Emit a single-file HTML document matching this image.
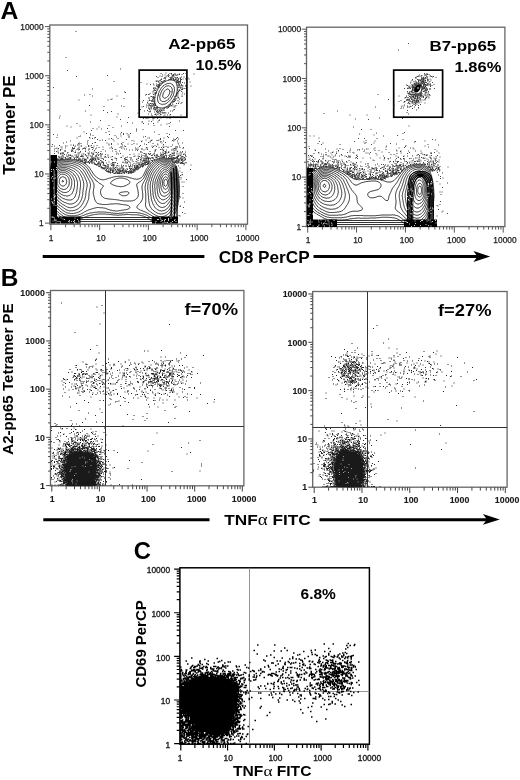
<!DOCTYPE html>
<html><head><meta charset="utf-8"><style>html,body{margin:0;padding:0;background:#fff;width:520px;height:780px;overflow:hidden}svg{display:block;will-change:transform}</style></head>
<body><svg width="520" height="780" viewBox="0 0 520 780">
<rect x="49.8" y="25" width="197.70" height="199.20" fill="none" stroke="#666" stroke-width="1.3"/>
<path d="M50.90 224.2v6M49.8 223.10h-4.8M65.58 224.2v3M49.8 208.31h-2.5M74.16 224.2v3M49.8 199.66h-2.5M80.25 224.2v3M49.8 193.52h-2.5M84.97 224.2v3M49.8 188.76h-2.5M88.83 224.2v3M49.8 184.87h-2.5M92.10 224.2v3M49.8 181.58h-2.5M94.93 224.2v3M49.8 178.74h-2.5M97.42 224.2v3M49.8 176.22h-2.5M99.65 224.2v6M49.8 173.97h-4.8M114.33 224.2v3M49.8 159.19h-2.5M122.91 224.2v3M49.8 150.54h-2.5M129.00 224.2v3M49.8 144.40h-2.5M133.72 224.2v3M49.8 139.64h-2.5M137.58 224.2v3M49.8 135.75h-2.5M140.85 224.2v3M49.8 132.46h-2.5M143.68 224.2v3M49.8 129.61h-2.5M146.17 224.2v3M49.8 127.10h-2.5M148.40 224.2v6M49.8 124.85h-4.8M163.08 224.2v3M49.8 110.06h-2.5M171.66 224.2v3M49.8 101.41h-2.5M177.75 224.2v3M49.8 95.27h-2.5M182.47 224.2v3M49.8 90.51h-2.5M186.33 224.2v3M49.8 86.62h-2.5M189.60 224.2v3M49.8 83.33h-2.5M192.43 224.2v3M49.8 80.49h-2.5M194.92 224.2v3M49.8 77.97h-2.5M197.15 224.2v6M49.8 75.72h-4.8M211.83 224.2v3M49.8 60.94h-2.5M220.41 224.2v3M49.8 52.29h-2.5M226.50 224.2v3M49.8 46.15h-2.5M231.22 224.2v3M49.8 41.39h-2.5M235.08 224.2v3M49.8 37.50h-2.5M238.35 224.2v3M49.8 34.21h-2.5M241.18 224.2v3M49.8 31.36h-2.5M243.67 224.2v3M49.8 28.85h-2.5M245.90 224.2v6M49.8 26.60h-4.8" stroke="#555" stroke-width="1.0" fill="none"/>
<g font-size="8.4" fill="#1a1a1a" stroke="#1a1a1a" stroke-width="0.25" font-family="Liberation Sans, sans-serif"><text x="43.6" y="226.3" text-anchor="end">1</text><text x="51.2" y="241.3" text-anchor="middle">1</text><text x="43.6" y="177.2" text-anchor="end">10</text><text x="100.9" y="241.3" text-anchor="middle">10</text><text x="43.6" y="128.0" text-anchor="end">100</text><text x="149.7" y="241.3" text-anchor="middle">100</text><text x="43.6" y="78.9" text-anchor="end">1000</text><text x="199.2" y="241.3" text-anchor="middle">1000</text><text x="43.6" y="29.8" text-anchor="end">10000</text><text x="247.7" y="241.3" text-anchor="middle">10000</text></g>
<rect x="306.5" y="27.2" width="198.40" height="199.40" fill="none" stroke="#666" stroke-width="1.3"/>
<path d="M307.70 226.6v6M306.5 226.40h-4.8M322.41 226.6v3M306.5 211.56h-2.5M331.02 226.6v3M306.5 202.88h-2.5M337.13 226.6v3M306.5 196.72h-2.5M341.86 226.6v3M306.5 191.94h-2.5M345.73 226.6v3M306.5 188.04h-2.5M349.00 226.6v3M306.5 184.74h-2.5M351.84 226.6v3M306.5 181.88h-2.5M354.34 226.6v3M306.5 179.36h-2.5M356.57 226.6v6M306.5 177.10h-4.8M371.29 226.6v3M306.5 162.26h-2.5M379.89 226.6v3M306.5 153.58h-2.5M386.00 226.6v3M306.5 147.42h-2.5M390.74 226.6v3M306.5 142.64h-2.5M394.61 226.6v3M306.5 138.74h-2.5M397.88 226.6v3M306.5 135.44h-2.5M400.71 226.6v3M306.5 132.58h-2.5M403.21 226.6v3M306.5 130.06h-2.5M405.45 226.6v6M306.5 127.80h-4.8M420.16 226.6v3M306.5 112.96h-2.5M428.77 226.6v3M306.5 104.28h-2.5M434.88 226.6v3M306.5 98.12h-2.5M439.61 226.6v3M306.5 93.34h-2.5M443.48 226.6v3M306.5 89.44h-2.5M446.75 226.6v3M306.5 86.14h-2.5M449.59 226.6v3M306.5 83.28h-2.5M452.09 226.6v3M306.5 80.76h-2.5M454.32 226.6v6M306.5 78.50h-4.8M469.04 226.6v3M306.5 63.66h-2.5M477.64 226.6v3M306.5 54.98h-2.5M483.75 226.6v3M306.5 48.82h-2.5M488.49 226.6v3M306.5 44.04h-2.5M492.36 226.6v3M306.5 40.14h-2.5M495.63 226.6v3M306.5 36.84h-2.5M498.46 226.6v3M306.5 33.98h-2.5M500.96 226.6v3M306.5 31.46h-2.5M503.20 226.6v6M306.5 29.20h-4.8" stroke="#555" stroke-width="1.0" fill="none"/>
<g font-size="8.4" fill="#1a1a1a" stroke="#1a1a1a" stroke-width="0.25" font-family="Liberation Sans, sans-serif"><text x="301.2" y="229.6" text-anchor="end">1</text><text x="308.0" y="243.2" text-anchor="middle">1</text><text x="301.2" y="180.3" text-anchor="end">10</text><text x="357.8" y="243.2" text-anchor="middle">10</text><text x="301.2" y="131.0" text-anchor="end">100</text><text x="406.8" y="243.2" text-anchor="middle">100</text><text x="301.2" y="81.7" text-anchor="end">1000</text><text x="456.3" y="243.2" text-anchor="middle">1000</text><text x="301.2" y="32.4" text-anchor="end">10000</text><text x="505.0" y="243.2" text-anchor="middle">10000</text></g>
<rect x="50.5" y="290.5" width="193.40" height="195.30" fill="none" stroke="#666" stroke-width="1.3"/>
<path d="M51.80 485.8v5.8M50.5 485.60h-4.4M66.14 485.8v3.4M50.5 471.08h-2.4M74.52 485.8v3.4M50.5 462.59h-2.4M80.47 485.8v3.4M50.5 456.57h-2.4M85.09 485.8v3.4M50.5 451.89h-2.4M88.86 485.8v3.4M50.5 448.07h-2.4M92.05 485.8v3.4M50.5 444.85h-2.4M94.81 485.8v3.4M50.5 442.05h-2.4M97.25 485.8v3.4M50.5 439.58h-2.4M99.42 485.8v5.8M50.5 437.38h-4.4M113.76 485.8v3.4M50.5 422.86h-2.4M122.15 485.8v3.4M50.5 414.37h-2.4M128.10 485.8v3.4M50.5 408.34h-2.4M132.71 485.8v3.4M50.5 403.67h-2.4M136.48 485.8v3.4M50.5 399.85h-2.4M139.67 485.8v3.4M50.5 396.62h-2.4M142.43 485.8v3.4M50.5 393.82h-2.4M144.87 485.8v3.4M50.5 391.36h-2.4M147.05 485.8v5.8M50.5 389.15h-4.4M161.39 485.8v3.4M50.5 374.63h-2.4M169.77 485.8v3.4M50.5 366.14h-2.4M175.72 485.8v3.4M50.5 360.12h-2.4M180.34 485.8v3.4M50.5 355.44h-2.4M184.11 485.8v3.4M50.5 351.62h-2.4M187.30 485.8v3.4M50.5 348.40h-2.4M190.06 485.8v3.4M50.5 345.60h-2.4M192.50 485.8v3.4M50.5 343.13h-2.4M194.68 485.8v5.8M50.5 340.93h-4.4M209.01 485.8v3.4M50.5 326.41h-2.4M217.40 485.8v3.4M50.5 317.92h-2.4M223.35 485.8v3.4M50.5 311.89h-2.4M227.96 485.8v3.4M50.5 307.22h-2.4M231.73 485.8v3.4M50.5 303.40h-2.4M234.92 485.8v3.4M50.5 300.17h-2.4M237.68 485.8v3.4M50.5 297.37h-2.4M240.12 485.8v3.4M50.5 294.91h-2.4M242.30 485.8v5.8M50.5 292.70h-4.4" stroke="#444" stroke-width="1.0" fill="none"/>
<g font-size="8.8" font-weight="bold" fill="#1a1a1a" stroke="#1a1a1a" stroke-width="0.1" font-family="Liberation Sans, sans-serif"><text x="44.8" y="488.8" text-anchor="end">1</text><text x="52.1" y="501.8" text-anchor="middle">1</text><text x="44.8" y="440.6" text-anchor="end">10</text><text x="100.6" y="501.8" text-anchor="middle">10</text><text x="44.8" y="392.3" text-anchor="end">100</text><text x="148.4" y="501.8" text-anchor="middle">100</text><text x="44.8" y="344.1" text-anchor="end">1000</text><text x="196.7" y="501.8" text-anchor="middle">1000</text><text x="44.8" y="295.9" text-anchor="end">10000</text><text x="244.1" y="501.8" text-anchor="middle">10000</text></g>
<rect x="312.7" y="291.5" width="194.40" height="195.70" fill="none" stroke="#666" stroke-width="1.3"/>
<path d="M314.20 487.2v5.8M312.7 487.20h-4.4M328.58 487.2v3.4M312.7 472.66h-2.4M336.99 487.2v3.4M312.7 464.16h-2.4M342.96 487.2v3.4M312.7 458.12h-2.4M347.59 487.2v3.4M312.7 453.44h-2.4M351.38 487.2v3.4M312.7 449.62h-2.4M354.57 487.2v3.4M312.7 446.38h-2.4M357.35 487.2v3.4M312.7 443.58h-2.4M359.79 487.2v3.4M312.7 441.11h-2.4M361.98 487.2v5.8M312.7 438.90h-4.4M376.36 487.2v3.4M312.7 424.36h-2.4M384.77 487.2v3.4M312.7 415.86h-2.4M390.74 487.2v3.4M312.7 409.82h-2.4M395.37 487.2v3.4M312.7 405.14h-2.4M399.15 487.2v3.4M312.7 401.32h-2.4M402.35 487.2v3.4M312.7 398.08h-2.4M405.12 487.2v3.4M312.7 395.28h-2.4M407.56 487.2v3.4M312.7 392.81h-2.4M409.75 487.2v5.8M312.7 390.60h-4.4M424.13 487.2v3.4M312.7 376.06h-2.4M432.54 487.2v3.4M312.7 367.56h-2.4M438.51 487.2v3.4M312.7 361.52h-2.4M443.14 487.2v3.4M312.7 356.84h-2.4M446.93 487.2v3.4M312.7 353.02h-2.4M450.12 487.2v3.4M312.7 349.78h-2.4M452.90 487.2v3.4M312.7 346.98h-2.4M455.34 487.2v3.4M312.7 344.51h-2.4M457.52 487.2v5.8M312.7 342.30h-4.4M471.91 487.2v3.4M312.7 327.76h-2.4M480.32 487.2v3.4M312.7 319.26h-2.4M486.29 487.2v3.4M312.7 313.22h-2.4M490.92 487.2v3.4M312.7 308.54h-2.4M494.70 487.2v3.4M312.7 304.72h-2.4M497.90 487.2v3.4M312.7 301.48h-2.4M500.67 487.2v3.4M312.7 298.68h-2.4M503.11 487.2v3.4M312.7 296.21h-2.4M505.30 487.2v5.8M312.7 294.00h-4.4" stroke="#444" stroke-width="1.0" fill="none"/>
<g font-size="8.8" font-weight="bold" fill="#1a1a1a" stroke="#1a1a1a" stroke-width="0.1" font-family="Liberation Sans, sans-serif"><text x="307.1" y="490.4" text-anchor="end">1</text><text x="314.5" y="503.2" text-anchor="middle">1</text><text x="307.1" y="442.1" text-anchor="end">10</text><text x="363.2" y="503.2" text-anchor="middle">10</text><text x="307.1" y="393.8" text-anchor="end">100</text><text x="411.1" y="503.2" text-anchor="middle">100</text><text x="307.1" y="345.5" text-anchor="end">1000</text><text x="459.5" y="503.2" text-anchor="middle">1000</text><text x="307.1" y="297.2" text-anchor="end">10000</text><text x="507.1" y="503.2" text-anchor="middle">10000</text></g>
<rect x="179.9" y="567.8" width="189.50" height="176.40" fill="none" stroke="#000" stroke-width="1.5"/>
<path d="M180.80 744.2v6.4M179.9 743.60h-5.8M194.88 744.2v3.8M179.9 730.47h-3.2M203.12 744.2v3.8M179.9 722.79h-3.2M208.96 744.2v3.8M179.9 717.34h-3.2M213.49 744.2v3.8M179.9 713.11h-3.2M217.20 744.2v3.8M179.9 709.65h-3.2M220.33 744.2v3.8M179.9 706.73h-3.2M223.04 744.2v3.8M179.9 704.20h-3.2M225.43 744.2v3.8M179.9 701.97h-3.2M227.57 744.2v6.4M179.9 699.98h-5.8M241.66 744.2v3.8M179.9 686.84h-3.2M249.89 744.2v3.8M179.9 679.16h-3.2M255.74 744.2v3.8M179.9 673.71h-3.2M260.27 744.2v3.8M179.9 669.48h-3.2M263.97 744.2v3.8M179.9 666.03h-3.2M267.10 744.2v3.8M179.9 663.11h-3.2M269.82 744.2v3.8M179.9 660.58h-3.2M272.21 744.2v3.8M179.9 658.35h-3.2M274.35 744.2v6.4M179.9 656.35h-5.8M288.43 744.2v3.8M179.9 643.22h-3.2M296.67 744.2v3.8M179.9 635.54h-3.2M302.51 744.2v3.8M179.9 630.09h-3.2M307.04 744.2v3.8M179.9 625.86h-3.2M310.75 744.2v3.8M179.9 622.40h-3.2M313.88 744.2v3.8M179.9 619.48h-3.2M316.59 744.2v3.8M179.9 616.95h-3.2M318.98 744.2v3.8M179.9 614.72h-3.2M321.12 744.2v6.4M179.9 612.73h-5.8M335.21 744.2v3.8M179.9 599.59h-3.2M343.44 744.2v3.8M179.9 591.91h-3.2M349.29 744.2v3.8M179.9 586.46h-3.2M353.82 744.2v3.8M179.9 582.23h-3.2M357.52 744.2v3.8M179.9 578.78h-3.2M360.65 744.2v3.8M179.9 575.86h-3.2M363.37 744.2v3.8M179.9 573.33h-3.2M365.76 744.2v3.8M179.9 571.10h-3.2M367.90 744.2v6.4M179.9 569.10h-5.8" stroke="#000" stroke-width="1.2" fill="none"/>
<g font-size="8.4" fill="#1a1a1a" stroke="#1a1a1a" stroke-width="0.35" font-family="Liberation Sans, sans-serif"><text x="170.1" y="747.7" text-anchor="end">1</text><text x="180.0" y="760.6" text-anchor="middle">1</text><text x="170.1" y="704.1" text-anchor="end">10</text><text x="228.2" y="760.6" text-anchor="middle">10</text><text x="170.1" y="660.5" text-anchor="end">100</text><text x="275.4" y="760.6" text-anchor="middle">100</text><text x="170.1" y="616.8" text-anchor="end">1000</text><text x="322.5" y="760.6" text-anchor="middle">1000</text><text x="170.1" y="573.2" text-anchor="end">10000</text><text x="369.4" y="760.6" text-anchor="middle">10000</text></g>
<text x="0.6" y="18.8" font-size="24.5" font-weight="bold" text-anchor="start" textLength="17.9" lengthAdjust="spacingAndGlyphs" font-family="Liberation Sans, sans-serif">A</text>
<text x="0.8" y="285.9" font-size="24.5" font-weight="bold" text-anchor="start" font-family="Liberation Sans, sans-serif">B</text>
<text x="133.7" y="559.0" font-size="24.5" font-weight="bold" text-anchor="start" textLength="17.2" lengthAdjust="spacingAndGlyphs" font-family="Liberation Sans, sans-serif">C</text>
<text x="168.3" y="49.0" font-size="15.5" font-weight="bold" text-anchor="start" textLength="67.3" lengthAdjust="spacingAndGlyphs" font-family="Liberation Sans, sans-serif">A2-pp65</text>
<text x="195.5" y="70.2" font-size="15.5" font-weight="bold" text-anchor="start" textLength="45.8" lengthAdjust="spacingAndGlyphs" font-family="Liberation Sans, sans-serif">10.5%</text>
<text x="429.5" y="51.3" font-size="15.5" font-weight="bold" text-anchor="start" textLength="66.7" lengthAdjust="spacingAndGlyphs" font-family="Liberation Sans, sans-serif">B7-pp65</text>
<text x="454.6" y="72.4" font-size="15.5" font-weight="bold" text-anchor="start" textLength="46.7" lengthAdjust="spacingAndGlyphs" font-family="Liberation Sans, sans-serif">1.86%</text>
<text x="184.4" y="315.1" font-size="16" font-weight="bold" text-anchor="start" textLength="53.6" lengthAdjust="spacingAndGlyphs" font-family="Liberation Sans, sans-serif">f=70%</text>
<text x="438" y="316.4" font-size="16" font-weight="bold" text-anchor="start" textLength="53.5" lengthAdjust="spacingAndGlyphs" font-family="Liberation Sans, sans-serif">f=27%</text>
<text x="300.6" y="599" font-size="14" font-weight="bold" text-anchor="start" textLength="35.3" lengthAdjust="spacingAndGlyphs" font-family="Liberation Sans, sans-serif">6.8%</text>
<text x="15.2" y="174.8" font-size="17" font-weight="bold" text-anchor="start" textLength="99.6" lengthAdjust="spacingAndGlyphs" transform="rotate(-90 15.2 174.8)" font-family="Liberation Sans, sans-serif">Tetramer PE</text>
<text x="218.8" y="262.5" font-size="16.5" font-weight="bold" text-anchor="start" textLength="90.9" lengthAdjust="spacingAndGlyphs" font-family="Liberation Sans, sans-serif">CD8 PerCP</text>
<text x="13.1" y="454.7" font-size="14.6" font-weight="bold" text-anchor="start" textLength="151.3" lengthAdjust="spacingAndGlyphs" transform="rotate(-90 13.1 454.7)" font-family="Liberation Sans, sans-serif">A2-pp65 Tetramer PE</text>
<text x="224.25" y="525" font-size="15.5" font-weight="bold" textLength="86.5" lengthAdjust="spacingAndGlyphs" font-family="Liberation Sans, sans-serif">TNF<tspan font-family="Liberation Serif, serif" font-weight="normal" font-size="17">&#945;</tspan> FITC</text>
<text x="145.8" y="687.5" font-size="14.5" font-weight="bold" text-anchor="start" textLength="87.2" lengthAdjust="spacingAndGlyphs" transform="rotate(-90 145.8 687.5)" font-family="Liberation Sans, sans-serif">CD69 PerCP</text>
<text x="233.1" y="776.3" font-size="14" font-weight="bold" textLength="78.3" lengthAdjust="spacingAndGlyphs" font-family="Liberation Sans, sans-serif">TNF<tspan font-family="Liberation Serif, serif" font-weight="normal" font-size="15.5">&#945;</tspan> FITC</text>
<path d="M42.7 256.4H204.4M313.5 256.4H478" stroke="#000" stroke-width="3" fill="none"/>
<path d="M490.2 256.5L473.4 251.1L477.5 256.5L473.4 261.9Z" fill="#000"/>
<path d="M43.3 519.7H209.5M319.5 519.7H488" stroke="#000" stroke-width="3" fill="none"/>
<path d="M499.8 519.6L482.9 514.1L487 519.6L482.9 524.8Z" fill="#000"/>
<rect x="139.2" y="70.1" width="47.7" height="47.1" fill="none" stroke="#000" stroke-width="1.7"/>
<rect x="393.7" y="70.1" width="48.9" height="47.1" fill="none" stroke="#000" stroke-width="1.7"/>
<path d="M105.5 290.5V485.8M50.5 426.5H243.9" stroke="#333" stroke-width="1" fill="none"/>
<path d="M367.5 291.5V487.2M312.7 427.5H507.1" stroke="#333" stroke-width="1" fill="none"/>
<path d="M249.5 567.8V744.2M179.9 691.5H369.4" stroke="#888" stroke-width="0.9" fill="none"/>
<path transform="scale(0.25)" d="M665 892l-2 0-2 0-2 0-2 0-2 0-2 0-2 0-2 0-2 0-2 0-2 0-2 0-2 0-2 0-2 0-2 0-2 0-2 0-2 0-2 0-2 0-2 0-2 0-1 0-1-1-2-1-2-2-2-1-1-1-1-1-2-1-2-2-2-1-1-1-1-1-2-1-2-2-2-1-2-1-2-1-1-1-1 0-2-2-1 0-1-1-2-1-1 0-1 0-2-1-1-1-1 0-2-1-2-1-1 0-1 0-2-1-2 0-2-1-2 0-2-1-2 0-2-1-2 0-2 0-2 0-2-1-2 0-2 0-2 0-2 0-2 0-2 0-2 0-2 0-2 0-2 0-2 0-2 0-2 0-2-1-2 0-2 0-2 0-2 0-2 0-2 0-2 0-2 0-2 0-2 1-2 0-2 0-2 0-2 0-2 0-2 0-2 1-2 0-2 0-2 0-2 0-2 0-2 1-2 0-2 0-2 0-2 0-2-1-2 0-2 0-2 0-2 0-2 0-2-1-2 0-2 0-2 0-2-1-2 0-2 0-2 0-2 0-2-1-2 0-2 0-2 0-2 0-2 0-2-1-2 0-2 0-2 0-2 0-2 0-1 0-1 0-2 0-2 0-2 0-2 0-2 0-2 0-2 0-2 0-2 0-2 1-2 0-2 0-2 0-2 0-2 1-2 0-1 0-1 0-2 1-2 0-2 0-2 1-1 0-1 0-2 1-2 0-2 1-2 0-2 1-2 0-2 1-2 0-2 1-2 1-1 0-1 0-2 1-2 1-2 1-2 0-1 1-1 0-2 1-2 1-2 1-2 0-2 1-2 1-2 0-2 1-2 1-2 0-2 1-2 1-2 0-2 1-2 0-2 0-2 1-2 0-2 0-2 0-2 0-2 0-2 0-2 0-2 0-2 0-2-1-2 0-2 0-2 0-2 0-2-1-2 0-2 0-2 0-2-1-2 0-2-1-2 0-1-1-1 0-2-1-2-1-2-1-1-1-1-1-2-1-2-2-2-1 0-1-2-1-1-1-1-1-1-1-1-1-1-1-1-1-1-1-1-1-1-1-1-1-1-1-1-1-1-1-1-1-1-1-1-1-1-1-1-1-1-1-1-1 0-1-2-2-2-2-1-2-1-1-1-1-1-2-1-2-1-1 0-1-2-2 0-1-1-1-1-2-1-2-1-2 0-2 0-2 0-2 0-2 0-2 0-2 0-2 0-2 0-2-1-2 0-2 0-2 0-2 0-2 0-2 0-2 0-2 0-2 0-2 0-2 0-2 0-2 0-2 0-2 0-2 0-2 0-2 0-2 0-2 0-2 0-2 0-2 0-2 0-2 0-2 0-2 0-2 0-2 0-2 0-2 0-2 0-2 0-2 0-2 0-2 0-2 0-2 0-2 0-2 0-2 0-2 0-2 0-2 0-2 0-2 0-2 0-2 0-2 0-2 0-2 0-2 0-2 0-2 0-2 0-2 0-2 0-2 0-2 0-2 0-2 0-2 1-2 0-2 0-2 0-2 0-2 0-2 0-1 1-1 1-2 2-2 2-2 2-2 2-2 2-1 1-1 1-1 2-1 2-1 1-1 1 0 2-1 1-1 1 0 2-1 2-1 2-1 2-1 1 0 1 0 2-1 2 0 2-1 2 0 2-1 2 0 2-1 2 0 1 0 1 0 2 0 2-1 2 0 2 0 2 0 2 0 2 0 2 0 2 0 2 0 2 0 2 0 2 0 2 0 2 0 2 0 2 0 2 1 2 0 1 0 1 0 2 1 2 0 2 0 2 1 1 0 1 0 2 1 2 0 2 1 1 0 1 0 2 1 2 1 1 0 1 0 2 1 2 1 1 0 1 0 2 1 2 1 2 1 2 1 2 1 2 1 2 2 1 0 1 1 2 1 2 2 2 2 2 2 2 2 2 2 2 2 2 2 0 1 1 1 1 1 1 1 1 2 1 2 1 1 1 1 1 2 1 2 1 1 1 1 1 2 1 2 1 2 1 0 1 2 1 2 1 1 1 1 1 1 1 1 1 2 2 2 2 2 2 2 1 0 1 1 1 1 1 1 2 1 2 1 1 1 1 1 2 1 1 0 1 0 2 1 2 1 1 0 1 0 2 1 2 0 2 0 2 0 2 0 2 0 2-1 1 0 1 0 2-1 2 0 2-1 1 0 1-1 2 0 2-1 1 0 1-1 2 0 2-1 1 0 1 0 2-1 2-1 1 0 1 0 2-1 2 0 2-1 2 0 2-1 2 0 2 0 2-1 2 0 1 0 1 0 2 0 2-1 2 0 2 0 2 0 2 0 2 0 2 0 2 0 2 0 2 0 2 0 2 0 2 1 2 0 1 0 1 0 2 0 2 1 2 0 2 1 2 0 2 0 2 1 2 0 2 1 2 1 2 0 2 1 1 0 1 0 2 1 2 1 1 0 1 0 2 1 2 0 2 1 2 0 2 0 2 0 2 1 2 0 2 0 2-1 2 0 2 0 2-1 2-1 2-1 2-1 2-1 1-1 1-1 1-1 1-1 1-1 1-2 2-2 0-1 1-1 1-2 1-2 1-2 1-2 1-2 1-2 1-2 0-1 1-1 1-2 0-1 1-1 1-2 0-1 1-1 1-2 1-2 1-1 1-1 1-2 1-2 1-1 1-1 1-2 2-2 2-2 2-2 0-1 1-1 1-1 1-1 1-1 1-1 1-1 2-1 0-1 2-1 2-2 1 0 1-1 2-1 2-1 2-1 2-1 2-1 2-1 2-1 1 0 1 0 2-1 2 0 2-1 1 0 1 0 2-1 2 0 2 0 2 0 2-1 2 0 2 0 2 0 2 0 2 1 2 0 2 0 2 1 2 0 2 1 2 0 2 1 2 1 2 1 1 0 1 1 2 1 1 0 1 1 2 1 2 1 1 1 1 1 1 1 1 1 2 1 0 1 2 1 0 1 1 1 1 1 1 1 1 2 2 2 0 1 1 1 1 2 1 2 1 2 1 2 1 2 0 1 1 1 0 2 1 2 0 1 1 1 0 2 1 2 0 2 1 2 0 2 0 2 1 2 0 2 0 2 1 2 0 2 0 2 0 2 1 2 0 2 0 2 0 2 0 1 0 1 0 2 1 2 0 2 0 2 0 2 0 2 0 2 1 2 0 2 0 2 0 2 0 2 0 2 0 1 0 1 0 2 0 2 1 2 0 2 0 2 0 2 0 2 0 2 0 2 0 2 0 2 0 2 0 2-1 2 0 2 0 2 0 2 0 2 0 2 0 2-1 2 0 2 0 2 0 2 0 2-1 2 0 1 0 1 0 2 0 2-1 2 0 2 0 2-1 2 0 1 0 1 0 2-1 2 0 2 0 2-1 2 0 2-1 2 0 2-1 2 0 1 0 1-1 2 0 2-1 2 0 2-1 2-1 2-1 2 0 2-1 1 0 1-1 2-1 2-1 2-1 2-1 2-1 2-1 2-1 2-1 2-1 2-1 2-1 1-1 1-1 2-1 2-1 0-1 2-1 1-1 1-1 1-1 1-1 1-1 1-1 1-2 1-2 2-1 0-1 1-2 1-2 1-2 1-2 0M505 782l2-1 2-1 2-1 1-1 1-1 1-1 1-2 0-2 0-2-2-2-2-1-2 0-2 0-2 0-2 0-2 0-2 0-2 0-2 1-2 0-2 0-2 1-2 0-2 0-2 1-1 0-1 0-2 1-1 1-1 2 1 2 1 1 2 1 2 2 1 0 1 1 2 0 2 1 2 1 2 0 2 0 2 0 2 0 2 0 2-1 2 0M653 886l-2 0-2 1-2 0-2 0-2 0-2 0-2 0-2 0-2 0-2 0-2-1-1 0-1 0-2-1-2-1-2-1-2-1-2-1-2-1-2-1-1-1-1-1-1-1-1 0-2-2-2-1-1-1-1 0-2-2-2-1-1-1-1 0-2-1-1-1-1-1-2-1-2-1-2-1-2-1-2-1-1 0-1-1-2 0-2-1-2-1-2-1-1 0-1 0-2-1-2 0-2-1-2 0-2-1-2 0-2-1-2 0-2 0-2-1-2 0-2 0-2-1-2 0-2 0-1 0-1 0-2 0-2 0-2 0-2 0-2 0-2 0-2 0-2 0-1 0-1 0-2 0-2 0-2 0-2 0-2 0-2 1-2 0-2 0-2 0-2 0-2 0-2 0-2 0-2 0-2 1-2 0-1 0-1 0-2 0-2 1-2 0-2 0-2 0-2 0-2 1-2 0-2 0-2 0-2 0-2 0-2 0-2-1-2 0-2 0-2 0-2 0-2-1-2 0-2 0-2 0-2-1-2 0-2 0-2-1-2 0-1 0-1 0-2 0-2-1-2 0-2 0-2 0-2-1-2 0-2 0-2 0-1 0-1 0-2 0-2 0-2 0-2 0-2 0-2 0-2 0-2 0-2 0-2 0-2 0-2 0-2 1-2 0-2 0-2 0-2 0-2 1-2 0-1 0-1 0-2 1-2 0-2 0-2 1-2 0-2 0-2 1-2 0-2 1-2 0-2 1-2 1-1 0-1 0-2 1-2 1-1 0-1 0-2 1-2 1-2 1-2 1-1 0-1 1-2 0-1 1-1 0-2 1-2 1-1 0-1 0-2 1-2 1-2 0-2 1-2 1-1 0-1 0-2 1-2 0-2 0-2 1-2 0-2 0-2 0-2 0-2 0-2 0-2 0-2 0-1 0-1 0-2 0-2 0-2-1-2 0-2 0-2 0-2-1-1 0-1 0-2-1-2 0-2-1-2-1-2 0-1-1-1 0-2-1-1-1-1-1-2-1-2-1-1-1-1-1-1-1-1-1-1-1-1 0-2-2-2-2-2-2-2-1 0-1-2-1-1-1-1-1-1-1-1-1-1-1-1-1 0-1-2-2-2-2-2-2-1-2-1-1 0-1-2-2-1-2-1-1 0-1-2-2-1-2-1-2-1-2-1-2-1-2-1-2-1-2-1-1 0-1 0-2 0-2 0-2 0-2 0-2 0-2 0-2 0-2 0-2-1-2 0-2 0-2 0-2 0-2 0-2 0-2 0-2 0-2 0-2 0-2 0-2 0-2 0-2 0-2 0-2 0-2 0-2 0-2 0-2 0-2 0-2 0-2 0-2 0-2 0-2 0-2 0-2 0-2 0-2 0-2 0-2 0-2 0-2 0-2 0-2 0-2 0-2 0-2 0-2 0-2 0-2 0-2 0-2 0-2 0-2 0-2 0-2 0-2 0-2 0-2 1-2 0-2 0-2 0-2 0-2 0-2 0-1 1-1 1-2 2-2 0-1 1-1 1-1 1-1 1-1 1-1 1-1 1-1 1-1 1-1 1-1 2-1 2-2 2-1 2-1 2-1 2-1 2-1 2-1 2-1 2-1 1 0 1 0 2-1 2-1 2 0 2-1 2 0 2 0 2-1 2 0 1 0 1 0 2 0 2-1 2 0 2 0 2 0 2 0 2 0 2 0 2 0 2 0 2 0 2 0 2 0 2 1 2 0 1 0 1 0 2 0 2 1 2 0 2 1 2 0 2 1 2 0 2 1 1 0 1 0 2 1 2 0 2 1 2 1 2 1 1 0 1 0 2 1 2 1 2 1 2 1 2 1 1 1 1 0 2 2 1 0 1 1 1 1 1 1 2 1 2 2 2 2 2 2 2 2 0 1 1 1 1 1 1 1 1 2 2 2 1 2 1 2 2 2 0 1 1 1 1 2 1 2 1 2 1 2 1 1 1 1 1 2 0 1 1 1 1 2 2 2 1 2 1 1 1 1 1 2 2 2 2 2 2 2 0 1 2 1 0 1 2 1 0 1 2 1 0 1 2 1 2 2 2 2 2 1 1 1 1 1 2 1 2 2 1 0 1 1 2 1 2 1 1 1 1 1 2 1 1 0 1 1 1 1 1 2 0 2-1 2-1 1-1 1-1 1 0 1-2 2-1 2-1 1-1 1 0 2-1 1 0 1-1 2 0 2 0 2 0 2 0 2 1 2 0 2 1 2 1 2 0 1 1 1 1 2 2 2 2 2 2 2 1 0 1 1 2 1 1 0 1 1 2 0 2 1 1 0 1 0 2 1 2 0 2 0 2 1 2 0 2 0 2 0 2 0 2 1 2 0 2 0 2 0 2 0 2 1 2 0 2 0 1 0 1 0 2 0 2 1 2 0 2 0 2 0 2 1 2 0 2 0 2 1 2 0 2 1 2 0 2 0 2 1 2 0 2 0 2 0 2 1 2 0 2 0 2 0 2 0 2 0 2 0 2 0 2 0 2 0 2 0 2 0 2 0 2 0 2 0 2 0 2-1 2 0 2 0 2-1 1 0 1-1 2 0 2-1 2-1 1-1 1-1 2-1 2-2 2-2 0-1 1-1 1-2 1-2 1-2 0-2 0-2 1-2 0-2-1-2 0-2 0-2 0-2-1-2 0-2 0-2-1-2 0-2-1-2 0-2-1-2 0-2-1-2 0-2-1-2 0-1 0-1 0-2 0-2 1-2 1-2 1 0 1-1 1-1 1-1 2-1 2-2 1 0 1-1 2-1 2-2 1 0 1-1 1-1 1-1 1-1 1-1 1-1 1-1 1-1 1-1 1-1 1-2 1-2 1-2 1-2 1-1 0-1 1-2 1-2 1-2 1-2 1-2 1-2 0-1 1-1 0-2 1-2 1-2 1-2 1-2 1-1 1-1 1-2 0-1 1-1 1-2 2-2 1-2 1-1 1-1 1-2 1 0 1-2 2-2 2-2 0-1 1-1 1-1 1-1 1-1 1-1 1-1 2-1 2-2 2-1 1-1 1-1 2-1 2-1 2-1 2-1 2-1 1 0 1 0 2-1 2-1 2 0 2-1 2 0 2 0 2-1 2 0 2 0 2 0 2 0 2 0 2 0 2 1 2 0 2 0 2 1 2 1 2 0 2 1 2 1 2 1 2 1 2 1 2 2 1 0 1 1 1 1 1 1 2 1 0 1 2 1 0 1 1 1 1 1 1 1 1 2 2 2 0 1 1 1 1 2 1 2 1 2 1 2 1 2 1 2 1 2 0 1 1 1 0 2 1 2 0 1 0 1 1 2 1 2 0 2 0 1 0 1 1 2 0 2 1 2 0 2 0 2 0 1 0 1 1 2 0 2 0 2 0 2 0 2 1 2 0 2 0 2 0 2 0 2 1 2 0 2 0 2 0 2 0 2 0 2 1 2 0 2 0 2 0 2 0 2 0 2 0 2 0 2 0 2 0 2 0 2 0 2 0 2 0 2 0 2 0 2 0 2 0 2 0 2 0 2-1 2 0 2 0 2 0 2-1 2 0 2 0 2 0 2-1 2 0 2 0 2-1 2 0 2-1 2 0 2 0 2-1 2 0 2-1 2 0 2-1 2 0 2-1 2 0 2-1 1 0 1-1 2 0 2-1 1 0 1-1 2-1 2 0 1 0 1-1 2-1 2-1 2-1 2-1 2-1 2-1 2-1 2-1 2-1 1 0 1-1 2-1 1-1 1-1 2-1 2-1 1-1 1-1 1-1 1-1 1 0 1-2 1 0 1-2 1-1 1-1 1-1 1-1 0-2 2-1 0-1 1-2 1-1 0-1 1-2 0-2 1-2 1-2 0-2 1-1 0-1 0M489 746l-2 0-2 1-2 0-2 0-2-1-2 0-2 0-1 0-1 0-2-1-2 0-2 0-2-1-2-1-2 0-2-1-2-1-2 0-2-1-2-1-2-1-2-1-2-1-2-2 0-2 0-1 0-1 2-2 2-2 0-1 2-1 2-2 2-1 2-1 2-1 1-1 1-1 2 0 1-1 1 0 2-1 2-1 1 0 1 0 2-1 2 0 2 0 2-1 2 0 2 0 2 0 2 0 2 0 2 0 2 1 2 0 2 0 2 1 1 0 1 0 2 1 2 1 1 0 1 0 2 1 2 1 2 1 1 1 1 1 2 1 2 2 2 2 0 2 0 2 0 1 0 1-2 2-2 2-2 1-1 1-1 0-2 1-1 1-1 1-2 0-1 1-1 0-2 1-2 1-2 0-2 1-2 1-2 0-1 0-1 0M653 876l-2 1-2 0-2 0-2 0-2 0-2 0-2 0-2 0-2-1-2 0-2-1-2 0-2-1-2-1-2-1-2-1-2-1-2-1-1-1-1-1-2-1-2-1-1-1-1 0-2-2-1 0-1-1-2-1-2-1-1-1-1 0-2-2-2-1-2-1-2-1-2-1-2-1-2-1-2-1-2-1-2-1-2-1-2-1-2 0-1-1-1 0-2-1-2-1-2-1-2 0-1-1-1 0-2-1-2-1-2-1-1-1-1 0-2-2-2-2-1-2 0-2 0-2 1-1 1-1 1-2 2-2 0-1 1-1 1-1 1-1 1-1 1-1 1-1 1-1 1-1 1-1 1-2 1 0 1-2 1-2 1-2 1-2 1-2 0-1 0-1 1-2 0-2 1-2 0-2 0-2 0-2 0-2 0-2 0-2 0-2 0-2 0-2-1-2 0-2 0-2 0-2-1-2 0-2 0-2 0-2-1-2 0-2 0-2 0-2 0-2 0-2 1-2 0-2 1-2 1-2 0-1 1-1 1-2 0-1 1-1 1-2 1-2 1-2 1-2 1-1 1-1 1-2 0-1 1-1 1-2 0-1 1-1 0-2 1-2 1-2 1-2 0-1 1-1 0-2 1-2 1-2 1-2 0-1 1-1 0-2 1-2 1-2 1-1 0-1 2-2 0-1 1-1 1-2 1-2 1-1 1-1 1-2 2-2 1-2 1-1 1-1 1-1 1-1 1-2 2-2 2-2 2-2 2-2 2-2 1 0 1-1 1-1 1-1 2-1 2-1 2-1 2-1 2-1 2-1 2 0 2-1 2 0 2-1 2 0 2 0 2-1 2 0 2 0 2 0 2 1 2 0 2 0 2 1 1 0 1 0 2 1 2 1 1 0 1 1 2 1 1 0 1 1 2 1 2 1 1 1 1 1 1 1 1 1 1 1 1 1 1 1 1 1 1 1 1 2 1 0 1 2 1 2 1 2 2 2 0 1 1 1 1 2 0 1 1 1 0 2 1 2 1 2 1 2 0 2 1 2 1 2 0 2 1 2 0 2 0 2 1 2 0 2 1 2 0 2 0 2 0 2 1 2 0 2 0 2 0 2 1 2 0 2 0 2 0 2 0 2 1 2 0 2 0 2 0 2 0 2 1 2 0 2 0 2 0 2 0 2 0 2 0 2 0 2 0 2 0 2 0 2 0 2 0 2 0 2 0 2 0 2 0 2 0 2 0 2-1 2 0 2 0 2 0 2-1 2 0 2 0 2-1 2 0 1 0 1 0 2-1 2 0 2-1 2 0 2-1 2 0 2-1 2-1 2 0 2-1 2 0 2-1 2-1 2 0 2-1 2-1 2-1 2 0 2-1 1 0 1-1 2-1 2-1 2-1 2-1 2-1 2-1 2-1 1 0 1-2 2-1 2-1 2-1 2-1 0-1 2-1 1-1 1-1 1 0 1-2 2-2 2-2 1-1 1-1 1-2 1-2 1-1 1-1 0-2 1-2 1-2 1-2 0-2 1-1 0-1 0M303 862l-2 1-2 0-2 0-2 0-2 0-2 0-2 0-2 0-2 0-2 0-2 0-2 0-2-1-2 0-1 0-1 0-2-1-2 0-2-1-1 0-1 0-2-1-2-1-2-1-2-1-2-1-2-1-2-2-2-1-1-1-1-1-2-1-2-2-2-1-1-1-1-1-1-1-1-1-1-1-1-1-1-1-1 0-2-2-2-2-2-2-1-2-1-1-1-1-1-1-1-1-1-1 0-1-2-2-1-2-1-1 0-1-2-2-1-2-1-2-1-2-1-1 0-1-1-2-1-1-1-1-1-2-1-2-1-2-1-2-1-2 0-2 0-2 0-2 0-2 0-2 0-2 0-2 0-2 0-2 0-2 0-2 0-2-1-2 0-2 0-2 0-2 0-2 0-2 0-2 0-2 0-2 0-2 0-2 0-2 0-2 0-2 0-2 0-2 0-2 0-2 0-2 0-2 0-2 0-2 0-2 0-2 0-2 0-2 0-2 0-2 0-2 0-2 0-2 0-2 0-2 0-2 0-2 0-2 1-2 0-2 0-2 0-2 0-2 0-2 0-2 0-2 1-2 1-2 2-2 0-1 1-1 1-2 2-2 2-2 0-1 1-1 1-1 1-1 1-1 2-1 2-2 2-1 1-1 1-1 2-1 2-1 2-1 2-1 2-1 1 0 1-1 2 0 2-1 2-1 2 0 2-1 2 0 2-1 2 0 2 0 2 0 2-1 2 0 2 0 2 0 1 0 1 0 2 0 2 0 1 0 1 0 2 0 2 0 2 0 2 1 2 0 2 0 2 0 2 1 2 0 2 1 2 0 2 1 2 0 2 1 2 0 2 1 2 1 2 0 2 1 2 1 2 1 2 1 2 1 2 1 2 1 2 1 1 1 1 1 2 1 2 2 2 2 1 0 1 1 1 1 1 2 1 0 1 2 2 2 2 2 0 1 1 1 1 2 2 2 0 1 1 1 1 2 1 2 1 2 1 2 1 1 1 1 1 2 0 1 1 1 1 2 0 1 1 1 1 2 1 2 1 2 2 2 0 1 1 1 1 2 2 2 0 1 1 1 1 2 1 2 1 2 1 2 1 2 1 2 1 2 0 2 1 2 0 2 0 2 0 2 0 2 0 2 0 2 0 2-1 2 0 2-1 2 0 2 0 2 0 2-1 2 0 2 0 2 0 2 0 2 1 2 0 2 0 2 1 2 0 2 1 2 0 2 1 2 0 1 0 1 1 2 1 2 0 2 1 2 1 2 0 1 1 1 1 2 1 2 1 1 1 1 1 1 1 1 1 1 2 1 1 0 1 0 2 1 2 1 2 0 1 0 1 0 2 1 2 0 2 0 2 1 2 0 1 0 1 0 2 0 2 0 2 0 2 0 2 0 2 0 2 0 2 0 2 0 2-1 2 0 2 0 2 0 2-1 2 0 2 0 2 0 2 0 2 0 2 0 2-1 2 0 2 0 2 0 2 0 2 0 2 0 2 0 2 0 2 1 2 0 2 0 2 0 2 1 2 0 2 0 2 1 2 0 1 0 1 0 2 0 2 1 2 0 2 0 2 0 2 1 2 0 2 0 2 1 2 1 1 0 1 0 2 2 1 0 1 1 1 1 1 2 1 2-1 1 0 1-2 2-2 1-2 1-2 1-2 0-2 1-2 0-2 1-2 0-2 0-2 0-2 1-1 0-1 0-2 0-2 1-2 0-2 0-2 1-1 0-1 0-2 0-2 1-2 0-2 0-2 1-2 0-2 0-2 0-2 0-2 0-2-1-2 0-2 0-2 0-2-1-2 0-2-1-2 0-2 0-2-1-2-1-2 0-2-1-2 0-2-1-2-1-2-1-2 0-2-1-2-1-2 0-2-1-1 0-1 0-2 0-2-1-2 0-2 0-2 0-2 0-2 0-2 0-2-1-2 0-2 0-2 0-2 0-2 0-2 1-2 0-2 1-1 0-1 0-2 1-2 0-2 1-2 0-2 1-2 1-2 0-2 1-2 1-1 0-1 0-2 1-2 1-1 0-1 0-2 1-1 1-1 0-2 1-2 1-2 1-1 1-1 0-2 1-1 1-1 0-2 1-1 1-1 1-2 1-2 1-2 1-2 1-2 1-1 0-1 1-2 0-1 1-1 0-2 1-2 1-1 0-1 0-2 1-2 0-2 1-1 0-1 0M651 866l-2 1-2 0-2 0-2 0-2 0-2-1-2 0-2 0-2-1-2-1-1 0-1 0-2-1-2-1-2-1-2-1-2-1-1-1-1 0-2-2-2-1-2-1-2-1-1-1-1-1-2-1-2-2-2-1-1-1-1-1-2-1-2-2-2-2-2-1 0-1-2-1 0-1-2-2-1-2-1-1 0-1-1-2-1-2 0-2-1-2 0-2 0-2 0-2 0-2 0-2 1-2 0-2 0-2 0-2 0-2 0-2 0-2 0-2 0-2 0-2 0-2 0-2 0-2 0-2 0-2 0-2 0-2 0-2 0-2-1-2 0-2 0-2 0-2 0-2-1-2 0-2 0-1 0-1 0-2 0-2 0-2-1-2 0-2 1-2 0-2 0-2 0-2 1-2 0-2 1-2 0-1 1-1 0-2 1-2 1-2 1-2 0-1 1-1 0-2 1-2 1-2 1-2 0-1 0-1 1-2 1-2 0-1 1-1 0-2 1-2 0-1 1-1 0-2 1-2 1-2 1-2 1-2 1-2 1-2 1-2 2-2 0-1 1-1 1-2 2-2 0-1 1-1 1-1 1-1 1-2 2-2 2-2 0-1 1-1 1-1 1-1 1-1 1-1 1-1 1-1 1-1 2-1 2-2 2-1 1-1 1-1 2-1 1 0 1-1 2-1 1 0 1 0 2-1 2-1 2 0 2 0 2-1 2 0 2 0 2 0 2 0 2 1 2 0 2 1 2 0 2 1 2 1 2 1 2 1 2 1 2 2 1 0 1 1 1 1 1 1 1 1 1 1 1 1 1 2 2 2 1 2 1 2 2 2 0 1 1 1 1 2 0 1 1 1 1 2 0 2 1 2 1 2 0 1 1 1 0 2 1 2 0 1 0 1 1 2 0 2 1 2 0 2 1 2 0 2 0 2 1 2 0 2 0 2 1 2 0 2 0 2 0 2 1 2 0 2 0 2 0 2 0 2 1 2 0 2 0 2 0 2 0 2 1 2 0 2 0 2 0 2 0 2 0 2 0 2 0 2 0 2 0 2 0 2 0 2 0 2 0 2 0 2-1 2 0 2 0 2 0 2-1 2 0 2 0 2-1 2 0 2-1 2 0 2-1 2 0 2-1 1 0 1-1 2 0 2-1 2-1 2 0 2-1 1 0 1-1 2-1 2 0 1 0 1-1 2-1 2-1 2-1 2 0 2-1 2-1 1 0 1-1 2-1 1 0 1-1 2-1 1 0 1-2 2-1 2-1 1 0 1-2 2-1 2-1 1-1 1-1 1 0 1-2 2-2 2-2 1-1 1-1 1-1 1-1 0-2 1-1 1-1 1-2 0-1 1-1 0-2 1-2 0-2 1-2 0M301 852l-2 1-2 0-2 0-2 1-2 0-2 0-2 0-2 0-2 0-2 0-2-1-2 0-2 0-2-1-1 0-1 0-2-1-2 0-1-1-1 0-2-1-1-1-1 0-2-1-1-1-1-1-2-1-2-1-1-1-1-1-1-1-1 0-2-2-2-2-2-1-1-1-1-1-1-1-1 0-2-2-2-2-2-1 0-1-2-1 0-1-2-1 0-1-2-2-2-2-1-2-1-1-1-1-1-1 0-1-2-2-1-2-1-1 0-1-1-2-1-1-1-1-1-2-1-2-1-2-1-2-1-1 0-1-1-2-1-2-1-2-1-2 0-2-1-2-1-2 0-1 0-1 0-2 0-2 0-2 0-2 0-2 0-2 0-2 0-2 0-2 0-2 0-2 0-2 0-2 0-2 0-2-1-2 0-2 0-2 0-2 0-2 0-2 0-2 0-2 0-2 0-2 0-2 0-2 0-2 0-2 0-2 0-2 0-2 1-2 0-2 0-2 0-2 0-2 0-2 0-2 0-2 0-2 0-2 1-2 1-2 1-2 1-2 1-2 1-2 2-2 0-1 1-1 1-2 1 0 1-2 2-2 2-2 2-2 2-1 1-1 1-1 2-1 2-1 1-1 1-1 2-1 1 0 1 0 2-1 2-1 2-1 2 0 2-1 2 0 2-1 2 0 2-1 2 0 1 0 1 0 2 0 2 0 2 0 2 0 2 0 2 0 2 0 2 0 1 0 1 0 2 0 2 1 2 0 2 0 2 1 2 0 2 0 2 1 2 1 2 0 2 1 2 0 2 1 2 1 2 1 1 0 1 1 2 0 1 1 1 0 2 1 1 1 1 1 2 1 2 1 1 1 1 1 2 1 2 2 2 2 2 2 2 2 2 2 1 2 1 1 1 1 1 2 2 2 0 1 1 1 1 2 1 2 1 2 1 2 1 2 1 2 1 2 1 2 1 1 1 1 1 2 0 1 1 1 1 2 0 1 1 1 1 2 0 1 1 1 1 2 0 1 1 1 1 2 0 2 1 2 0 2 1 2 0 2 1 2 0 2 0 2-1 2 0 2 0 1 0 1 0 2-1 2 0 2-1 2 0 2-1 2 0 2-1 2 0 1 0 1 0 2 0 2-1 2 0 2 0 2 0 2 0 2 0 2 0 2-1 2 0 2 0 1 0 1 0 2 0 2-1 2 0 2-1 2-1 2 0 2-1 1 0 1-1 2-1 2-1 2-1 2-1 2-1 2-1 2-1 2-1 2-1 1-1 1-1 2-2 2-1 2-1 1-1 1-1 1-1 1-1 1-1 1-1 1-2 1-2 2-2 1-1 1-1 0-2 2-2 1-2 1-2 1-2 0-1 1-1 0-2 1-2 0-2 1-2 0M655 854l-2 1-2 0-2 1-2 0-2 0-2 0-2 0-2-1-2 0-2-1-1 0-1 0-2-1-2-1-2-1-2-1-2-1-1-1-1 0-2-2-2-1-1-1-1-1-2-1-2-2-2-2-2-2-1-2-1-1-1-1-1-2-1-2-1-1 0-1-1-2-1-2 0-2-1-2 0-2-1-2 0-2-1-2 0-2 0-2-1-2 0-2 0-2 0-2 0-2-1-2 0-2 0-2 0-2 0-2 0-2-1-2 0-2 0-1 0-1 0-2 0-2 0-2-1-2 0-2 0-2 0-2 0-2 0-2-1-2 0-2 0-2 0-2 0-2 0-2 0-2 0-2 0-2 0-1 0-1 1-2 0-2 0-2 1-2 0-1 0-1 1-2 1-2 0-2 1-2 1-2 0-2 1-2 1-2 0-2 1-2 1-2 0-2 1-2 1-2 0-1 1-1 0-2 1-2 1-2 1-2 1-2 1-2 2-2 0-1 1-1 1-2 2-2 0-1 1-1 1-1 1-1 1-2 2-2 2-2 0-1 1-1 1-1 1-1 1-1 1-1 1-1 1-1 1-1 2-1 0-1 2-1 2-1 1-1 1-1 2-1 1 0 1-1 2 0 2-1 2-1 2 0 2 0 2 0 2 0 2 0 2 0 2 0 2 1 2 1 2 0 1 1 1 0 2 2 1 0 1 1 2 1 2 2 2 2 2 2 2 2 0 1 1 1 1 2 2 2 0 1 1 1 1 2 0 1 1 1 1 2 0 1 1 1 0 2 1 2 1 2 1 2 0 2 1 2 0 2 1 2 0 2 1 2 0 2 0 2 1 2 0 2 0 1 0 1 1 2 0 2 0 2 1 2 0 2 0 2 0 1 0 1 1 2 0 2 0 2 0 2 0 2 1 2 0 2 0 2 0 2 0 2 0 2 0 2 0 2 0 2 0 2 0 2 0 2 0 2 0 2 0 2 0 2 0 2-1 2 0 2 0 2-1 2 0 1 0 1 0 2-1 2 0 2-1 1 0 1-1 2 0 2-1 2-1 2 0 2-1 1 0 1-1 2-1 2-1 2 0 2-1 1 0 1-1 2-1 1 0 1-1 2-1 1 0 1-1 2-1 2-1 2-1 2-1 2-1 1 0 1-1 2-1 1-1 1-1 2-1 2-1 0-1 2-1 1-1 1-1 1-1 1-1 1-1 1-1 1-1 1-1 1-2 1-2 1-2 1-2 1-2 1-2 0M295 842l-2 0-2 1-2 0-2 0-2 0-2 0-2 0-2 0-2 0-2-1-1 0-1 0-2-1-2-1-1 0-1 0-2-1-1-1-1-1-2-1-2-1-1-1-1 0-2-2-2-1-1-1-1-1-2-1-2-2-2-1-1-1-1 0-2-2-2-1 0-1-2-1-1-1-1-1-1-1-1-1-1-1-1-1-1-1-1-1-1-1-1-1 0-1-2-2-1-2-1-1-1-1-1-1 0-1-1-2-1-1-1-1-1-2-1-2-1-1 0-1-1-2-1-1 0-1-1-2-1-1 0-1-1-2-1-2 0-2-1-2-1-2 0-1 0-1-1-2 0-2-1-2 0-1 0-1 0-2-1-2 0-2-1-2 0-2 0-2 0-2 0-2 0-2 0-2 0-2 0-2 0-2 0-2 0-2 0-2 0-2 0-2 0-2 0-2 0-2 0-2 0-2 0-2 0-2 0-2 0-2 0-2 0-2 1-2 1-2 0-2 1-2 1-2 0-1 1-1 1-2 0-1 1-1 1-2 0-1 1-1 1-2 2-2 0-1 1-1 1-1 1-1 1-2 1 0 1-2 1 0 1-1 1-1 1-1 2-1 2-2 1 0 1-1 2-1 2-1 2-1 1 0 1-1 2 0 2-1 2 0 2-1 2 0 2-1 2 0 2 0 2 0 2 0 2 0 2 0 2 0 2 0 1 0 1 0 2 0 2 1 2 0 2 0 2 1 1 0 1 0 2 1 2 0 2 1 1 0 1 0 2 1 2 1 1 0 1 0 2 1 2 1 2 1 2 1 2 1 2 1 2 1 1 1 1 1 2 1 2 2 1 0 1 1 1 1 1 1 1 1 1 1 1 1 1 1 1 1 1 2 2 2 1 2 1 1 1 1 1 2 1 2 1 2 2 2 0 1 1 1 1 2 0 1 1 1 1 2 0 1 1 1 0 2 1 2 1 2 1 2 1 2 1 2 0 1 1 1 0 2 1 2 0 1 1 1 0 2 0 2 1 2 0 2 0 2 0 2-1 2 0 2 0 2-1 2 0 1 0 1 0 2-1 2 0 2-1 2 0 2 0 2-1 2 0 2 0 2 0 2-1 2 0 2 0 2 0 2 0 2-1 2 0 2 0 2-1 2 0 2-1 2-1 2 0 2-1 2-1 1 0 1-1 2-1 2-1 2-1 2-1 2-1 1 0 1-1 2-1 1 0 1-2 2-1 2-1 1 0 1-2 2-2 2-2 2-2 2-2 1-1 1-1 1-2 1-2 1-2 1-2 1-2 1-1 0-1 0-2 1-2 1-1 0-1 0M655 842l-2 1-2 0-2 0-2 1-2 0-2-1-2 0-2 0-2-1-2-1-2-1-1 0-1-1-2-1-2-1-1-1-1-1-1-1-1-1-1-1-1-1-1-1-1-2-1-2-1-1-1-1-1-2-1-2-1-2-1-2-1-2 0-2-1-2-1-2-1-2 0-2-1-2 0-2-1-2 0-2-1-2 0-1 0-1 0-2-1-2 0-2 0-2-1-2 0-2 0-2 0-2 0-2-1-2 0-2 0-2 0-2 0-2 0-2-1-2 0-2 0-1 0-1 0-2 0-2 0-2 0-2 0-2 0-2 0-2 0-2 0-2 0-2 1-2 0-2 0-2 1-2 0-1 0-1 1-2 1-2 0-2 1-2 0-2 1-2 0-1 1-1 0-2 1-2 0-1 1-1 0-2 1-2 1-2 1-2 1-2 1-2 1-2 1-2 2-2 0-1 1-1 1-2 1 0 1-2 2-2 0-1 1-1 1-1 1-1 1-2 2-2 2-2 2-2 0-1 2-1 2-2 2-2 1 0 1-1 2-1 2-1 2-1 1 0 1 0 2-1 2 0 2 0 2 0 2 0 2 0 2 1 1 0 1 1 2 0 1 1 1 0 2 2 1 0 1 1 1 1 1 1 1 1 1 1 1 1 1 1 1 1 1 2 2 2 0 1 1 1 1 2 0 1 1 1 1 2 0 1 1 1 1 2 0 2 1 2 1 2 0 1 0 1 1 2 1 2 0 2 1 2 0 2 0 2 1 2 0 2 1 2 0 2 0 2 1 2 0 2 0 2 0 1 0 1 1 2 0 2 0 2 0 2 0 2 1 2 0 2 0 2 0 2 0 2 0 2 0 2 0 2 0 2 0 2 0 2 0 2 0 2 0 1 0 1 0 2 0 2 0 2-1 2 0 2 0 2-1 2 0 2-1 2 0 2-1 1 0 1-1 2 0 2-1 1 0 1-1 2-1 2-1 2-1 2 0 1-1 1-1 2 0 1-1 1-1 2-1 2-1 2-1 2-1 2-1 2-1 1 0 1-1 2-1 1-1 1-1 2-1 2-1 1-1 1-1 1 0 1-2 2-2 2-2 2-2 1-1 1-1 1-2 1-2 1-2 1-1 0-1 0M289 830l-2 0-2 1-2 0-2 0-2 0-2-1-1 0-1 0-2-1-2 0-1-1-1 0-2-1-1-1-1 0-2-1-1-1-1-1-2-1-2-1-2-1-2-1-1-1-1 0-2-2-2-1-1-1-1 0-2-2-2-1-1-1-1-1-1-1-1 0-1-2-1 0-1-2-1 0-1-2-1 0-1-2-1-1-1-1-1-1 0-1-2-2-1-2-1-1-1-1-1-2-1-2-1-1 0-1-1-2-1-1 0-1-1-2-1-2-1-2-1-2 0-1 0-1-1-2-1-2 0-1 0-1-1-2 0-2-1-2 0-2-1-2 0-2-1-2 0-2-1-2 0-2-1-2 0-1 0-1 0-2-1-2 0-2 0-2 0-2 0-2 0-2 0-2 0-2 0-2 1-2 0-2 0-2 1-2 0-2 0-2 1-2 0-1 1-1 0-2 1-2 0-1 1-1 1-2 0-1 0-1 1-2 1-1 0-1 2-2 0-1 1-1 1-2 2-2 0-1 1-1 1-1 1-1 1-1 1-1 1-1 2-1 0-1 2-1 2-1 2-1 2-1 2-1 2-1 2-1 1 0 1 0 2-1 2 0 2-1 2 0 1 0 1 0 2 0 2 0 2 0 2 0 2 0 2 0 2 1 2 0 2 0 2 1 1 0 1 0 2 1 2 1 1 0 1 0 2 1 2 1 1 0 1 0 2 1 2 1 2 1 2 1 2 1 2 1 2 1 1 1 1 1 2 1 2 2 1 0 1 1 1 1 1 1 1 1 1 1 1 1 1 1 1 1 1 2 2 2 1 2 1 1 1 1 1 2 0 1 1 1 1 2 1 2 1 2 1 2 1 2 0 1 1 1 0 2 1 2 1 2 0 2 1 2 0 1 1 1 0 2 0 2 1 2 0 2 0 2 0 2 0 2 0 1 0 1 0 2 0 2-1 2 0 2 0 2-1 2 0 2 0 2 0 2-1 2 0 2 0 2 0 2-1 2 0 2 0 1 0 1 0 2 0 2-1 2 0 2 0 2-1 2 0 1 0 1-1 2 0 2-1 2-1 2 0 2-1 1 0 1-1 2-1 1 0 1-1 2-1 1 0 1-2 2-1 2-1 1-1 1-1 2-2 2-2 2-2 1-1 1-1 1-2 1-2 1-2 1-2 1-2 1-2 1-2 0-2 1-1 0-1 0M655 829l-2 0-2 1-2 0-2 0-2-1-2 0-2-1-2-1-2-1-2-1 0-1-2-1-1-1-1-1 0-1-2-2-1-2-1 0-1-2-1-2-1-2-1-1 0-1-2-2 0-1-1-1-1-2 0-1 0-1-1-2-1-1 0-1-1-2 0-2-1-1 0-1-1-2 0-2 0-2-1-2 0-2-1-2 0-2 0-2 0-2 0-2-1-2 0-2 0-1 0-1 0-2 0-2 0-2 0-2 0-2-1-2 0-2 0-2 0-2 0-2 0-2 0-2 1-2 0-2 0-2 0-2 1-2 0-2 0-2 1-2 0-2 1-2 0-2 1-2 1-2 0-2 1-2 1-2 1-2 0-1 1-1 0-2 1-2 1-2 1-1 1-1 1-2 0-1 1-1 1-2 2-2 0-1 1-1 1-1 1-1 1-2 2-2 0-1 1-1 1-1 1-1 1-2 2-2 2-2 2-1 1-1 1-1 2-1 2-1 2-1 1 0 1 0 2-1 2 0 2 0 2 1 1 0 1 0 2 1 2 1 2 1 1 1 1 1 2 1 2 2 2 2 0 1 1 1 1 1 1 1 1 2 0 1 1 1 1 2 1 2 1 2 0 1 1 1 0 2 1 2 1 2 0 2 1 2 0 1 1 1 0 2 1 2 0 2 0 1 0 1 1 2 0 2 0 2 1 2 0 2 0 1 0 1 1 2 0 2 0 2 0 2 0 2 1 2 0 2 0 2 0 2 0 2 0 2 0 2 0 2 0 2 0 2 0 2 0 1 0 1 0 2 0 2 0 2-1 2 0 2 0 2-1 2 0 1 0 1 0 2-1 2-1 2 0 1 0 1-1 2-1 2-1 2 0 2-1 1 0 1-1 2-1 1-1 1-1 2-1 2-1 1 0 1-1 2-1 1-1 1-1 2-1 2-1 0-1 2-1 1 0 1-2 2-1 2-1 1-1 1-1 1-1 1-1 1-1 1-1 1-1 1-1 1-2 1-2 1-2 1-2 1M283 816l-2 0-2 0-2 0-2-1-2 0-2-1-1 0-1 0-2-1-2-1-2-1-2-1-1 0-1 0-2-1-1-1-1 0-2-1-1-1-1 0-2-2-2-1-2-1-2-1 0-1-2-1-1-1-1-1-1-1-1 0-1-2-1 0-1-2-1-1-1-1-1-1-1-1-1-1 0-1-2-2-1-2-1-1-1-1-1-2-1-2-1-2-1-2-1-2-1-2-1-2-1-2 0-2-1-1 0-1-1-2 0-2-1-1 0-1-1-2 0-2-1-2 0-2-1-2 0-2-1-2 0-2 0-2 0-2-1-2 0-2 0-2 0-2 0-2 0-2 1-2 0-2 0-2 1-2 0-2 0-2 1-2 0-1 0-1 1-2 1-2 0-1 1-1 0-2 1-2 1-2 1-2 2-2 0-1 1-1 1-2 2-2 2-2 2-2 2-2 2-1 1-1 1-1 2-1 1 0 1-1 2 0 2-1 2-1 2 0 2-1 2 0 1 0 1 0 2 0 2 0 2 0 2 0 2 0 2 1 2 0 2 0 2 1 2 1 2 0 2 1 2 1 2 1 1 0 1 1 2 1 1 0 1 1 2 1 1 0 1 1 2 1 1 0 1 1 2 1 2 2 2 1 1 1 1 1 1 1 1 1 1 1 1 1 1 1 1 1 1 1 1 2 2 2 0 1 1 1 1 2 1 2 1 2 1 2 1 2 0 1 1 1 0 2 1 2 0 1 1 1 0 2 0 2 1 2 0 2 1 2 0 2 0 2 0 2 0 2 0 2 0 2 0 2 0 2-1 2 0 2 0 2 0 2 0 2-1 2 0 2 0 2 0 2-1 2 0 2 0 2 0 2 0 2-1 2 0 2 0 2-1 2 0 2-1 2 0 2-1 2-1 2 0 2-1 1 0 1-1 2-1 1-1 1-1 2-1 2-1 0-1 2-1 1-1 1-1 0-2 2-2 1-1 1-1 0-2 1-2 1-2 1-2 0-2 1-2 0-1 0-1 0M651 814l-2 0-2 0-2-1-2-1-2-1-1-1-1 0-2-2-1-2-1 0-1-2-1-1-1-1-1-1 0-1-1-2-1-1-1-1-1-2-1-2-1-2 0-1 0-1-1-2-1-2 0-1 0-1-1-2 0-2 0-2-1-2 0-2 0-2 0-2-1-2 0-2 0-2 0-2 0-2 0-2 0-2 0-2-1-2 0-2 0-2 0-2 0-2 0-2 0-2 1-2 0-2 0-2 0-2 1-2 0-2 0-1 0-1 1-2 1-2 0-2 1-2 1-2 0-2 1-2 1-2 0-1 1-1 1-2 0-1 1-1 1-2 0-1 1-1 1-2 1-2 1-1 1-1 1-2 0-1 1-1 1-1 1-1 1-2 1-2 1-1 1-1 1-1 1-1 1-1 1-1 1-1 2-1 2-2 1 0 1 0 2-1 2 0 2 0 2 0 2 0 2 1 2 1 2 1 2 2 2 2 2 2 1 2 1 1 1 1 1 2 1 2 1 2 1 2 1 2 0 1 1 1 0 2 1 2 0 1 1 1 0 2 1 2 0 2 1 2 0 2 0 2 1 2 0 2 0 1 0 1 1 2 0 2 0 2 0 2 0 2 1 2 0 2 0 2 0 2 0 2 0 2 0 2 0 2 0 2 0 2 0 2 0 2 0 2-1 2 0 2 0 2 0 2-1 2 0 2-1 2 0 2-1 2-1 2 0 2-1 1 0 1-1 2-1 1 0 1-1 2-1 1-1 1-1 2-1 2-1 1-1 1-1 1-1 1-1 2-2 2-2 2-2 2-2 2-2 2-2 1-1 1-1 1-2 1-2 1-2 0-2 1-1 0-1 0M281 800l-2 0-2 0-2 0-1 0-1 0-2 0-2-1-2 0-2-1-2 0-2-1-2-1-2-1-2 0-1-1-1 0-2-1-1-1-1 0-2-1-1-1-1-1-2-1-2-1 0-1-2-1-1-1-1-1-1-1-1-1-1-1-1-1-1-1-1-1 0-1-2-2-1-2-1-1-1-1-1-2-1-2-1-1 0-1-1-2-1-1 0-1-1-2-1-2-1-2 0-2-1-1 0-1-1-2 0-2-1-1 0-1 0-2-1-2 0-2-1-2 0-1 0-1 0-2 0-2 0-2 0-2 0-2 0-2 0-2 0-1 0-1 1-2 0-2 0-2 1-2 0-1 0-1 1-2 1-2 0-1 1-1 0-2 1-2 1-2 1-1 1-1 1-2 1-2 1-1 1-1 1-1 1-1 1-1 1-1 1-1 2-1 2-2 1 0 1-1 2-1 1 0 1 0 2-1 2 0 2-1 2 0 2 0 2 0 2 0 1 0 1 0 2 0 2 1 2 0 2 1 1 0 1 0 2 1 2 1 2 1 2 1 2 1 2 1 2 1 1 1 1 1 2 1 2 1 1 1 1 1 1 1 1 1 2 1 0 1 2 1 0 1 1 1 1 1 1 1 1 2 1 0 1 2 0 1 1 1 1 2 1 2 1 2 1 2 1 2 0 2 1 2 0 2 1 2 0 2 0 1 0 1 1 2 0 2 0 2 0 2 0 2 0 2 0 2 0 2-1 2 0 2 0 1 0 1 0 2 0 2-1 2 0 2 0 2-1 2 0 1 0 1 0 2-1 2 0 2-1 2 0 2-1 2-1 2 0 1 0 1-1 2-1 2-1 2-1 2-1 2-1 1-1 1-1 1-1 1-1 1-1 1-1 0-2 2-2 1-2 0-2 1-1 0-1 0M657 798l-2 1-2 0-2 0-2 0-2-1-2-1-2-1-2-2-2-2-1-2-1 0-1-2-1-2-1-2-1-2-1-2 0-2-1-2 0-2-1-2 0-2 0-2 0-2-1-2 0-1 0-1 0-2 0-2 0-2-1-2 0-2 0-2 0-2 0-2 0-2 0-2 0-2 0-2 0-2 0-2 0-2 0-2 1-2 0-2 1-2 0-2 1-2 0-2 1-2 1-2 0-1 0-1 1-2 1-2 1-2 1-2 1-2 1-2 1-2 1-2 2-2 0-1 1-1 1-2 2-2 0-1 1-1 1-1 1-1 1-1 2-1 0-1 2-1 1 0 1-1 2 0 2 0 2 0 2 0 2 1 1 0 1 1 2 1 2 2 2 2 1 2 1 1 1 1 1 2 0 1 1 1 1 2 0 1 1 1 1 2 0 2 1 2 1 2 0 2 1 2 0 2 1 2 0 2 0 2 1 2 0 2 0 2 0 2 1 2 0 2 0 2 0 2 0 2 0 2 0 2 0 2 0 2 0 2 0 2 0 2-1 2 0 2 0 2 0 2-1 2 0 2-1 2 0 2-1 2-1 2 0 2-1 1 0 1-1 2-1 1 0 1-2 2-1 2-1 1 0 1-2 2-2 2-2 2-2 1-1 1-1 1-1 1-1 0-2 2-1 0-1 1-2 1-1 0-1 0M277 782l-2 1-2 0-2 1-2 0-2 0-2 0-2-1-2 0-2 0-2-1-2 0-2-1-2-1-2-1-2-1-1 0-1-1-2-1-2-1-1-1-1-1-1-1-1 0-1-2-1 0-1-2-1 0-1-2-1-1-1-1-1-1 0-1-1-2-1 0-1-2-1-2-1-2-1-2-1-2-1-2 0-1 0-1-1-2 0-2-1-1 0-1 0-2-1-2 0-2 0-2-1-2 0-2 0-2 0-2 1-2 0-2 0-2 0-2 1-2 0-2 1-2 0-2 1-2 1-2 1-2 0-1 1-1 1-2 1-2 1-1 1-1 1-2 2-2 2-2 1 0 1-1 2-1 2-1 2-1 2-1 2 0 2-1 2 0 2 0 2 0 2 0 2 0 2 1 2 0 2 1 2 1 2 1 1 0 1 1 2 1 1 0 1 1 2 1 2 2 1 0 1 1 1 1 1 1 1 1 1 1 1 1 1 1 1 1 1 1 1 1 1 2 2 2 0 1 1 1 1 2 0 1 1 1 1 2 0 1 0 1 1 2 1 2 0 2 0 1 0 1 1 2 0 2 0 2 0 2 0 2 0 2 0 2 0 2 0 2 0 2 0 2-1 2 0 2 0 2-1 2 0 2-1 2 0 2-1 2-1 2-1 2-1 2 0 1-1 1-1 2-1 2-1 1-1 1-1 1-1 1-1 1-1 1-1 0-2 2-1 0-1 0M661 784l-2 1-2 0-2 0-2 0-2-1-2-1-1-1-1 0-1-2-1 0-1-2-1-1 0-1-1-2-1-1 0-1-1-2 0-2-1-2 0-2-1-2 0-2 0-2-1-2 0-2 0-2-1-2 0-2 0-2 0-2 0-2 0-2-1-2 0-2 1-2 0-2 0-2 0-2 0-2 1-2 0-1 0-1 1-2 0-2 1-2 1-2 0-2 1-2 1-2 1-2 1-2 1-2 1-2 1-1 1-1 1-2 2-2 0-1 1-1 1-1 2-1 2-2 1 0 1 0 2-1 2 0 2 0 2 1 2 1 1 1 1 1 1 1 1 1 1 1 1 2 1 2 1 1 1 1 1 2 0 2 1 2 1 2 0 1 0 1 1 2 1 2 0 2 0 1 0 1 1 2 0 2 0 2 0 2 1 2 0 2 0 2 0 2 0 2 0 2 0 2 0 2 0 2-1 2 0 2 0 2 0 2-1 2 0 2-1 2 0 2-1 2-1 2 0 2-1 1 0 1-1 2-1 1-1 1-1 2-2 2-2 2-2 2-2 1-1 1-1 0-2 1-2 1M259 770l-2 0-2 0-2-1-2 0-2-1-2-1-2-1-2-1-2-1-2-2-2-1-1-1-1-1 0-1-2-2-2-2-1-2-1-1 0-1-1-2-1-1 0-1-1-2-1-2 0-2-1-2-1-2 0-2 0-2 0-2 0-2 0-2 0-2 0-2 0-2 0-2 1-2 0-2 1-2 0-2 1-2 1-2 1-2 1-2 1-2 1-1 1-1 1-1 1-1 1-1 1-1 1-1 2-1 2-1 2-1 2-1 2 0 2 0 2 0 2 0 2 0 2 0 2 1 2 1 2 0 1 1 1 0 2 2 1 0 1 1 2 1 2 2 2 2 2 2 2 2 0 1 1 1 1 2 1 2 1 1 0 1 1 2 1 2 1 2 0 2 1 2 0 2 0 2 0 1 0 1 0 2 0 2 0 2 0 2 0 2 0 2-1 2 0 2-1 2 0 1 0 1-1 2 0 2-1 1 0 1-1 2-1 1 0 1-2 2-1 2-1 1-1 1-1 1-1 1-1 0-2 1-1 1-1 0-2 1-2 1-2 0-2 0-1 0-1 0M261 757l-2 0-2 1-2 0-2 0-2-1-2 0-2-1-2-1-2-1-2-1-1-1-1-1-1-1-1-1-1-1-1-1 0-1-2-2-1-2-1-2 0-2-1-2-1-2 0-1 0-1 0-2 0-2 0-2 0-2 0-2 0-2 0-1 0-1 1-2 1-2 0-2 1-2 1-2 2-2 0-1 1-1 1-1 1-1 1-1 1-1 1-1 2-1 1 0 1-1 2 0 2 0 2-1 2 1 2 0 2 0 2 1 2 1 2 1 2 2 1 0 1 1 1 1 1 1 1 1 1 2 2 2 0 1 1 1 1 2 0 2 1 2 0 2 1 2 0 2 0 2 0 2 0 2 0 2 0 2-1 2 0 2-1 2 0 2-1 2-1 1 0 1-1 2-1 1-1 1-1 1 0 1-2 1-1 1-1 1-2 1-2 1M665 770l-2 1-2 0-2 1-2-1-2-1-2-1-1-1-1-1 0-1-2-2-1-2-1-2 0-2-1-2-1-2 0-2-1-2 0-2 0-2-1-2 0-2 0-2 0-2-1-2 0-2 0-2 1-2 0-2 0-2 0-1 0-1 1-2 0-2 1-2 0-1 1-1 0-2 1-2 1-2 1-2 1-2 1-1 1-1 1-2 2-2 2-2 1 0 1-1 2 0 2-1 2 1 2 1 1 0 1 1 1 1 1 1 1 1 1 2 2 2 0 1 1 1 0 2 1 2 1 2 0 2 1 2 0 2 1 2 0 2 0 2 0 2 0 2 1 2 0 2-1 2 0 2 0 2 0 2 0 2-1 2 0 1 0 1 0 2-1 2-1 2 0 1 0 1-1 2-1 2-1 2-1 1 0 1-2 2-2 2-2 1-1 1-1 0M255 744l-2 0-2 0-2 0-2 0-2-2-2-1-1-1-1-1 0-1-2-2-1-2 0-2-1-2 0-2 0-2 0-2 0-2 1-2 0-2 1-2 1-2 1-2 1 0 1-2 1 0 1-1 2-1 2-1 2 0 2 0 2 1 1 0 1 0 2 2 1 0 1 2 1 0 1 2 1 2 1 2 1 2 0 2 0 2 1 2-1 2 0 2 0 2-1 2-1 2-1 2-2 2-2 2-2 1-2 1M665 756l-2 1-2 0-2-1-2-1-1-1-1-1 0-1-1-2-1-1 0-1-1-2-1-2 0-2-1-2 0-2 0-2 0-2-1-2 1-2 0-2 0-2 0-2 1-2 0-2 1-2 1-2 0-1 1-1 1-2 2-2 2-2 1 0 1-1 2 0 2 1 1 0 1 1 2 1 0 1 1 1 1 2 1 2 1 2 1 2 0 2 1 2 0 2 0 2 0 2 0 2 0 2 0 2 0 2-1 2 0 2 0 2-1 1 0 1-1 2-1 2-1 2-1 1-1 1-1 1-1 1-1 0M665 744l-2 1-2 0-1-1-1-1-1-1-1-2-1-2 0-2 0-2-1-2 0-2 1-2 0-2 0-2 1-2 1-2 1-1 1-1 1-1 2 0 2 1 1 0 1 2 1 2 1 2 1 2 0 2 0 2 0 2 0 2 0 2-1 1 0 1-1 2-1 2-2 2M251 728l-1 0-1-1 0-1 0-2 0-1 2-1 2 1 1 1 0 2-1 1-1 1-1 0" stroke="#000" stroke-width="3.4" fill="none"/>
<path transform="scale(0.5)" d="M151 63h2m-22 52h2m107 23h2m-108 3h2m78 10h2m-64 2h2m73 10h2m-123 12h2m76 3h2m155 5h2m-95 1h2m0 1h2m-73 4h2m-13 1h2m146 0h2m-134 2h2m47 0h2m12 5h2m-26 1h2m-4 1h2m-66 1h2m56 0h2m-39 11h2m162 0h2m-102 1h2m94 0h2m-133 1h2m38 0h2m65 2h2m-110 6h2m-38 1h2m50 1h2m95 1h2m-107 1h2m59 1h2m-42 2h2m-56 2h2m-64 2h2m112 2h2m21 1h2m-140 1h2m171 1h2m-53 2h2m63 1h2m-107 1h2m95 1h2m59 0h2m-180 2h2m101 0h2m-1 0h2m-32 1h2m8 1h2m-113 1h2m131 0h2m49 0h2m-43 1h2m35 0h2m-118 3h2m-86 1h2m24 0h2m81 0h2m94 1h2m-199 1h2m54 0h2m26 1h2m-42 2h2m27 0h2m-23 1h2m7 0h2m68 0h2m11 1h2m-15 1h2m-92 1h2m166 0h2m14 0h2m-96 1h2m-57 1h2m-52 1h2m139 0h2m-99 1h2m29 0h2m-72 2h2m72 0h2m5 0h2m5 0h2m71 0h2m-155 1h2m58 0h2m-136 1h2m110 0h2m26 0h2m69 0h2m19 0h2m-226 1h2m64 0h2m73 0h2m0 0h2m-74 1h2m42 0h2m-71 1h2m79 0h2m-86 1h2m131 0h2m42 0h2m-104 1h2m22 0h2m0 0h2m26 0h2m-175 1h2m63 0h2m10 0h2m144 0h2m16 0h2m-203 1h2m24 0h2m7 0h2m105 0h2m1 0h2m27 0h2m-145 1h2m36 0h2m11 0h2m83 0h2m30 0h2m-137 1h2m127 0h2m8 0h2m-164 1h2m29 0h2m25 0h2m66 0h2m28 0h2m-148 1h2m85 0h2m10 0h2m12 0h2m29 0h2m-175 1h2m22 0h2m9 0h2m51 0h2m37 0h2m9 0h2m0 0h2m27 0h2m-206 1h2m85 0h2m38 0h2m14 0h2m15 0h2m24 0h2m18 0h2m6 0h2m-74 1h2m37 0h2m-191 1h2m40 0h2m123 0h2m19 0h2m-133 1h2m-1 0h2m53 0h2m49 0h2m32 0h2m-206 1h2m30 0h2m53 0h2m108 0h2m30 0h2m7 0h2m-210 1h2m3 0h2m21 0h2m36 0h2m18 0h2m23 0h2m36 0h2m-133 1h2m41 0h2m16 0h2m18 0h2m16 0h2m13 0h2m24 0h2m40 0h2m-254 1h2m51 0h2m63 0h2m19 0h2m18 0h2m27 0h2m32 0h2m-187 1h2m3 0h2m6 0h2m61 0h2m96 0h2m27 0h2m-228 1h2m26 0h2m28 0h2m4 0h2m9 0h2m85 0h2m27 0h2m-203 1h2m20 0h2m1 0h2m15 0h2m5 0h2m2 0h2m-1 0h2m15 0h2m6 0h2m55 0h2m2 0h2m53 0h2m20 0h2m31 0h2m-257 1h2m71 0h2m63 0h2m7 0h2m26 0h2m26 0h2m4 0h2m17 0h2m8 0h2m8 0h2m-232 1h2m0 0h2m23 0h2m21 0h2m32 0h2m15 0h2m103 0h2m6 0h2m16 0h2m-1 0h2m-212 1h2m11 0h2m23 0h2m0 0h2m11 0h2m40 0h2m51 0h2m10 0h2m11 0h2m3 0h2m2 0h2m7 0h2m22 0h2m5 0h2m-255 1h2m15 0h2m36 0h2m16 0h2m4 0h2m25 0h2m2 0h2m17 0h2m1 0h2m23 0h2m3 0h2m17 0h2m54 0h2m-1 0h2m-242 1h2m3 0h2m26 0h2m0 0h2m0 0h2m5 0h2m9 0h2m1 0h2m-1 0h2m52 0h2m122 0h2m15 0h2m-259 1h2m13 0h2m32 0h2m5 0h2m11 0h2m-1 0h2m10 0h2m56 0h2m2 0h2m18 0h2m8 0h2m0 0h2m5 0h2m31 0h2m19 0h2m0 0h2m1 0h2m0 0h2m-234 1h2m23 0h2m6 0h2m3 0h2m24 0h2m19 0h2m22 0h2m0 0h2m42 0h2m17 0h2m15 0h2m7 0h2m1 0h2m-210 1h2m25 0h2m12 0h2m12 0h2m4 0h2m80 0h2m4 0h2m4 0h2m15 0h2m20 0h2m15 0h2m4 0h2m8 0h2m1 0h2m-227 1h2m7 0h2m13 0h2m42 0h2m84 0h2m34 0h2m14 0h2m21 0h2m-243 1h2m20 0h2m10 0h2m6 0h2m58 0h2m12 0h2m12 0h2m85 0h2m20 0h2m4 0h2m-243 1h2m15 0h2m11 0h2m1 0h2m13 0h2m8 0h2m29 0h2m28 0h2m48 0h2m16 0h2m8 0h2m18 0h2m-1 0h2m22 0h2m8 0h2m-251 1h2m61 0h2m7 0h2m91 0h2m50 0h2m2 0h2m-1 0h2m21 0h2m8 0h2m-237 1h2m12 0h2m-1 0h2m7 0h2m30 0h2m-1 0h2m2 0h2m85 0h2m40 0h2m3 0h2m4 0h2m9 0h2m14 0h2m-249 1h2m3 0h2m1 0h2m-1 0h2m-1 0h2m6 0h2m19 0h2m0 0h2m16 0h2m5 0h2m-1 0h2m48 0h2m73 0h2m10 0h2m11 0h2m8 0h2m3 0h2m3 0h2m4 0h2m-253 1h2m10 0h2m-1 0h2m2 0h2m50 0h2m6 0h2m13 0h2m38 0h2m45 0h2m-1 0h2m1 0h2m3 0h2m2 0h2m25 0h2m-1 0h2m0 0h2m12 0h2m1 0h2m-229 1h2m35 0h2m6 0h2m0 0h2m7 0h2m8 0h2m6 0h2m5 0h2m1 0h2m26 0h2m2 0h2m29 0h2m8 0h2m18 0h2m7 0h2m0 0h2m13 0h2m20 0h2m0 0h2m4 0h2m2 0h2m3 0h2m3 0h2m0 0h2m-243 1h2m40 0h2m14 0h2m9 0h2m2 0h2m7 0h2m47 0h2m30 0h2m5 0h2m-1 0h2m20 0h2m0 0h2m1 0h2m12 0h2m24 0h2m-245 1h2m0 0h2m5 0h2m2 0h2m-1 0h2m1 0h2m7 0h2m1 0h2m1 0h2m5 0h2m13 0h2m5 0h2m6 0h2m21 0h2m65 0h2m7 0h2m11 0h2m6 0h2m-1 0h2m-1 0h2m6 0h2m-1 0h2m5 0h2m6 0h2m1 0h2m17 0h2m8 0h2m-263 1h2m28 0h2m-1 0h2m29 0h2m23 0h2m87 0h2m4 0h2m9 0h2m-1 0h2m3 0h2m3 0h2m5 0h2m3 0h2m2 0h2m1 0h2m3 0h2m6 0h2m0 0h2m-1 0h2m6 0h2m1 0h2m9 0h2m-269 1h2m5 0h2m13 0h2m8 0h2m5 0h2m0 0h2m5 0h2m3 0h2m4 0h2m0 0h2m-1 0h2m5 0h2m1 0h2m3 0h2m1 0h2m5 0h2m-1 0h2m-1 0h2m6 0h2m0 0h2m11 0h2m28 0h2m22 0h2m4 0h2m11 0h2m1 0h2m16 0h2m0 0h2m0 0h2m17 0h2m8 0h2m0 0h2m8 0h2m5 0h2m-257 1h2m0 0h2m1 0h2m4 0h2m4 0h2m8 0h2m18 0h2m5 0h2m0 0h2m1 0h2m16 0h2m25 0h2m12 0h2m41 0h2m8 0h2m-1 0h2m2 0h2m9 0h2m21 0h2m8 0h2m0 0h2m8 0h2m1 0h2m10 0h2m-1 0h2m0 0h2m6 0h2m5 0h2m-266 1h2m-1 0h2m6 0h2m3 0h2m3 0h2m7 0h2m9 0h2m4 0h2m1 0h2m32 0h2m2 0h2m13 0h2m11 0h2m31 0h2m34 0h2m2 0h2m18 0h2m2 0h2m0 0h2m0 0h2m-1 0h2m-1 0h2m6 0h2m28 0h2m-1 0h2m1 0h2m-250 1h2m9 0h2m-1 0h2m6 0h2m0 0h2m7 0h2m2 0h2m-1 0h2m18 0h2m7 0h2m26 0h2m3 0h2m23 0h2m-1 0h2m7 0h2m6 0h2m20 0h2m10 0h2m8 0h2m-1 0h2m5 0h2m-1 0h2m10 0h2m0 0h2m0 0h2m6 0h2m3 0h2m3 0h2m3 0h2m-1 0h2m0 0h2m12 0h2m-263 1h2m-1 0h2m0 0h2m7 0h2m1 0h2m0 0h2m4 0h2m8 0h2m-1 0h2m14 0h2m6 0h2m7 0h2m-1 0h2m6 0h2m0 0h2m-1 0h2m1 0h2m3 0h2m-1 0h2m0 0h2m2 0h2m26 0h2m19 0h2m10 0h2m12 0h2m7 0h2m0 0h2m5 0h2m-1 0h2m-1 0h2m-1 0h2m0 0h2m2 0h2m1 0h2m3 0h2m19 0h2m3 0h2m3 0h2m-1 0h2m-1 0h2m1 0h2m-1 0h2m-1 0h2m2 0h2m-1 0h2m4 0h2m1 0h2m4 0h2m-267 1h2m4 0h2m0 0h2m-1 0h2m6 0h2m-1 0h2m1 0h2m13 0h2m6 0h2m15 0h2m16 0h2m0 0h2m2 0h2m12 0h2m0 0h2m24 0h2m-1 0h2m14 0h2m26 0h2m11 0h2m1 0h2m1 0h2m-1 0h2m-1 0h2m1 0h2m3 0h2m11 0h2m13 0h2m1 0h2m0 0h2m-1 0h2m-1 0h2m0 0h2m2 0h2m-1 0h2m-1 0h2m0 0h2m2 0h2m-1 0h2m2 0h2m0 0h2m2 0h2m-261 1h2m0 0h2m1 0h2m2 0h2m0 0h2m3 0h2m-1 0h2m-1 0h2m4 0h2m0 0h2m0 0h2m-1 0h2m-1 0h2m0 0h2m8 0h2m2 0h2m2 0h2m-1 0h2m-1 0h2m0 0h2m6 0h2m1 0h2m7 0h2m1 0h2m2 0h2m1 0h2m-1 0h2m3 0h2m62 0h2m11 0h2m6 0h2m-1 0h2m3 0h2m1 0h2m-1 0h2m-1 0h2m-1 0h2m1 0h2m2 0h2m12 0h2m24 0h2m0 0h2m0 0h2m-1 0h2m5 0h2m0 0h2m-1 0h2m12 0h2m-1 0h2m-269 1h2m5 0h2m2 0h2m-1 0h2m3 0h2m-1 0h2m0 0h2m0 0h2m22 0h2m4 0h2m0 0h2m0 0h2m7 0h2m0 0h2m8 0h2m1 0h2m-1 0h2m0 0h2m2 0h2m3 0h2m0 0h2m7 0h2m14 0h2m-1 0h2m25 0h2m0 0h2m18 0h2m6 0h2m5 0h2m7 0h2m9 0h2m-1 0h2m32 0h2m-1 0h2m-1 0h2m-1 0h2m0 0h2m8 0h2m0 0h2m1 0h2m0 0h2m4 0h2m-264 1h2m-1 0h2m0 0h2m2 0h2m-1 0h2m0 0h2m0 0h2m30 0h2m8 0h2m0 0h2m-1 0h2m1 0h2m-1 0h2m0 0h2m-1 0h2m4 0h2m2 0h2m5 0h2m33 0h2m6 0h2m14 0h2m4 0h2m5 0h2m1 0h2m30 0h2m10 0h2m47 0h2m8 0h2m0 0h2m-268 1h2m3 0h2m-1 0h2m-1 0h2m1 0h2m-1 0h2m39 0h2m-1 0h2m3 0h2m5 0h2m8 0h2m2 0h2m-1 0h2m-1 0h2m3 0h2m9 0h2m8 0h2m63 0h2m4 0h2m3 0h2m-1 0h2m-1 0h2m1 0h2m9 0h2m0 0h2m37 0h2m0 0h2m2 0h2m1 0h2m1 0h2m0 0h2m3 0h2m-1 0h2m2 0h2m-262 1h2m-1 0h2m49 0h2m-1 0h2m0 0h2m0 0h2m1 0h2m0 0h2m1 0h2m7 0h2m4 0h2m3 0h2m8 0h2m46 0h2m3 0h2m27 0h2m0 0h2m2 0h2m-1 0h2m-1 0h2m0 0h2m0 0h2m-1 0h2m0 0h2m3 0h2m38 0h2m5 0h2m-1 0h2m1 0h2m2 0h2m3 0h2m-255 1h2m-1 0h2m50 0h2m4 0h2m3 0h2m-1 0h2m3 0h2m-1 0h2m-1 0h2m7 0h2m3 0h2m58 0h2m6 0h2m4 0h2m24 0h2m46 0h2m0 0h2m0 0h2m-1 0h2m1 0h2m0 0h2m-1 0h2m7 0h2m-263 1h2m2 0h2m61 0h2m3 0h2m-1 0h2m1 0h2m0 0h2m-1 0h2m12 0h2m4 0h2m-1 0h2m-1 0h2m10 0h2m26 0h2m4 0h2m20 0h2m5 0h2m1 0h2m3 0h2m-1 0h2m1 0h2m0 0h2m-1 0h2m0 0h2m54 0h2m2 0h2m5 0h2m-263 1h2m0 0h2m0 0h2m59 0h2m0 0h2m1 0h2m0 0h2m1 0h2m3 0h2m2 0h2m8 0h2m4 0h2m1 0h2m16 0h2m0 0h2m-1 0h2m1 0h2m13 0h2m4 0h2m1 0h2m3 0h2m16 0h2m10 0h2m0 0h2m-1 0h2m2 0h2m49 0h2m-1 0h2m0 0h2m-1 0h2m0 0h2m1 0h2m3 0h2m-1 0h2m-1 0h2m-262 1h2m0 0h2m0 0h2m58 0h2m1 0h2m13 0h2m8 0h2m-1 0h2m3 0h2m9 0h2m13 0h2m20 0h2m22 0h2m8 0h2m2 0h2m-1 0h2m-1 0h2m-1 0h2m3 0h2m1 0h2m0 0h2m51 0h2m6 0h2m-1 0h2m-1 0h2m2 0h2m-199 1h2m6 0h2m3 0h2m3 0h2m5 0h2m2 0h2m5 0h2m15 0h2m9 0h2m17 0h2m12 0h2m15 0h2m0 0h2m6 0h2m0 0h2m55 0h2m5 0h2m1 0h2m-1 0h2m0 0h2m-180 1h2m0 0h2m2 0h2m0 0h2m0 0h2m-1 0h2m5 0h2m13 0h2m2 0h2m33 0h2m9 0h2m3 0h2m-1 0h2m-1 0h2m1 0h2m0 0h2m5 0h2m4 0h2m-109 1h2m-1 0h2m-1 0h2m-1 0h2m-1 0h2m5 0h2m13 0h2m8 0h2m-1 0h2m50 0h2m1 0h2m-1 0h2m-1 0h2m3 0h2m1 0h2m-1 0h2m0 0h2m-104 1h2m-1 0h2m0 0h2m3 0h2m3 0h2m0 0h2m5 0h2m0 0h2m6 0h2m2 0h2m12 0h2m12 0h2m6 0h2m-1 0h2m8 0h2m6 0h2m0 0h2m-1 0h2m-1 0h2m1 0h2m-92 1h2m5 0h2m-1 0h2m0 0h2m10 0h2m-1 0h2m1 0h2m6 0h2m10 0h2m12 0h2m6 0h2m1 0h2m1 0h2m3 0h2m2 0h2m1 0h2m-92 1h2m0 0h2m9 0h2m-1 0h2m-1 0h2m12 0h2m5 0h2m3 0h2m3 0h2m6 0h2m0 0h2m18 0h2m-1 0h2m0 0h2m3 0h2m0 0h2m0 0h2m-1 0h2m-90 1h2m-1 0h2m1 0h2m10 0h2m0 0h2m26 0h2m12 0h2m-1 0h2m1 0h2m5 0h2m1 0h2m0 0h2m-1 0h2m7 0h2m-1 0h2m-1 0h2m-85 1h2m11 0h2m-1 0h2m8 0h2m-1 0h2m16 0h2m12 0h2m3 0h2m9 0h2m-1 0h2m-1 0h2m0 0h2m-1 0h2m2 0h2m-85 1h2m-1 0h2m0 0h2m3 0h2m0 0h2m17 0h2m-1 0h2m10 0h2m23 0h2m-1 0h2m0 0h2m-1 0h2m0 0h2m-1 0h2m2 0h2m-76 1h2m-1 0h2m1 0h2m3 0h2m3 0h2m-1 0h2m1 0h2m0 0h2m7 0h2m3 0h2m1 0h2m14 0h2m8 0h2m1 0h2m0 0h2m3 0h2m-77 1h2m1 0h2m0 0h2m1 0h2m1 0h2m-1 0h2m11 0h2m9 0h2m4 0h2m6 0h2m3 0h2m-1 0h2m0 0h2m-1 0h2m1 0h2m3 0h2m0 0h2m2 0h2m-73 1h2m1 0h2m8 0h2m0 0h2m0 0h2m2 0h2m3 0h2m3 0h2m7 0h2m-1 0h2m-1 0h2m21 0h2m-1 0h2m0 0h2m-1 0h2m0 0h2m-66 1h2m6 0h2m3 0h2m3 0h2m2 0h2m3 0h2m13 0h2m4 0h2m3 0h2m0 0h2m-1 0h2m1 0h2m0 0h2m-64 1h2m3 0h2m2 0h2m1 0h2m4 0h2m-1 0h2m3 0h2m0 0h2m-1 0h2m3 0h2m-1 0h2m0 0h2m2 0h2m-1 0h2m9 0h2m0 0h2m0 0h2m1 0h2m-1 0h2m1 0h2m-65 1h2m8 0h2m-1 0h2m1 0h2m-1 0h2m8 0h2m-1 0h2m2 0h2m-1 0h2m1 0h2m13 0h2m0 0h2m3 0h2m0 0h2m-58 1h2m-1 0h2m0 0h2m0 0h2m1 0h2m3 0h2m-1 0h2m-1 0h2m3 0h2m4 0h2m3 0h2m-1 0h2m-1 0h2m-1 0h2m-1 0h2m-1 0h2m1 0h2m-1 0h2m4 0h2m-47 1h2m-1 0h2m-1 0h2m-1 0h2m-1 0h2m5 0h2m-1 0h2m5 0h2m3 0h2m0 0h2m-1 0h2m-1 0h2m7 0h2m0 0h2m0 0h2m0 0h2m2 0h2m-1 0h2m-1 0h2m1 0h2m2 0h2m-56 1h2m0 0h2m-1 0h2m0 0h2m2 0h2m5 0h2m1 0h2m2 0h2m1 0h2m2 0h2m3 0h2m0 0h2m2 0h2m-1 0h2m-1 0h2m2 0h2m-1 0h2m0 0h2m-1 0h2m-1 0h2m-52 1h2m1 0h2m-1 0h2m1 0h2m5 0h2m2 0h2m0 0h2m7 0h2m0 0h2m2 0h2m2 0h2m2 0h2m0 0h2m-1 0h2m-1 0h2m-1 0h2m-47 1h2m4 0h2m1 0h2m-1 0h2m0 0h2m0 0h2m1 0h2m-1 0h2m-1 0h2m2 0h2m0 0h2m6 0h2m3 0h2m0 0h2m-1 0h2m-1 0h2m-36 1h2m-1 0h2m3 0h2m0 0h2m-1 0h2m-1 0h2m1 0h2m-1 0h2m4 0h2m6 0h2" stroke="#333" stroke-width="1.8" fill="none"/>
<path d="M50.5 155h6.5v68.5h-6.5zM50.5 216.5h30v7h-30zM152 216.5h26v7h-26z" fill="#000"/><path d="M80 217.5H152M80 219.5H152M80 221.5H152" stroke="#000" stroke-width="0.8"/><path d="M54.2 170C53.8 185 54.6 195 54 206" stroke="#bbb" stroke-width="0.7" fill="none"/>
<path d="M171 172C172 185 172 200 171 216M173.5 168C175 185 175 200 174.5 217M176 166C177.5 185 177.5 205 177 217" stroke="#000" stroke-width="1.3" fill="none"/>
<path transform="scale(0.5)" d="M101 324h2m5 0h2m2 11h2m-12 4h2m2 0h2m4 0h2m-12 4h2m5 7h2m-7 3h2m-4 3h2m6 0h2m-5 1h2m-5 5h2m0 14h2m5 11h2m-8 3h2m1 2h2m-4 1h2m-3 2h2m-7 3h2m4 3h2m-7 2h2m-1 2h2m-1 2h2m4 4h2m-10 23h2m0 0h2m9 0h2m-13 1h2m212 0h2m-213 1h2m11 0h2m26 0h2m190 0h2m-7 1h2m-213 1h2m193 0h2m-194 1h2m24 0h2m158 0h2m0 0h2m11 0h2m-1 0h2m4 0h2m11 0h2m-243 1h2m-1 0h2m0 0h2m209 0h2m-186 1h2m8 0h2m174 0h2m2 0h2m6 0h2m10 0h2m-245 1h2m4 0h2m43 0h2m-43 1h2m2 0h2m15 0h2m4 0h2m2 0h2m163 0h2m8 0h2m21 0h2m5 0h2m-215 1h2m8 0h2m7 0h2m169 0h2m1 1h2m1 0h2m5 0h2m-232 1h2m7 0h2m26 0h2m1 0h2m157 0h2m13 0h2" stroke="#fff" stroke-width="1.6" fill="none"/>
<path transform="scale(0.25)" d="M649 432l-2 0-2 0-2 0-1 0-1 0-2 0-2-1-2-1-1 0-1 0-2-2-1 0-1-1-1-1-1-1-1-1-1-1-1-1-1-2-1-2-1-2-1-2 0-2-1-2 0-1 0-1 0-2 0-2 0-2 0-2 0-2 0-2 0-2 0-2 0-2 1-2 0-2 1-2 0-2 1-2 0-2 1-2 0-1 1-1 0-2 1-2 1-2 1-2 0-1 1-1 1-2 0-1 1-1 1-2 0-1 1-1 1-2 1-2 1-2 2-2 0-1 1-1 1-1 1-1 1-2 2-2 2-2 2-2 2-2 2-2 2-1 1-1 1-1 2-1 2-1 1-1 1-1 2 0 1-1 1 0 2-1 2-1 1 0 1 0 2-1 2 0 2-1 1 0 1 0 2 0 2 0 2 0 2 0 2 0 2 1 2 0 2 1 2 1 1 1 1 1 2 1 0 1 1 1 1 1 1 1 1 2 0 1 1 1 1 2 0 1 0 1 1 2 0 2 1 2 0 2 0 1 0 1 0 2 0 2 0 2 0 2 0 2 0 2 0 2-1 2 0 2 0 2-1 1 0 1 0 2-1 2-1 2 0 2-1 2-1 1 0 1-1 2-1 2-1 2-1 2-1 2-1 1 0 1-1 2-1 0-1 2-1 2-1 2-1 0-1 2-1 1 0 1-2 2-2 2-2 2-2 2-2 2-2 2-2 2-2 1-1 1-1 1-1 1-1 0-2 2-2 1-2 1-2 1-2 1-1 0-1 0-2 1-2 0-2 1-2 0M659 416l-2 1-2 0-2 0-2 1-2-1-2 0-2 0-2-1-1 0-1-1-2-1-2-1-1-1-1-1-1-1-1-2-1-2-1-2 0-2-1-2 0-2 0-2 0-2 0-2 0-2 0-2 1-2 0-2 1-2 0-2 1-2 0-1 0-1 1-2 1-2 0-1 1-1 1-2 0-1 0-1 1-2 1-1 0-1 2-2 0-1 1-1 1-2 0-1 1-1 1-1 1-1 1-2 2-2 2-2 0-1 2-1 0-1 2-1 2-2 2-1 1-1 1 0 2-1 1-1 1 0 2-1 2-1 2 0 2 0 2-1 2 0 2 1 2 0 1 0 1 0 2 1 2 1 2 2 1 0 1 2 1 0 1 2 1 2 1 2 1 2 1 2 0 2 0 1 0 1 1 2 0 2 0 2 0 2-1 2 0 2 0 2-1 2 0 2-1 2 0 1 0 1-1 2-1 2 0 2-1 2-1 1 0 1-2 2-1 2-1 2-1 2-1 1-1 1-1 1 0 1-2 2-2 2-2 2-2 2-2 2-2 2-2 1-1 1-1 0-2 2-1 0-1 1-2 1-1 0-1 0M657 406l-2 0-2 0-2 0-1 0-1 0-2-1-1-1-1 0-2-2-1-2-1-1 0-1-1-2 0-2-1-2 0-1 0-1 0-1 0-1 0-2 1-2 0-2 1-2 0-2 1-2 1-2 0-2 1-2 1-2 1-2 1-2 1-2 1-2 2-2 0-1 1-1 1-1 1-1 1-1 1-1 1-1 1-1 1-1 1-1 1-1 2-1 2-1 2-1 1 0 1 0 2-1 2 0 2 0 2 1 1 0 1 1 2 1 1 0 1 1 1 1 1 1 1 1 1 2 0 1 1 1 0 2 1 2 0 2 0 2 0 2 0 2 0 2-1 2 0 2 0 2-1 1 0 1-1 2-1 2-1 2-1 2-1 2-1 2-1 2-1 1-1 1-1 1-1 1-1 1 0 1-2 1 0 1-2 1-1 1-1 1-2 1-2 1-1 1-1 0-2 1-2 1-2 0M661 392l-2 1-2 0-2-1-2-2-1-2-1-2 0-1 0-1 0-2 0-2 1-2 0-2 1-2 1-2 1-2 0-1 1-1 1-2 2-2 0-1 1-1 1-1 1-1 1-1 2-1 2-1 2-1 2 0 2 1 2 1 2 2 1 2 0 2 1 2 0 2 0 2-1 2 0 2-1 2-1 2-1 2-1 2-1 1-1 1-1 1 0 1-2 2-2 1-1 1-1 1-2 1-1 0-1 0" stroke="#000" stroke-width="3.4" fill="none"/>
<path transform="scale(0.5)" d="M331 146h2m-12 1h2m16 0h2m1 0h2m22 0h2m3 0h2m-31 1h2m4 0h2m0 0h2m6 0h2m27 0h2m-53 1h2m8 0h2m7 0h2m1 0h2m3 0h2m-41 1h2m3 0h2m12 0h2m2 0h2m2 0h2m1 0h2m-21 1h2m0 0h2m5 0h2m0 0h2m3 0h2m-34 1h2m12 0h2m-23 1h2m9 0h2m11 0h2m7 0h2m-16 1h2m9 0h2m0 0h2m1 0h2m13 0h2m3 0h2m-54 1h2m12 0h2m8 0h2m0 0h2m6 0h2m0 0h2m1 0h2m-28 1h2m0 0h2m9 0h2m1 0h2m13 0h2m-1 0h2m13 0h2m-50 1h2m12 0h2m3 0h2m7 0h2m3 0h2m12 0h2m-54 1h2m6 0h2m8 0h2m-1 0h2m-1 0h2m1 0h2m3 0h2m-1 0h2m-1 0h2m2 0h2m7 0h2m3 0h2m5 0h2m-57 1h2m14 0h2m-1 0h2m0 0h2m3 0h2m-1 0h2m1 0h2m3 0h2m3 0h2m0 0h2m-44 1h2m14 0h2m9 0h2m7 0h2m-39 1h2m7 0h2m18 0h2m1 0h2m1 0h2m4 0h2m-51 1h2m0 0h2m0 0h2m2 0h2m5 0h2m2 0h2m20 0h2m0 0h2m-1 0h2m-45 1h2m2 0h2m4 0h2m1 0h2m26 0h2m1 0h2m0 0h2m-1 0h2m-1 0h2m-39 1h2m2 0h2m23 0h2m18 0h2m5 0h2m-100 1h2m34 0h2m5 0h2m26 0h2m0 0h2m-1 0h2m2 0h2m3 0h2m-45 1h2m32 0h2m-1 0h2m-1 0h2m0 0h2m-1 0h2m6 0h2m3 0h2m-56 1h2m0 0h2m-30 1h2m11 0h2m4 0h2m4 0h2m36 0h2m15 0h2m-75 1h2m13 0h2m0 0h2m38 0h2m-1 0h2m2 0h2m-57 1h2m7 0h2m-1 0h2m-1 0h2m-1 0h2m32 0h2m7 0h2m-52 1h2m1 0h2m0 0h2m-1 0h2m37 0h2m0 0h2m2 0h2m6 0h2m-18 1h2m0 0h2m4 0h2m0 0h2m3 0h2m9 0h2m-70 1h2m0 0h2m-1 0h2m-1 0h2m40 0h2m-47 1h2m-9 1h2m7 0h2m-1 0h2m37 0h2m-1 0h2m2 0h2m-53 1h2m48 0h2m-1 0h2m1 0h2m-60 1h2m1 0h2m56 0h2m0 0h2m-60 1h2m0 0h2m39 0h2m8 0h2m-4 1h2m0 0h2m-59 1h2m-1 0h2m44 0h2m1 0h2m-1 0h2m-53 1h2m1 0h2m46 0h2m-1 0h2m-4 1h2m-54 1h2m49 0h2m4 0h2m-52 1h2m42 0h2m-49 1h2m0 0h2m41 0h2m-51 1h2m57 0h2m-67 1h2m9 0h2m-1 0h2m40 0h2m0 0h2m-49 1h2m42 0h2m0 0h2m12 0h2m-78 1h2m2 0h2m-1 0h2m7 0h2m44 0h2m-64 1h2m63 0h2m6 0h2m-13 1h2m-1 1h2m-54 1h2m-1 0h2m2 0h2m41 0h2m0 0h2m10 0h2m-61 1h2m44 0h2m3 0h2m-60 1h2m6 0h2m0 0h2m0 0h2m45 0h2m-51 1h2m-1 0h2m45 0h2m-60 1h2m7 0h2m43 0h2m-48 1h2m44 0h2m5 0h2m-82 1h2m25 0h2m41 0h2m-52 1h2m4 0h2m43 0h2m-1 0h2m-66 1h2m10 0h2m-1 0h2m2 0h2m0 0h2m42 0h2m4 0h2m-62 1h2m5 0h2m4 0h2m-7 1h2m0 0h2m0 0h2m-1 0h2m35 0h2m-1 0h2m0 0h2m-66 1h2m21 0h2m-1 0h2m33 0h2m12 0h2m-65 1h2m49 0h2m16 0h2m-24 1h2m-48 1h2m2 0h2m-1 0h2m1 0h2m0 0h2m1 0h2m-1 0h2m41 0h2m2 0h2m3 0h2m-60 1h2m3 0h2m30 0h2m2 0h2m-49 1h2m7 0h2m2 0h2m27 0h2m-1 0h2m-50 1h2m4 0h2m3 0h2m2 0h2m0 0h2m34 0h2m-52 1h2m2 0h2m0 0h2m2 0h2m3 0h2m27 0h2m10 0h2m-54 1h2m0 0h2m2 0h2m0 0h2m-1 0h2m27 0h2m0 0h2m2 0h2m4 0h2m-65 1h2m15 0h2m32 0h2m-56 1h2m7 0h2m2 0h2m3 0h2m10 0h2m18 0h2m-1 0h2m-1 0h2m-1 0h2m9 0h2m0 0h2m-43 1h2m-1 0h2m0 0h2m-1 0h2m15 0h2m0 0h2m3 0h2m-41 1h2m2 0h2m-1 0h2m2 0h2m5 0h2m4 0h2m-24 1h2m8 0h2m4 0h2m10 0h2m1 0h2m3 0h2m38 0h2m-74 1h2m4 0h2m1 0h2m-1 0h2m1 0h2m-36 1h2m16 0h2m7 0h2m1 0h2m5 0h2m2 0h2m2 0h2m21 0h2m-41 1h2m0 0h2m7 0h2m5 0h2m17 0h2m-54 1h2m18 0h2m2 0h2m2 0h2m-1 0h2m2 0h2m-41 1h2m10 0h2m11 0h2m0 0h2m6 0h2m15 0h2m2 0h2m-49 1h2m0 0h2m11 0h2m-1 0h2m2 0h2m1 0h2m-23 1h2m7 0h2m6 0h2m-4 1h2m-1 0h2m4 0h2m2 0h2m2 0h2m-18 1h2m9 0h2m0 0h2m0 0h2m1 0h2m3 0h2m-21 1h2m0 0h2m-25 1h2m4 0h2m6 0h2m-3 1h2m-1 0h2m3 0h2m3 0h2m-1 0h2m17 0h2m-30 1h2m15 0h2m3 0h2m3 0h2m20 0h2m-60 1h2m14 1h2m6 0h2m-25 1h2m40 0h2m-18 1h2m-11 2h2m10 0h2m-49 1h2m7 0h2m8 0h2m0 0h2m5 0h2m23 0h2m-23 3h2m-3 1h2m-17 2h2m11 1h2m23 1h2m-36 2h2m13 3h2m-16 1h2" stroke="#333" stroke-width="1.8" fill="none"/>
<path transform="scale(0.25)" d="M1690 903l-2 0-2 0-2 0-2 0-2 0-2 0-2 0-2 0-2 0-2 0-2 0-2 0-2 1-2-1-2 0-2 0-2 0-2 0-2 0-2 0-2 0-2 0-2 0-2 0-2 0-2 0-2 0-2 0-2 0-1 0-1-1-1-1-1-1-2-1-2-1-1-1-1-1-2-1-2-1-1-1-1-1-2-1-2-1-1-1-1-1-2-1-2-2-1 0-1-1-2-1-2-2-1 0-1-1-2-1-2-1-1-1-1-1-2 0-2-1-2-1-2-1-2 0-2-1-2 0-2 0-2-1-2 0-1 0-1 0-2-1-2 0-2 0-2 0-2 0-2 0-2 0-2-1-2 0-2 0-2 0-2 0-2 0-2 0-1 0-1 0-2 0-2 0-2 0-1 0-1 0-2 0-2 0-2 0-2 0-2 1-2 0-2 0-2 0-2 1-2 0-2 0-2 0-2 0-2 0-2 1-2 0-2 0-2 0-2 0-2 0-2 0-2 0-2 0-2 0-2 0-2 0-2 0-2 1-2 0-2 0-2 0-1 0-1 0-2 0-2 0-2 0-2 0-2 0-2 0-1 0-1 0-2 0-2 0-2 0-2 0-2 0-2 0-2-1-2 0-2 0-2 0-2 0-2 0-2 1-2 0-2 0-2 0-2 0-2 0-2 0-2 1-2 0-2 0-2 0-2 1-2 0-2 0-2 1-2 0-2 1-1 0-1 0-2 0-2 1-2 0-2 0-2 1-2 0-2 0-2 0-2 0-2 0-2 1-2 0-2 0-2 0-2 0-2 0-2 0-2 0-2 0-2 0-2 0-2 0-2 0-2 0-2 0-2 0-2 0-2 0-2 0-2 0-2 0-2 0-2-1-2 0-2 0-2 0-2 0-2 0-1 0-1 0-2-1-2 0-2 0-2-1-2 0-2-1-2-1-1 0-1 0-2-1-2-1-2-1-2-1-2-2-1 0-1-1-2-1-2-1-2-1-2-1-1-1-1-1-2-1-1 0-1-1-2-1-2-1-2-1-2-2-1 0-1-1-2-1-2-2-1 0-1-1-1-1-1-1-2-1 0-1-2-1-2-2 0-1-1-1-1-1-1-1-1-2-2-2 0-1-1-1-1-2-1-2-1-2-1-2 0-2-1-2-1-2 0-2-1-2 0-1 0-1-1-2-1-2 0-2-1-2 0-2-1-2 0-1 0-1-1-2 0-2-1-2 0-2 0-2 0-2 0-2 0-2 0-2 0-2 0-2 0-2 0-2 0-2 0-2 0-2 0-2 0-2 0-2 0-2 0-2 0-2 0-2 0-2 0-2 0-2 0-2 0-2 0-2 0-2 0-2 1-2 0-2 1-2 1-2 0-2 1-2 0-1 1-1 0-2 1-2 1-2 1-2 0-1 1-1 1-2 0-1 1-1 1-2 1-2 1-2 2-2 0-1 1-1 1-1 1-1 1-2 2-2 2-2 2-2 2-2 2-2 2-2 2-1 1-1 1-1 2-1 2-2 1 0 1-1 2-1 1 0 1-1 2-1 1 0 1-1 2 0 2-1 1 0 1-1 2 0 2-1 2 0 2 0 2-1 2 0 2 0 2 0 2 0 2 0 2 0 2 0 2 0 2 0 2 0 2 0 2 1 2 0 2 0 2 1 2 0 2 1 1 0 1 0 2 1 2 0 2 1 2 0 2 1 2 1 2 0 2 1 2 1 2 1 2 1 2 0 2 1 1 1 1 0 2 1 1 1 1 0 2 1 1 1 1 0 2 1 1 1 1 0 2 1 1 1 1 0 2 1 1 1 1 1 2 1 2 1 1 1 1 0 2 2 2 1 1 1 1 1 2 1 2 2 2 1 1 1 1 1 1 1 1 0 2 2 2 1 1 1 1 0 2 2 2 1 2 1 2 1 2 0 2 1 2 0 2 1 2 0 2 0 2 0 2 0 2 1 2 0 2 0 2-1 2 0 2 0 2 0 2 0 2 0 2 0 2 0 2 0 2 0 2 0 2 0 2 0 2-1 2 0 2 0 2 0 2 0 2 0 2 0 1 0 1 0 2 0 2 0 2-1 2 0 2 0 2 0 2 0 2 0 2 0 2 0 2 0 2 0 2 0 2 1 2 0 2 0 2 0 2 1 2 0 2 0 2 1 2 0 2 1 2 1 1 0 1 0 2 1 2 1 2 0 2 1 2 1 2 1 2 0 2 1 2 0 2 1 2 0 2 0 2 0 2 0 2 0 2 0 2-1 2 0 2-1 2-1 1 0 1-1 2-1 2-1 1-1 1-1 1-1 1-1 1-1 1-1 1-1 1-1 1-1 1-1 1-1 1-2 2-2 2-2 0-1 1-1 1-1 1-1 1-2 1 0 1-2 2-2 2-2 0-1 1-1 1-1 1-1 1-1 1-1 1-2 2-2 2-2 2-2 2-2 2-2 2-1 1-1 1-1 2-1 0-1 2-1 2-1 2-1 2-1 1-1 1 0 2-1 2-1 2-1 2-1 1 0 1 0 2-1 2-1 2 0 1 0 1 0 2-1 2 0 2-1 2 0 2 0 2 0 2 0 2 0 2 0 2 0 2 0 2 0 2 0 2 0 2 0 2 1 2 0 2 0 1 1 1 0 2 1 2 0 1 1 1 0 2 1 1 1 1 0 2 1 1 1 1 1 1 1 1 0 2 2 2 2 1 2 1 0 1 2 1 1 0 1 2 2 1 2 1 2 1 2 1 2 1 2 1 2 0 1 0 1 1 2 1 2 0 1 0 1 1 2 1 2 0 1 0 1 1 2 0 2 1 2 0 1 0 1 1 2 0 2 1 2 0 1 0 1 1 2 0 2 0 2 1 2 0 1 0 1 1 2 0 2 0 2 0 2 1 2 0 2 0 2 0 1 0 1 0 2 0 2 0 2 1 2 0 2 0 2 0 2 0 2 0 2 0 2 0 2 0 2 0 2 1 2 0 2 0 2 0 2 0 2 0 2 0 2 0 2 0 2-1 2 0 2 0 2 0 2 0 2 0 2-1 2 0 2 0 2-1 2 0 2 0 2-1 2 0 1 0 1 0 2-1 2 0 2-1 2 0 2 0 2-1 2 0 2 0 2-1 2 0 1 0 1 0 2-1 2 0 2-1 2 0 2-1 2-1 2 0 1 0 1-1 2-1 2-1 2 0 2-1 1 0 1-1 2-1 1 0 1-2 2-1 2-1 2-1 2-1 1-1 1-1 2-2 2-1 2-1 1-1 1-1 1-1 1-1 2-2 2-2 2-2 2-2 2-2 2-2 0M1678 903l-2 0-2 0-2 0-2 0-2 0-2 0-2 0-2 0-2 0-2 0-2 0-2 0-2 0-2 0-1 0-1-1-2 0-1-1-1-1-2-1-1 0-1-1-2-1-2-2-1 0-1-1-2-1-2-2-1 0-1-1-2-1-2-2-2-1-1-1-1-1-2-1-2-2-2-2-1 0-1-1-1-1-1-1-2-1 0-1-2-1-2-2-2-1-1-1-1-1-2-1-2-1-2-1-2-1-2-1-2-1-2 0-2-1-1 0-1 0-2-1-2 0-2 0-2 0-2 0-2-1-2 0-2 1-2 0-2 0-2 0-2 0-2 0-2 0-2 0-2 0-2 0-2 0-2 0-2 0-2 0-2 0-2 0-2 0-2 0-2 0-2 0-2 0-2 0-2 1-2 0-2 0-2 0-2 1-2 0-2 0-2 0-2 0-2 0-2 1-2 0-2 0-2 0-2 0-2 0-2 0-2 0-2 0-2 0-2 0-2 0-2 0-2 0-2 0-1 0-1 0-2 0-2 0-2 0-2 0-2 0-2 0-2 0-2 0-2 0-2-1-2 0-2 0-2 0-2 0-2 0-2 0-2 0-2 0-2 0-2 0-2 0-2 0-2 0-2 0-2 0-2 0-2 0-2 0-2 0-2 1-1 0-1 0-2 0-2 0-2 1-2 0-2 1-1 0-1 0-2 1-2 0-2 0-1 1-1 0-2 0-2 1-2 0-2 1-1 0-1 0-2 0-2 1-2 0-2 0-2 0-2 0-2 1-2 0-2 0-2 0-2 0-2 0-2 0-2 0-2 0-2 0-2 0-2 0-2 0-2 0-2 0-2 0-2 0-2 0-2 0-2 0-2 0-2 0-2-1-2 0-2 0-2 0-2-1-2 0-1 0-1 0-2-1-2-1-2 0-2-1-2-1-2-1-2-1-1 0-1-1-2-1-2-1-2-1-2-1-2-1-2-2-1 0-1-1-2-1-1 0-1-1-2-1-2-1-1-1-1-1-2-1-2-1-1-1-1-1-2-1 0-1-2-1-2-2-2-2-2-2 0-1-1-1-1-1-1-1-1-2-1-2-1-2-1-2-1-2 0-1-1-1 0-2-1-2-1-2 0-2-1-2-1-2 0-2-1-2-1-2 0-2-1-2 0-1-1-1 0-2-1-2 0-1 0-1-1-2 0-2-1-2 0-1 0-1-1-2 0-2 0-2-1-2 0-2 0-2 0-2 0-1 0-1 0-2 0-2 0-2 1-2 0-2 0-2 1-2 0-2 0-1 0-1 1-2 0-2 0-2 1-2 0-1 0-1 1-2 0-2 1-2 0-1 0-1 1-2 1-2 0-1 0-1 1-2 1-2 0-1 1-1 1-2 0-1 1-1 1-2 0-1 1-1 1-2 1-2 1-1 1-1 1-2 2-2 0-1 1-1 1-1 1-1 1-1 1-1 1-1 1-1 1-1 1-1 1-1 1-1 1-1 2-1 2-2 1 0 1-1 2-1 2-1 1-1 1 0 2-1 2-1 2-1 2-1 2 0 2-1 2 0 2-1 2 0 2 0 2 0 2-1 2 0 2 0 2 0 2 0 2 1 2 0 2 0 2 0 2 1 2 0 2 0 2 1 2 0 2 1 2 0 2 1 2 0 2 1 2 1 2 1 2 0 1 1 1 0 2 1 2 1 2 1 2 1 2 1 1 1 1 0 2 1 1 1 1 0 2 1 1 1 1 1 2 1 2 1 2 1 2 1 1 1 1 1 2 1 2 1 1 1 1 1 1 1 1 0 2 2 2 2 2 2 2 2 2 2 1 2 1 1 1 1 1 1 0 1 2 2 2 2 1 2 1 1 1 1 1 1 0 1 2 2 2 2 2 2 2 1 1 1 1 1 2 1 2 1 2 0 2 0 2 0 2 0 2-1 2-1 2-1 2-1 2-1 2-1 2-1 2-1 2-1 2-1 2 0 2-1 1 0 1 0 2-1 2 0 2-1 2 0 1 0 1 0 2-1 2 0 2 0 2 0 2-1 2 0 2 0 1 0 1 0 2 0 2-1 2 0 2 0 2 0 2 0 2 0 2 0 2 0 2 0 2 0 2 1 1 0 1 0 2 0 2 1 2 1 2 1 2 1 2 1 1 1 1 1 1 1 1 1 0 1 1 2 1 2 0 1 0 1 0 2 0 2-1 2-1 2-1 2-1 1-1 1-1 1-1 1-1 1-2 1-2 1-2 1-2 1-2 0-2 1-2 0-2 1-2 0-2 0-2 1-2 0-2 1-2 0-2 1-2 0-2 1-2 1-2 1-1 1-1 0-2 2-1 2-1 1-1 1 0 2 0 2 0 2 1 2 1 2 1 1 1 1 1 1 2 1 2 1 2 1 1 0 1 0 2 0 2 0 2 0 2 0 2 0 1 0 1 0 2-1 2 0 2-1 1 0 1-1 2 0 2-1 2-1 2 0 2-1 2 0 1 0 1 0 2 0 2 0 2 1 2 0 1 1 1 0 2 2 2 2 2 2 2 2 2 2 2 2 2 2 2 1 2 0 2 1 2-1 2-1 1-2 1-2 0-2 0-2 1-2 0-2 0-2 1-2 1-2 0-2 1-1 0-1 1-2 1-2 1-2 1-2 0-1 1-1 1-2 0-1 0-1 1-2 1-2 1-2 1-2 1-2 1-2 1-2 1-1 1-1 1-2 2-2 1-2 1-1 1-1 1-1 1-1 1-2 2-2 1-2 1-1 1-1 1-2 1-2 1-1 1-1 1-2 0-1 1-1 1-2 1-2 1-2 1-2 1-2 2-2 0-1 1-1 1-2 1-2 1-1 1-1 1-2 2-2 0-1 1-1 1-1 1-1 1-2 2-2 0-1 1-1 1-1 1-1 1-1 1-1 1-2 1 0 1-2 1 0 1-2 1 0 1-1 1-1 1-1 2-1 2-2 1 0 1-1 2-1 2-1 2-1 2-1 2-1 1 0 1 0 2-1 2-1 2 0 2-1 2 0 2 0 2-1 2 0 2 0 2 0 2-1 2 0 2 0 2 0 2 1 2 0 1 0 1 0 2 0 2 1 2 0 2 1 1 0 1 0 2 1 2 1 2 1 2 1 2 1 1 1 1 1 1 1 1 1 1 1 1 1 1 1 1 1 1 1 1 2 1 2 1 1 1 1 1 2 1 2 1 2 0 1 0 1 1 2 1 2 1 2 0 2 1 1 0 1 1 2 0 2 1 2 1 2 0 2 1 2 0 2 1 2 1 2 0 2 1 2 0 2 0 2 1 2 0 2 1 2 0 2 0 2 1 2 0 2 0 2 0 2 0 2 1 2 0 2 0 2 0 2 0 2 0 2 0 2 0 2 0 2 0 2 1 2 0 2 0 2 0 2 0 2 0 2 0 2 0 2 0 2 0 2 0 2 0 2 0 2-1 2 0 2 0 2 0 2 0 2-1 2 0 1 0 1 0 2-1 2 0 2-1 2 0 1 0 1-1 2 0 2 0 2-1 2 0 2-1 2 0 2-1 2 0 1 0 1-1 2 0 2 0 2-1 2 0 2-1 2-1 2 0 1 0 1-1 2-1 2 0 1 0 1-1 2-1 2-1 2-1 2-1 2-1 2-1 2-1 1 0 1-2 2-1 2-1 1-1 1-1 1 0 1-2 2-2 2-1 2-1 0-1 2-1 0-1 2-1 0-2 2-2 2-2 2-2 1-1 1-1 1-2 1-2 1-2 1M1672 895l-2 0-2 1-2 0-2 0-2 0-2-1-2 0-1 0-1-1-2 0-2-1-1 0-1-1-2-1-1 0-1-1-2-1-1 0-1-1-2-1-2-1-1-1-1-1-2-1-2-2-1 0-1-1-1-1-1-1-2-1-2-2-2-2-2-2-2-2-2-2-2-2-2-2-2-2-2-2-2-2-1 0-1-1-1-1-1-1-1-1-1-1-2-1-2-2-1 0-1-1-1-1-1-1-2-1-2-2-2-2-2-2-1-2-1-2-1-2 0-2 0-2 1-2 0-2 0-1 0-1 1-2 0-2 0-2 0-2 1-2 0-2 0-2 0-2 0-2 0-2 0-2-1-2 0-2 0-2 0-2-1-2 0-2 0-2 0-2 0-2 0-2 0-2 0-2 1-2 0-2 1-2 0-2 1-2 0-2 1-2 1-2 1-2 0-1 1-1 1-2 0-1 1-1 1-2 0-1 1-1 1-2 0-1 1-1 1-2 1-2 1-2 0-1 1-1 1-2 0-1 0-1 1-2 1-2 1-2 0-2 1-2 1-2 0-2 1-1 0-1 1-2 1-2 1-2 1-2 1-2 1-2 1-2 1-2 2-2 0-1 1-1 1-2 2-2 0-1 1-1 1-1 1-1 1-2 2-2 2-2 2-2 0-1 2-1 2-2 2-2 1 0 1-1 2-1 2-1 2-1 2-1 2-1 1 0 1-1 2 0 2-1 2 0 2-1 2 0 2 0 2-1 2 0 2 0 2 0 2 0 2 0 2 0 2 0 2 0 2 1 2 0 2 1 1 0 1 0 2 1 2 1 2 1 1 1 1 0 2 2 2 1 0 1 2 1 0 1 2 2 2 2 1 2 1 2 1 2 1 1 0 1 1 2 1 2 1 2 1 2 0 1 0 1 1 2 1 2 1 2 0 2 1 2 1 2 0 2 1 2 0 2 1 2 1 2 0 1 0 1 1 2 0 2 1 2 0 2 0 2 1 2 0 2 1 2 0 2 0 2 0 2 0 2 1 2 0 2 0 2 0 2 0 2 0 2 0 2 0 2 0 2 0 2 0 2 1 2 0 2 0 2 0 2 0 2 0 2 0 2 0 2 0 2 0 2 0 2-1 2 0 2 0 2 0 2-1 2 0 2 0 2-1 2 0 2-1 2 0 2 0 2-1 2 0 2-1 2 0 2-1 2-1 2 0 2-1 2 0 2-1 2 0 2-1 2 0 2-1 2 0 1 0 1-1 2-1 2 0 1 0 1-1 2-1 2-1 2-1 2-1 2-1 2-1 2-1 1 0 1-2 2 0 1-1 1-1 1 0 1-2 2-2 2-1 2-1 0-1 2-1 1-1 1-1 0-2 2-2 2-2 1-1 1-1 1-2 1-2 1-2 1-2 1-2 0-1 1-1 0M1344 861l-2 0-2 0-2 0-2 0-2 0-2 0-2 0-2 0-2 0-2 0-2 0-2 0-2 0-2-1-2 0-2-1-2 0-2-1-2-1-2 0-2-1-2-1-1 0-1-1-2-1-1 0-1-1-2-1-1 0-1-1-2-1-1 0-1-1-2-1-2-1-2-1-2-2-1 0-1-1-2-1-2-2-1 0-1-1-1-1-1-1-2-1 0-1-2-1-2-2 0-1-1-1-1-1-1-1-1-2-2-2 0-1-1-1-1-2 0-1-1-1-1-2 0-1-1-1 0-2-1-2-1-2-1-2 0-1-1-1 0-2-1-2-1-2 0-2-1-2-1-2-1-2 0-2-1-2 0-2-1-2 0-1 0-1-1-2 0-2 0-2 0-2 0-2-1-2 0-2 1-2 0-2 0-2 0-2 0-2 0-2 1-2 0-2 0-2 1-2 0-2 0-2 1-2 0-2 1-2 0-2 0-2 1-2 1-2 0-2 1-2 0-1 1-1 0-2 1-2 1-2 1-2 1-2 1-1 1-1 1-2 1-2 1-1 1-1 1-2 2-2 2-2 2-2 2-2 2-2 2-2 1 0 1-1 2-1 2-2 1 0 1-1 2-1 1 0 1-1 2-1 2 0 2-1 2-1 2 0 1 0 1 0 2-1 2 0 2 0 2 0 2-1 2 0 2 1 2 0 2 0 2 0 2 0 2 1 2 0 2 1 2 0 2 1 1 0 1 0 2 1 2 0 1 1 1 0 2 1 2 1 2 0 2 1 1 1 1 0 2 1 1 1 1 0 2 1 1 1 1 1 2 1 2 1 1 1 1 0 2 2 2 1 1 1 1 0 2 2 2 1 1 1 1 0 2 2 2 1 0 1 2 1 1 1 1 1 1 1 1 1 0 1 2 2 2 2 1 2 1 2 1 2 1 1 0 1 1 2 1 1 0 1 1 2 1 1 0 1 1 2 1 1 0 1 1 2 1 2 1 2 1 2 1 2 1 1 0 1 1 2 1 1 1 1 1 2 1 2 1 1 0 1 2 2 1 2 1 1 1 1 1 1 1 1 1 1 0 1 2 2 2 2 2 2 1 2 1 1 1 1 1 2 1 2 1 2 1 2 0 2 1 2 0 2 0 2 0 2 0 2 1 2 0 2 0 2 0 2 1 2 1 2 1 2 1 2 1 1 1 1 1 1 1 1 1 1 1 1 1 1 1 1 1 1 1 1 1 1 1 1 1 1 1 1 1 2 1 2 1 2-1 2-1 2-2 1-1 1-1 0-2 1-2 1-2 0-2 1-2 0-2 0-2 1-2 0-1 0-1 0-2 0-2 0-2 0-2 0-2 0-2 0-2 0-2 0-2 0-2 1-2 0-2 1-2 0-2 1-1 1-1 0-2 1-1 1-1 0-2 1-1 1-1 0-2 1-2 1-2 1-2 1-2 0-2 1-2 0-1 1-1 0-2 0-2 1-2 0-2 0-2 0-2 0-2 0-2 0-2 0-2 1-2 0-2 0-2 0-1 0-1 0M1676 883l-2 1-2 0-2 0-2 1-2 0-2-1-2 0-2 0-2-1-2 0-2-1-2-1-1 0-1-1-2-1-1 0-1-1-2-1-1 0-1-1-2-1-2-2-1 0-1-1-1-1-1-1-2-1-2-2-2-2-2-2 0-1-2-1 0-1-1-1-1-1-1-1-1-2-2-2-2-2 0-1-1-1-1-1-1-1-1-2-2-2 0-1-1-1-1-2-1-2-1-1 0-1-1-2-1-2-1-2 0-2-1-2 0-2 0-2-1-2 0-2 0-2 0-2-1-2 0-2 0-2 0-2-1-2 0-2 0-2-1-2 0-2 0-2-1-2 0-2 0-2 0-2 0-2 0-2 0-2 0-2 0-2 1-2 0-2 1-2 0-2 1-2 1-2 0-2 1-2 1-2 1-2 1-2 1-2 0-1 1-1 0-2 1-2 1-2 1-2 0-1 0-1 1-2 0-2 1-2 1-2 0-2 1-2 0-1 0-1 1-2 0-2 1-2 0-1 0-1 1-2 1-2 1-2 1-2 0-1 1-1 1-2 0-1 1-1 1-2 0-1 1-1 1-2 2-2 0-1 1-1 1-2 2-2 2-2 2-2 0-1 2-1 2-2 2-2 1 0 1-1 2-1 2-1 2-1 2-1 2-1 2 0 2-1 2 0 2-1 2 0 2-1 2 0 2 0 2 0 2 0 2 0 2 0 2 0 2 1 2 0 2 1 2 1 2 1 2 1 2 1 1 1 1 1 1 1 1 1 1 1 1 1 1 1 1 2 1 2 1 1 1 1 1 2 1 2 1 2 0 1 1 1 0 2 1 1 0 1 1 2 1 2 0 1 0 1 1 2 1 2 0 1 0 1 1 2 1 2 0 1 0 1 1 2 1 2 0 1 0 1 1 2 0 2 1 2 0 1 0 1 1 2 0 2 0 2 1 2 0 2 0 2 0 2 0 2 1 2 0 2 0 2 0 2 0 2 0 2 0 2 0 2 0 2 0 2 0 2 0 2 0 2 0 2 0 2 0 2 0 2 0 2 0 2 0 2 0 2 0 2 0 2-1 2 0 2 0 2-1 2 0 2-1 2 0 2 0 2-1 2-1 2 0 1 0 1-1 2 0 2-1 2 0 2-1 2-1 2 0 1 0 1-1 2 0 2-1 2-1 2 0 2-1 2-1 2 0 2-1 1 0 1-1 2-1 2-1 2-1 2-1 2-1 1 0 1-2 2-1 2-1 1-1 1-1 1-1 1-1 1 0 1-2 2-2 1 0 1-2 1-1 1-1 1-2 1-2 1-1 1-1 0-2 1-1 1-1 0M1344 849l-2 0-2 1-2 0-2 0-2 0-2 0-2 0-2 0-2 0-2 0-2 0-2 0-2 0-2-1-2 0-2-1-2 0-2-1-1 0-1 0-2-1-2-1-1 0-1-1-2-1-1 0-1-1-2-1-1 0-1-1-2-1-1 0-1-1-2-1-1 0-1-1-2-1-2-1-1-1-1-1-2-1-2-2-2-2-1 0-1-2-1 0-1-2-2-2-1-2-1-1-1-1-1-2-1-2-1-1 0-1-2-2 0-1-1-1-1-2 0-1-1-1 0-2-1-1 0-1-1-2-1-2-1-2-1-2 0-1 0-1-1-2-1-2 0-1 0-1-1-2 0-2-1-2 0-1 0-1-1-2 0-2 0-2 0-2 0-2 0-2 0-2 0-2 0-2 0-2 1-2 0-2 0-2 0-2 0-2 1-2 0-2 0-2 1-2 0-2 0-2 1-2 0-2 1-2 0-1 0-1 1-2 1-2 1-2 1-2 0-1 1-1 1-2 1-2 1-2 2-2 1-2 1-1 1-1 1-1 1-1 1-1 1-1 1-1 1-1 1-1 1-1 1-1 2-1 2-2 1 0 1-1 2-1 2-1 2-1 1 0 1-1 2 0 2-1 1 0 1-1 2 0 2 0 2-1 2 0 2 0 2 0 2 0 2 0 2 0 2 1 2 0 2 0 2 1 2 0 2 1 2 0 1 1 1 0 2 1 2 1 1 0 1 0 2 1 1 1 1 0 2 1 1 1 1 0 2 1 1 1 1 0 2 2 2 1 1 1 1 0 2 1 0 1 2 1 1 1 1 0 2 2 2 1 1 1 1 1 1 1 1 1 1 1 1 0 1 2 1 0 1 2 1 1 1 1 1 1 1 1 1 2 1 2 1 1 0 1 1 2 1 1 0 1 1 2 1 1 0 1 1 2 1 2 1 2 0 2 1 1 0 1 1 2 1 2 1 2 0 2 1 1 0 1 1 2 1 2 1 2 0 2 1 1 0 1 1 2 1 2 0 1 0 1 1 2 1 2 0 1 0 1 1 2 0 2 1 2 0 2 0 2 0 2 0 2 0 2 0 2 0 2 0 2-1 2 0 2-1 2-1 2 0 2-1 1 0 1-1 2-1 2-1 2-1 1 0 1-1 2-1 1-1 1-1 2-1 2-1 1-1 1-1 2-1 2-1 1-1 1-1 2-2 2-2 2-2 2-2 1-1 1-1 0-2 1-1 1-1 0-2 1-2 0-2 1-2 0-2 1-2 0-2 0-2 1-2 0-2 0M1668 873l-2 0-2 0-2-1-2 0-2-1-1 0-1 0-2-1-2-1-2-1-2-1-2-1-2-1-2-2-1 0-1-1-1-1-1-1-1-1-1-1-1-1-1-1-1-1-1-1-1-1-1-2-2-2-1-2-1-1-1-1-1-2-1-2-1-2-1-2-1-2-1-2-1-2 0-1-1-1 0-2-1-2 0-1 0-1-1-2 0-2-1-2 0-2 0-2-1-2 0-2 0-2-1-2 0-2 0-2-1-2 0-2 0-2-1-2 0-2 0-2-1-2 0-2 0-2 0-2 0-2 1-2 0-2 0-1 0-1 1-2 0-2 1-2 0-1 0-1 1-2 1-2 0-1 0-1 1-2 1-2 0-2 1-2 0-2 1-2 1-2 0-2 1-2 0-1 0-1 1-2 1-2 0-2 0-2 1-2 0-2 1-2 0-2 1-2 0-2 1-2 1-2 0-2 1-2 1-2 1-2 1-2 1-2 1-2 1-1 1-1 1-2 1-2 1-1 1-1 1-1 1-1 1-1 1-1 1-1 1-1 1-1 2-1 2-2 1 0 1-1 2-1 2-1 2-1 1 0 1-1 2 0 2-1 2 0 2 0 2-1 2 0 2 0 2 0 2 0 2 1 1 0 1 0 2 1 2 0 1 1 1 0 2 2 2 1 1 1 1 1 1 1 1 1 1 1 1 1 0 1 2 2 1 2 1 2 1 2 1 2 1 2 1 2 1 2 0 2 1 1 0 1 1 2 1 2 0 1 0 1 1 2 1 2 0 1 0 1 1 2 1 2 0 1 0 1 1 2 0 2 1 2 0 1 0 1 1 2 0 2 0 2 1 2 0 2 0 2 0 2 0 2 0 2 1 2 0 2 0 2 0 2 0 2 0 2 0 2 0 2 0 2 0 2 0 2 0 2 0 2 0 2 0 2 0 2 0 2-1 2 0 2 0 2 0 2-1 2 0 2 0 2-1 2 0 1 0 1-1 2 0 2-1 2 0 1 0 1-1 2-1 2 0 1 0 1-1 2-1 2 0 1 0 1-1 2-1 2 0 1 0 1-1 2-1 2 0 1 0 1-1 2-1 2-1 2-1 2 0 1-1 1-1 2-1 2-1 2-1 2-1 1-1 1-1 1-1 1-1 1 0 1-2 1 0 1-2 1-1 1-1 1-1 1-1 0-2 2-2 1-2 1-2 0-2 1-2 0-2 1-2 0M1330 837l-2 0-2 0-2 0-1 0-1 0-2 0-2-1-2 0-2 0-2-1-1 0-1 0-2-1-2-1-2 0-2-1-2-1-1 0-1 0-2-1-2-1-2-1-2-1-2-1-2-1-2-2-1 0-1-1-2-1-2-2-2-2-2-2-2-2-2-2-1-2-1-1-1-1-1-2-1-2-1-1-1-1-1-2 0-1-1-1-1-2-1-2-1-2-1-2-1-2 0-1-1-1 0-2-1-2-1-2 0-2-1-2 0-2 0-1 0-1 0-2-1-2 0-2 0-2 0-2 0-2 0-2 0-2 0-2 0-2 1-2 0-2 0-2 0-1 0-1 0-2 0-2 1-2 0-2 0-2 1-2 0-1 0-1 1-2 1-2 0-1 0-1 1-2 1-2 1-2 1-2 1-2 1-1 1-1 1-2 2-2 2-2 0-1 2-1 0-1 2-1 2-2 2-2 1 0 1-1 2-1 2-1 2-1 2-1 2-1 2 0 2-1 2 0 2-1 2 0 2 0 2 0 2 0 2 0 2 0 2 0 2 1 2 0 2 1 2 0 2 1 2 1 2 0 2 1 1 1 1 0 2 1 2 1 2 1 1 1 1 0 2 1 1 1 1 1 2 1 2 1 1 1 1 1 2 1 2 2 2 1 0 1 2 1 1 1 1 1 1 1 1 1 1 1 1 1 0 1 2 2 1 2 1 1 1 1 1 2 1 2 1 2 1 2 1 2 1 2 0 2 1 2 1 2 0 2 1 2 1 2 0 2 1 2 1 2 0 2 1 2 0 1 0 1 1 2 0 2 1 2 0 1 0 1 0 2 1 2 0 2 0 2 0 2 0 2 0 2-1 2 0 2 0 1 0 1 0 2-1 2 0 2-1 2-1 2 0 2-1 1 0 1-1 2-1 2-1 2-1 1 0 1-2 2-1 2-1 1-1 1-1 2-2 2-2 2-2 2-2 2-2 1-1 1-1 0-2 2-2 1-2 1-1 0-1 0-2 1-2 1-2 0-2 1-2 0-2 0-2 1-2 0M1676 859l-2 1-2 0-2 1-2 0-2 0-2-1-2 0-2 0-2-1-1 0-1-1-2-1-1 0-1 0-2-2-1 0-1-1-2-1-2-2-2-2-2-2-2-2-1-2-1-1-1-1-1-2-1-2-1-2-1-2-1-2-1-2-1-2 0-2-1-2 0-2-1-2 0-1 0-1-1-2 0-2-1-2 0-2 0-1 0-1-1-2 0-2 0-2-1-2 0-2 0-2 0-2-1-2 0-2 0-2 0-2 0-2 0-2 0-2 0-2 0-2 0-2 1-2 0-1 0-1 0-2 1-2 0-2 1-2 0-1 0-1 1-2 0-2 1-2 0-1 0-1 1-2 0-2 1-2 0-2 1-2 1-2 0-2 1-2 0-2 1-2 0-1 0-1 1-2 0-2 1-2 0-1 0-1 1-2 1-2 0-1 0-1 1-2 1-2 1-2 1-2 1-2 1-2 2-2 1-2 1-1 1-1 1-1 1-1 1-1 1-1 1-1 2-1 2-2 1 0 1-1 2-1 2-1 2-1 1 0 1 0 2-1 2 0 2-1 2 0 2 0 2 0 2 1 2 0 2 1 2 1 2 1 2 2 2 1 0 1 2 2 2 2 1 2 1 1 0 1 1 2 1 1 0 1 1 2 1 1 0 1 1 2 1 2 1 2 1 2 0 1 0 1 1 2 1 2 0 1 0 1 1 2 1 2 0 1 0 1 1 2 0 2 1 2 0 1 0 1 1 2 0 2 0 2 1 2 0 2 0 2 0 1 0 1 0 2 0 2 0 2 0 2 0 2 0 2 0 2 0 2 0 2 0 2 0 2 0 2 0 2 0 2 0 2 0 2 0 1 0 1 0 2 0 2-1 2 0 2 0 2-1 2 0 2 0 2-1 2 0 2-1 1 0 1-1 2 0 2-1 1 0 1-1 2-1 2 0 1 0 1-1 2-1 2-1 2-1 2 0 1 0 1-1 2-1 2-1 2-1 2-1 2-1 2-1 2-1 1 0 1-2 2-1 2-1 1-1 1-1 1-1 1-1 0-2 2-2 1-1 1-1 0-2 1-1 1-1 0M1326 821l-2 0-2 0-2 0-1 0-1 0-2 0-2-1-2 0-2 0-2-1-2 0-2-1-2 0-2-1-2 0-2-1-2-1-1 0-1-1-2-1-1 0-1-1-2-1-1 0-1-1-1-1-1-1-2-1-2-2-2-2-2-2-2-2 0-1-1-1-1-1-1-1-1-2-1-2-1-1-1-1-1-2 0-1-1-1-1-2 0-1-1-1 0-2-1-2-1-2 0-2-1-2 0-2 0-2-1-2 0-2 0-2 0-2 0-2 0-2 0-2 0-2 0-2 0-2 0-2 0-2 0-2 1-2 0-2 0-2 0-2 1-2 0-2 1-2 1-2 0-2 1-1 0-1 1-2 1-1 0-1 2-2 0-1 1-1 1-1 1-1 1-2 2-2 2-2 1 0 1-1 1-1 1-1 2-1 2-1 2-1 2-1 2-1 1 0 1-1 2 0 2-1 2 0 2 0 2 0 2 0 2 0 2 0 2 0 2 1 2 0 2 1 2 0 2 1 2 1 2 1 2 1 2 1 2 1 2 1 1 1 1 0 2 1 1 1 1 1 1 1 1 0 2 2 2 1 0 1 2 1 1 1 1 1 1 1 1 1 1 1 1 1 0 1 2 2 1 2 1 1 1 1 1 2 1 2 1 2 0 1 0 1 1 2 1 2 1 2 0 2 1 2 0 1 0 1 1 2 0 2 1 2 0 2 1 2 0 2 1 2 0 2 0 2 1 2 0 2 0 2 0 2 0 2 0 2 0 2-1 2 0 2 0 2-1 2-1 2 0 1 0 1-1 2-1 2-1 2-1 2-1 2-1 1-1 1-1 2-2 2-2 2-2 2-2 2-2 1-1 1-1 0-2 1-1 1-1 0-2 1-1 1-1 0-2 1-2 0-2 0-2 1-2 0M1674 847l-2 0-2 1-2 0-2 0-2-1-2 0-2-1-2-1-1 0-1-1-2-1-1 0-1-1-1-1-1-1-1-1-1-1-1-1-1-1-1-1-1-2-1-2-1-1 0-1-1-2-1-1 0-1-1-2-1-2-1-2 0-2-1-2 0-1 0-1-1-2 0-2-1-2 0-2 0-2-1-2 0-2 0-2 0-2-1-2 0-2 0-1 0-1 0-2 0-2 0-2-1-2 0-2 0-2 0-2 1-2 0-2 0-2 0-1 0-1 0-2 1-2 0-2 0-2 1-2 0-1 0-1 1-2 0-2 1-2 0-1 0-1 1-2 0-2 1-2 0-1 0-1 1-2 1-2 0-2 1-2 0-2 1-2 0-1 0-1 1-2 1-2 0-1 1-1 0-2 1-2 1-2 1-2 1-2 1-1 1-1 1-2 2-2 2-2 2-2 2-2 2-1 1-1 1-1 2-1 2 0 2-1 2-1 2 0 2 0 2 0 2 1 2 0 1 1 1 0 2 1 1 1 1 1 1 1 1 0 1 2 1 1 1 1 1 1 0 1 2 2 0 1 1 1 1 2 1 2 1 2 1 2 0 2 1 1 0 1 1 2 1 2 1 2 0 2 1 2 0 2 1 2 0 2 1 2 0 2 1 2 0 2 0 2 1 2 0 2 0 2 0 2 0 2 0 2 0 2 0 2 0 2 0 2 0 2 0 2 0 2 0 2 0 1 0 1 0 2 0 2 0 2-1 2 0 2 0 2 0 2-1 2 0 2 0 2-1 2 0 2-1 2-1 2 0 2-1 2-1 2-1 2 0 1 0 1-1 2-1 1 0 1-1 2-1 1 0 1-1 2-1 1 0 1-1 2-1 1 0 1-2 2 0 1-1 1-1 2-2 2-1 2-1 1-1 1-1 1-2 1-2 1-1 1-1 0-2 1-2 1M1324 805l-2 0-2 1-2 0-2 0-2 0-2 0-2 0-2 0-2-1-2 0-1 0-1 0-2-1-2 0-2-1-1 0-1-1-2-1-1 0-1-1-2-1-1 0-1-1-2-1-2-2-2-2-1 0-1-2-1 0-1-2-1 0-1-2-2-2 0-1-1-1-1-2-1-2-1-1 0-1-1-2-1-2-1-2 0-2-1-2 0-2-1-2 0-2 0-2 0-2-1-2 0-2 0-2 0-2 0-2 0-2 0-2 0-2 1-2 0-2 0-2 0-2 1-2 0-1 0-1 1-2 1-2 0-1 1-1 1-2 0-1 1-1 1-2 2-2 0-1 1-1 1-1 1-1 1-1 2-1 2-2 2-1 2-1 2-1 2-1 2-1 2 0 2-1 2 0 2 0 2 0 2 0 2 0 2 0 2 0 2 1 2 1 1 0 1 0 2 1 1 1 1 0 2 1 1 1 1 0 2 1 1 1 1 1 1 1 1 0 2 2 2 1 1 1 1 1 1 1 1 1 1 1 1 1 1 1 1 1 0 1 2 2 1 2 1 1 0 1 1 2 1 1 0 1 1 2 1 2 0 2 1 2 1 2 0 2 0 2 1 2 0 2 0 2 1 2 0 2 0 2 0 2 1 2 0 2 0 2 0 2 0 2-1 2 0 2 0 2-1 2 0 2-1 1 0 1-1 2-1 2-1 2-1 1 0 1-2 2-2 2-2 2-2 2-2 1-1 1-1 0-2 1-1 1-1 0-2 1-2 0-1 1-1 0M1676 831l-2 1-2 0-2 0-2 0-2 0-2-1-1 0-1-1-2-1-2-1-1-1-1-1-1-1-1-1-1-1-1-2-2-2 0-1-1-1-1-2 0-1-1-1-1-2 0-2-1-2 0-2-1-2 0-1 0-1-1-2 0-2 0-2 0-2-1-2 0-2 0-1 0-1 0-2-1-2 0-2 0-2 0-2 0-2 0-2 0-2 0-2 0-2 1-2 0-2 0-2 0-2 1-2 0-2 1-2 0-2 0-2 1-2 0-2 1-2 1-2 0-2 1-2 0-1 0-1 1-2 1-2 0-2 1-2 0-2 1-2 1-2 1-2 1-2 1-2 1-2 1-1 1-1 1-2 2-2 2-2 2-2 1 0 1-1 2-1 1 0 1-1 2 0 2 0 2 0 2 0 2 1 2 1 1 1 1 0 2 2 2 2 1 2 1 1 1 1 1 2 1 2 1 1 0 1 1 2 1 2 1 2 1 2 1 2 0 2 1 2 1 2 0 2 1 2 0 2 0 2 1 2 0 2 0 2 1 2 0 2 0 2 0 2 0 2 0 2 0 2 0 2 0 2 0 2 0 2 0 2 0 2 0 2-1 2 0 2 0 2 0 2-1 2 0 2 0 2-1 2 0 2-1 2 0 1 0 1-1 2-1 2-1 2-1 2 0 1-1 1-1 2 0 1-1 1-1 2-1 2-1 1-1 1-1 2-1 2-1 0-1 2-1 1-1 1-1 1-1 1-1 1-2 1-2 1-1 1-1 0M1316 791l-2 1-2 0-2 0-2 1-2 0-2-1-2 0-2 0-2-1-2 0-2-1-2-1-1 0-1-1-2-1-1 0-1-1-2-1-2-2-2-2-2-2-2-2 0-1-1-1-1-2-1-2-1-2-1-2-1-2 0-1 0-1-1-2 0-2-1-2 0-2 0-1 0-1 0-2-1-2 0-2 0-2 0-2 0-2 1-2 0-2 0-1 0-1 1-2 0-2 1-2 0-1 1-1 0-2 1-1 0-1 2-2 0-1 1-1 1-1 1-1 1-1 1-1 1-1 1-1 1-1 2-1 2-1 2-1 2-1 2 0 2-1 2 0 2 0 2 0 2 0 2 0 2 0 2 1 2 1 2 1 2 0 1 1 1 1 2 1 2 1 1 1 1 1 1 1 1 0 2 2 2 2 1 2 1 1 1 1 1 1 0 1 1 2 1 1 1 1 0 2 1 1 0 1 1 2 0 2 1 2 0 1 0 1 1 2 0 2 0 2 0 2 0 2 0 2 0 2 0 2-1 2 0 2 0 1 0 1-1 2 0 2-1 2-1 2-1 2-1 2-1 2-1 2-1 1-1 1-1 1-1 1-1 1-1 1-1 0-2 2-2 1-2 1-1 0-1 0M1678 815l-2 1-2 0-2 0-2 0-2-1-1 0-1 0-2-2-1 0-1-1-1-1-1-1-1-1-1-2-1-2-1-2-1-2-1-2 0-1 0-1-1-2 0-2-1-2 0-1 0-1-1-2 0-2 0-2 0-2-1-2 0-2 0-2 0-2 0-2 0-2 0-2 0-2 0-2 0-2 1-2 0-2 0-2 1-2 0-2 1-2 0-2 0-2 1-2 0-2 1-2 1-2 0-2 1-2 0-2 1-2 1-2 1-2 0-1 1-1 1-2 0-1 1-1 1-2 2-2 2-2 2-2 1 0 1-1 2 0 2-1 2 0 2 0 2 1 1 1 1 0 2 2 2 2 2 2 1 2 1 1 0 1 1 2 1 1 0 1 1 2 1 1 0 1 1 2 1 2 0 1 0 1 1 2 0 2 1 2 0 1 0 1 1 2 0 2 0 2 0 2 0 2 1 2 0 2 0 2 0 2 0 2 0 2 0 2-1 2 0 2 0 2 0 2 0 2-1 2 0 2 0 2-1 2 0 2-1 2 0 1 0 1-1 2-1 2-1 2-1 2-1 2-1 2-1 2-1 1-1 1-1 1-1 1-1 1-1 1-1 1-2 1-2 1-1 1-1 0M1306 779l-2 1-2 0-2 0-2-1-2 0-1 0-1-1-2 0-2-1-2-1-1-1-1-1-2-1-2-2-1-2-1-1-1-1-1-2-1-2-1-2 0-1-1-1 0-2-1-2 0-2 0-2-1-2 0-2 0-2 0-2 0-2 0-2 1-2 0-2 0-2 1-2 1-2 1-2 1-2 1-2 1-1 1-1 1-1 1-1 1-1 2-1 2-1 2-1 2-1 2 0 2-1 2 0 2 0 2 1 2 0 2 1 2 0 2 1 1 1 1 1 2 1 2 1 0 1 2 1 1 1 1 1 0 1 2 2 1 2 1 1 0 1 1 2 1 2 1 2 0 2 1 2 0 2 0 1 0 1 0 2 0 2 0 2 0 2-1 2 0 2-1 2-1 2 0 2-1 1 0 1-2 2-1 2-1 1-1 1-1 1 0 1-2 1-1 1-1 1-2 1-2 1-2 1-2 0M1680 801l-2 1-2 0-2 0-2-1-1 0-1-1-2-1-2-2-1-2-1-1-1-1-1-2 0-1 0-1-1-2-1-2 0-1 0-1-1-2 0-2 0-2-1-2 0-2 0-2 0-2 0-2 0-2 0-2 0-1 0-1 0-2 0-2 1-2 0-2 0-2 1-2 0-1 0-1 1-2 0-2 1-2 0-1 0-1 1-2 1-2 0-1 1-1 0-2 1-1 0-1 2-2 0-1 1-1 1-1 1-1 1-1 2-1 2-1 2 0 2 0 2 1 2 1 1 1 1 1 1 1 1 1 1 1 1 2 1 2 1 2 1 2 0 2 1 2 1 2 0 2 1 2 0 2 0 2 1 2 0 2 0 2 0 2 0 2 0 2 0 2 0 2 0 2 0 2-1 2 0 2 0 1 0 1 0 2-1 2 0 2-1 2-1 2 0 2-1 1 0 1-1 2-1 1 0 1-2 2-1 2-1 0-2 2-2 1-1 1-1 0M1300 767l-2 0-2 0-2-1-2 0-1-1-1-1-2-1-2-2-2-2 0-1-1-1-1-2 0-1 0-1-1-2 0-2-1-2 0-2 0-2 0-2 0-2 1-2 0-2 1-2 1-2 1-2 2-2 2-2 2-1 2-1 2-1 2 0 2 0 2 0 2 0 2 1 2 1 2 1 2 2 2 2 2 2 1 2 1 2 1 2 0 2 1 2 0 2 0 2 0 2-1 2 0 2-1 2 0 1 0 1-1 2-1 1-1 1-1 1 0 1-2 2-2 1-1 1-1 0-2 1-2 1-2 0M1680 788l-2 0-2 0-2-1-2-2-2-2-1-2-1-2 0-1-1-1 0-2-1-2 0-2 0-1 0-1 0-2 0-2 0-2 0-2 0-2 0-2 0-2 1-2 0-2 1-2 0-2 1-2 1-2 0-1 0-1 2-2 0-1 1-1 1-2 1 0 1-1 2-1 2 0 2 1 1 1 1 1 1 1 1 1 0 1 1 2 1 1 0 1 1 2 0 2 1 2 0 2 1 2 0 2 0 2 0 2 0 2 0 2 0 2 0 2 0 2-1 2 0 1 0 1-1 2 0 2-1 2-1 2-1 2-2 2-2 2-2 1M1298 749l-2 0-2-2-1-2 0-2 0-2 1-2 2-2 2 0 2 1 1 1 1 1 0 1 1 2-1 2 0 1 0 1-2 1-1 1-1 0M1680 777l-2 0-2 0-2-2-1-2-1-2 0-1 0-1-1-2 0-2 0-2 0-2 0-2 1-2 0-2 1-2 0-2 1-2 2-2 0-1 2-1 2 0 2 1 1 1 1 2 1 2 0 2 1 2 0 1 0 1 0 2 0 2 0 2 0 2 0 1 0 1-1 2 0 2-1 2-1 2-1 1-1 1-1 0" stroke="#000" stroke-width="3.4" fill="none"/>
<path transform="scale(0.5)" d="M816 87h2m-22 13h2m-43 89h2m19 10h2m36 0h2m-28 12h2m-4 1h2m-38 2h2m-78 8h2m137 3h2m-168 2h2m50 3h2m32 0h2m23 6h2m44 1h2m-96 1h2m24 1h2m79 13h2m-113 2h2m14 5h2m17 0h2m65 6h2m-58 1h2m51 1h2m-89 1h2m27 2h2m45 1h2m-177 1h2m6 0h2m137 0h2m-131 4h2m77 1h2m10 0h2m23 0h2m50 2h2m57 0h2m4 1h2m-141 1h2m16 1h2m98 0h2m-213 1h2m68 0h2m120 0h2m-105 1h2m99 0h2m-99 1h2m-88 1h2m100 0h2m-114 1h2m92 0h2m49 0h2m10 1h2m-152 1h2m35 0h2m61 0h2m111 0h2m19 1h2m-67 1h2m-41 1h2m75 0h2m-234 1h2m191 0h2m-41 1h2m83 0h2m-50 1h2m-61 1h2m46 0h2m21 0h2m3 0h2m-209 1h2m59 0h2m-31 1h2m21 0h2m25 0h2m22 0h2m6 0h2m1 0h2m10 0h2m78 0h2m-144 1h2m30 0h2m52 0h2m96 0h2m-242 1h2m83 0h2m2 0h2m8 0h2m62 0h2m-164 1h2m44 0h2m21 0h2m48 0h2m6 0h2m-103 1h2m18 0h2m115 0h2m6 0h2m13 0h2m12 0h2m9 0h2m30 0h2m-148 1h2m71 0h2m-137 1h2m5 0h2m25 0h2m62 0h2m-129 1h2m13 0h2m11 0h2m28 0h2m9 0h2m33 0h2m35 0h2m39 0h2m48 0h2m-233 1h2m22 0h2m44 0h2m22 0h2m2 0h2m64 0h2m40 0h2m15 0h2m0 0h2m13 0h2m-252 1h2m43 0h2m77 0h2m40 0h2m19 0h2m25 0h2m19 0h2m-222 1h2m94 0h2m-89 1h2m29 0h2m97 0h2m4 0h2m46 0h2m-1 0h2m7 0h2m1 0h2m-204 1h2m3 0h2m10 0h2m5 0h2m41 0h2m38 0h2m94 0h2m1 0h2m0 0h2m-240 1h2m2 0h2m-1 0h2m60 0h2m27 0h2m119 0h2m3 0h2m12 0h2m8 0h2m10 0h2m-252 1h2m29 0h2m0 0h2m10 0h2m7 0h2m9 0h2m5 0h2m1 0h2m65 0h2m23 0h2m14 0h2m5 0h2m8 0h2m33 0h2m-239 1h2m17 0h2m2 0h2m45 0h2m3 0h2m0 0h2m13 0h2m90 0h2m63 0h2m-256 1h2m27 0h2m12 0h2m4 0h2m127 0h2m41 0h2m39 0h2m-255 1h2m67 0h2m2 0h2m11 0h2m54 0h2m26 0h2m44 0h2m15 0h2m-198 1h2m45 0h2m13 0h2m13 0h2m17 0h2m19 0h2m48 0h2m1 0h2m2 0h2m6 0h2m-1 0h2m1 0h2m9 0h2m-1 0h2m4 0h2m3 0h2m-229 1h2m67 0h2m52 0h2m5 0h2m15 0h2m6 0h2m4 0h2m-1 0h2m9 0h2m1 0h2m24 0h2m-230 1h2m8 0h2m14 0h2m129 0h2m29 0h2m17 0h2m25 0h2m7 0h2m5 0h2m-1 0h2m-255 1h2m5 0h2m12 0h2m25 0h2m2 0h2m0 0h2m128 0h2m34 0h2m-156 1h2m60 0h2m20 0h2m21 0h2m16 0h2m29 0h2m15 0h2m12 0h2m5 0h2m-258 1h2m13 0h2m3 0h2m7 0h2m7 0h2m12 0h2m2 0h2m18 0h2m48 0h2m76 0h2m22 0h2m20 0h2m-248 1h2m-1 0h2m23 0h2m3 0h2m10 0h2m153 0h2m8 0h2m0 0h2m0 0h2m2 0h2m17 0h2m1 0h2m1 0h2m2 0h2m-257 1h2m7 0h2m2 0h2m2 0h2m1 0h2m-1 0h2m3 0h2m0 0h2m19 0h2m18 0h2m6 0h2m86 0h2m4 0h2m3 0h2m1 0h2m0 0h2m11 0h2m1 0h2m14 0h2m0 0h2m2 0h2m1 0h2m15 0h2m18 0h2m-261 1h2m19 0h2m17 0h2m9 0h2m0 0h2m2 0h2m0 0h2m0 0h2m2 0h2m19 0h2m18 0h2m55 0h2m6 0h2m31 0h2m36 0h2m0 0h2m2 0h2m1 0h2m9 0h2m-244 1h2m8 0h2m7 0h2m20 0h2m15 0h2m17 0h2m80 0h2m5 0h2m11 0h2m30 0h2m9 0h2m7 0h2m4 0h2m-254 1h2m4 0h2m14 0h2m0 0h2m20 0h2m8 0h2m7 0h2m0 0h2m16 0h2m107 0h2m2 0h2m3 0h2m2 0h2m10 0h2m5 0h2m-204 1h2m3 0h2m-1 0h2m3 0h2m24 0h2m22 0h2m0 0h2m26 0h2m52 0h2m37 0h2m2 0h2m20 0h2m11 0h2m0 0h2m-255 1h2m3 0h2m8 0h2m2 0h2m8 0h2m2 0h2m1 0h2m-1 0h2m3 0h2m14 0h2m12 0h2m21 0h2m17 0h2m3 0h2m17 0h2m35 0h2m-1 0h2m11 0h2m-1 0h2m5 0h2m24 0h2m4 0h2m0 0h2m-1 0h2m-1 0h2m6 0h2m-1 0h2m3 0h2m1 0h2m2 0h2m-255 1h2m2 0h2m-1 0h2m1 0h2m0 0h2m1 0h2m-1 0h2m0 0h2m6 0h2m5 0h2m0 0h2m0 0h2m10 0h2m15 0h2m4 0h2m1 0h2m8 0h2m5 0h2m0 0h2m51 0h2m2 0h2m15 0h2m16 0h2m17 0h2m22 0h2m3 0h2m-1 0h2m2 0h2m6 0h2m-245 1h2m-1 0h2m1 0h2m15 0h2m14 0h2m0 0h2m0 0h2m-1 0h2m8 0h2m2 0h2m-1 0h2m22 0h2m1 0h2m45 0h2m18 0h2m3 0h2m21 0h2m-1 0h2m-1 0h2m18 0h2m35 0h2m4 0h2m2 0h2m5 0h2m0 0h2m-261 1h2m0 0h2m2 0h2m1 0h2m2 0h2m14 0h2m3 0h2m4 0h2m4 0h2m2 0h2m2 0h2m10 0h2m6 0h2m2 0h2m9 0h2m27 0h2m48 0h2m5 0h2m1 0h2m1 0h2m0 0h2m4 0h2m2 0h2m4 0h2m49 0h2m-253 1h2m3 0h2m6 0h2m-1 0h2m1 0h2m0 0h2m3 0h2m-1 0h2m5 0h2m10 0h2m2 0h2m0 0h2m5 0h2m1 0h2m4 0h2m5 0h2m-1 0h2m16 0h2m1 0h2m1 0h2m4 0h2m35 0h2m9 0h2m5 0h2m8 0h2m3 0h2m2 0h2m1 0h2m1 0h2m2 0h2m0 0h2m-1 0h2m42 0h2m2 0h2m1 0h2m1 0h2m4 0h2m-250 1h2m5 0h2m2 0h2m3 0h2m0 0h2m2 0h2m0 0h2m0 0h2m-1 0h2m2 0h2m0 0h2m1 0h2m4 0h2m7 0h2m1 0h2m-1 0h2m32 0h2m13 0h2m6 0h2m40 0h2m10 0h2m1 0h2m12 0h2m8 0h2m-1 0h2m41 0h2m5 0h2m6 0h2m6 0h2m-266 1h2m8 0h2m2 0h2m21 0h2m3 0h2m-1 0h2m0 0h2m1 0h2m-1 0h2m-1 0h2m15 0h2m6 0h2m18 0h2m24 0h2m0 0h2m26 0h2m0 0h2m8 0h2m0 0h2m10 0h2m0 0h2m0 0h2m0 0h2m53 0h2m1 0h2m-1 0h2m-1 0h2m1 0h2m4 0h2m3 0h2m-259 1h2m-1 0h2m20 0h2m1 0h2m22 0h2m6 0h2m-1 0h2m-1 0h2m0 0h2m-1 0h2m-1 0h2m6 0h2m0 0h2m10 0h2m-1 0h2m4 0h2m2 0h2m29 0h2m6 0h2m11 0h2m13 0h2m20 0h2m10 0h2m43 0h2m4 0h2m10 0h2m-1 0h2m-264 1h2m3 0h2m7 0h2m-1 0h2m0 0h2m7 0h2m22 0h2m0 0h2m9 0h2m14 0h2m3 0h2m7 0h2m25 0h2m12 0h2m1 0h2m8 0h2m20 0h2m8 0h2m0 0h2m-1 0h2m7 0h2m0 0h2m45 0h2m2 0h2m-1 0h2m-1 0h2m12 0h2m0 0h2m-259 1h2m3 0h2m1 0h2m0 0h2m-1 0h2m-1 0h2m2 0h2m0 0h2m29 0h2m0 0h2m-1 0h2m1 0h2m5 0h2m16 0h2m4 0h2m10 0h2m4 0h2m18 0h2m0 0h2m5 0h2m5 0h2m8 0h2m6 0h2m3 0h2m1 0h2m3 0h2m7 0h2m-1 0h2m61 0h2m5 0h2m-1 0h2m2 0h2m-262 1h2m2 0h2m-1 0h2m3 0h2m4 0h2m0 0h2m41 0h2m-1 0h2m9 0h2m2 0h2m-1 0h2m2 0h2m-1 0h2m4 0h2m3 0h2m2 0h2m3 0h2m1 0h2m18 0h2m1 0h2m0 0h2m0 0h2m16 0h2m6 0h2m17 0h2m10 0h2m53 0h2m2 0h2m10 0h2m-264 1h2m1 0h2m-1 0h2m2 0h2m0 0h2m-1 0h2m0 0h2m54 0h2m-1 0h2m7 0h2m12 0h2m2 0h2m10 0h2m2 0h2m9 0h2m11 0h2m12 0h2m7 0h2m8 0h2m4 0h2m0 0h2m5 0h2m-1 0h2m3 0h2m51 0h2m-1 0h2m0 0h2m2 0h2m2 0h2m4 0h2m-262 1h2m-1 0h2m2 0h2m-1 0h2m1 0h2m0 0h2m-1 0h2m48 0h2m19 0h2m7 0h2m17 0h2m49 0h2m0 0h2m1 0h2m2 0h2m0 0h2m-1 0h2m3 0h2m5 0h2m0 0h2m53 0h2m0 0h2m-1 0h2m-1 0h2m-1 0h2m0 0h2m1 0h2m3 0h2m2 0h2m-1 0h2m-266 1h2m-1 0h2m0 0h2m0 0h2m-1 0h2m0 0h2m0 0h2m-1 0h2m0 0h2m-1 0h2m-1 0h2m54 0h2m-1 0h2m12 0h2m16 0h2m20 0h2m8 0h2m-1 0h2m0 0h2m2 0h2m10 0h2m6 0h2m0 0h2m3 0h2m-1 0h2m6 0h2m0 0h2m-1 0h2m5 0h2m58 0h2m2 0h2m-254 1h2m7 0h2m-1 0h2m0 0h2m56 0h2m1 0h2m1 0h2m-1 0h2m-1 0h2m1 0h2m-1 0h2m2 0h2m1 0h2m6 0h2m2 0h2m16 0h2m11 0h2m8 0h2m13 0h2m-1 0h2m8 0h2m-1 0h2m5 0h2m2 0h2m4 0h2m-1 0h2m54 0h2m0 0h2m1 0h2m-1 0h2m6 0h2m3 0h2m-195 1h2m4 0h2m2 0h2m0 0h2m1 0h2m-1 0h2m22 0h2m14 0h2m20 0h2m5 0h2m-1 0h2m1 0h2m7 0h2m0 0h2m4 0h2m0 0h2m7 0h2m-117 1h2m5 0h2m8 0h2m1 0h2m20 0h2m8 0h2m19 0h2m19 0h2m1 0h2m-1 0h2m5 0h2m-103 1h2m1 0h2m0 0h2m-1 0h2m5 0h2m-1 0h2m-1 0h2m12 0h2m-1 0h2m3 0h2m15 0h2m1 0h2m5 0h2m2 0h2m7 0h2m6 0h2m-1 0h2m4 0h2m2 0h2m-1 0h2m1 0h2m-1 0h2m0 0h2m2 0h2m0 0h2m-107 1h2m2 0h2m15 0h2m-1 0h2m1 0h2m0 0h2m5 0h2m11 0h2m9 0h2m11 0h2m19 0h2m-1 0h2m1 0h2m0 0h2m0 0h2m0 0h2m3 0h2m-108 1h2m-1 0h2m1 0h2m0 0h2m13 0h2m1 0h2m31 0h2m0 0h2m9 0h2m7 0h2m-1 0h2m2 0h2m0 0h2m3 0h2m-1 0h2m-1 0h2m-1 0h2m0 0h2m0 0h2m-1 0h2m4 0h2m-109 1h2m6 0h2m-1 0h2m0 0h2m3 0h2m2 0h2m11 0h2m3 0h2m5 0h2m0 0h2m-1 0h2m21 0h2m1 0h2m-1 0h2m6 0h2m-1 0h2m3 0h2m-1 0h2m3 0h2m0 0h2m0 0h2m-99 1h2m0 0h2m0 0h2m4 0h2m0 0h2m4 0h2m4 0h2m2 0h2m8 0h2m6 0h2m2 0h2m13 0h2m4 0h2m18 0h2m-1 0h2m-1 0h2m2 0h2m0 0h2m-87 1h2m-1 0h2m1 0h2m-1 0h2m1 0h2m9 0h2m1 0h2m8 0h2m9 0h2m5 0h2m1 0h2m-1 0h2m3 0h2m2 0h2m1 0h2m4 0h2m-1 0h2m1 0h2m2 0h2m-89 1h2m-1 0h2m-1 0h2m0 0h2m1 0h2m7 0h2m4 0h2m-1 0h2m2 0h2m10 0h2m4 0h2m6 0h2m4 0h2m2 0h2m2 0h2m2 0h2m-1 0h2m8 0h2m-1 0h2m-87 1h2m3 0h2m3 0h2m-1 0h2m-1 0h2m1 0h2m2 0h2m2 0h2m2 0h2m30 0h2m-1 0h2m-1 0h2m-1 0h2m-1 0h2m2 0h2m-1 0h2m-1 0h2m1 0h2m-1 0h2m2 0h2m3 0h2m-1 0h2m-1 0h2m-84 1h2m1 0h2m-1 0h2m1 0h2m-1 0h2m4 0h2m7 0h2m4 0h2m0 0h2m7 0h2m1 0h2m4 0h2m4 0h2m-1 0h2m5 0h2m2 0h2m0 0h2m0 0h2m-1 0h2m0 0h2m2 0h2m1 0h2m-83 1h2m1 0h2m9 0h2m2 0h2m1 0h2m1 0h2m0 0h2m9 0h2m12 0h2m14 0h2m-1 0h2m-1 0h2m-1 0h2m-1 0h2m-71 1h2m-1 0h2m3 0h2m-1 0h2m-1 0h2m3 0h2m4 0h2m5 0h2m7 0h2m1 0h2m-1 0h2m2 0h2m-1 0h2m0 0h2m-1 0h2m4 0h2m-1 0h2m4 0h2m0 0h2m-1 0h2m0 0h2m3 0h2m0 0h2m-68 1h2m2 0h2m-1 0h2m0 0h2m5 0h2m7 0h2m5 0h2m2 0h2m-1 0h2m0 0h2m1 0h2m1 0h2m2 0h2m2 0h2m-1 0h2m-1 0h2m2 0h2m0 0h2m-1 0h2m-64 1h2m0 0h2m4 0h2m1 0h2m5 0h2m-1 0h2m5 0h2m1 0h2m0 0h2m0 0h2m1 0h2m4 0h2m-1 0h2m-1 0h2m-1 0h2m6 0h2m1 0h2m2 0h2m-1 0h2m-1 0h2m-60 1h2m-1 0h2m-1 0h2m5 0h2m2 0h2m-1 0h2m5 0h2m0 0h2m1 0h2m10 0h2m3 0h2m-1 0h2m-1 0h2m2 0h2m1 0h2m5 0h2m-60 1h2m20 0h2m-1 0h2m1 0h2m20 0h2m-1 0h2m-1 0h2m0 0h2m-1 0h2m-5 1h2" stroke="#333" stroke-width="1.8" fill="none"/>
<path d="M307 168h6v59h-6zM307 219.5h30v7.5h-30zM404 219.5h33v7.5h-33z" fill="#000"/><path d="M337 220.5H404M337 222.5H404M337 224.5H404" stroke="#000" stroke-width="0.8"/>
<path d="M409.0 224C408.5 200 408.5 186 411.0 178.0C414.0 171.0 427.0 171.0 430.0 178.0C432.5 186 432.5 200 432.0 224M410.3 224C409.8 200 409.8 186 412.3 179.2C415.3 172.2 425.7 172.2 428.7 179.2C431.2 186 431.2 200 430.7 224M411.6 224C411.1 200 411.1 186 413.6 180.4C416.6 173.4 424.4 173.4 427.4 180.4C429.9 186 429.9 200 429.4 224M412.9 224C412.4 200 412.4 186 414.9 181.6C417.9 174.6 423.1 174.6 426.1 181.6C428.6 186 428.6 200 428.1 224M407.7 224C407.2 200 407.2 186 409.7 176.8C412.7 169.8 428.3 169.8 431.3 176.8C433.8 186 433.8 200 433.3 224" stroke="#000" stroke-width="1.1" fill="none"/>
<path transform="scale(0.5)" d="M619 345h2m3 0h2m-7 4h2m-4 1h2m-3 24h2m4 3h2m-2 5h2m0 2h2m-8 1h2m0 2h2m-7 1h2m4 4h2m1 7h2m-7 1h2m4 6h2m-9 2h2m-1 0h2m-6 2h2m-1 2h2m0 0h2m-3 2h2m0 13h2m3 1h2m-11 3h2m0 0h2m1 9h2m14 0h2m3 0h2m12 0h2m199 0h2m1 0h2m-246 1h2m50 0h2m173 0h2m0 0h2m24 0h2m-222 1h2m3 0h2m172 0h2m22 0h2m-46 1h2m0 0h2m27 0h2m22 0h2m-248 1h2m0 0h2m1 0h2m12 0h2m18 0h2m202 0h2m-50 1h2m-1 0h2m-174 1h2m4 0h2m12 0h2m207 0h2m-227 1h2m3 0h2m177 0h2m-215 1h2m1 0h2m31 0h2m2 0h2m4 0h2m153 0h2m-205 1h2m2 0h2m230 0h2m-216 1h2m6 0h2m-31 1h2m45 0h2m163 0h2m10 0h2m14 0h2m-233 1h2m9 0h2m10 0h2m8 0h2m201 0h2m-229 1h2m186 0h2" stroke="#fff" stroke-width="1.6" fill="none"/>
<path transform="scale(0.25)" d="M1672 376l-2 0-2 1-2-1-2 0-1-1-1-1-1-1-1-2 0-2 0-2 0-1 0-1 0-2 1-2 1-2 1-2 1-2 2-2 0-1 1-1 1-1 1-1 1-1 2-1 2-2 1 0 1-1 2 0 2 0 2 0 2 1 2 1 0 1 1 2 1 2 0 2 0 2-1 2 0 2-1 2-1 2-1 2-1 2-1 1-1 1-1 1-1 1-1 1-1 1-1 1-2 1-2 1" stroke="#000" stroke-width="3.4" fill="none"/>
<path transform="scale(0.5)" d="M848 147h2m3 0h2m-6 2h2m0 0h2m1 0h2m1 0h2m-21 1h2m11 0h2m-10 1h2m4 0h2m-15 1h2m3 0h2m-1 0h2m8 0h2m5 0h2m-1 0h2m-28 1h2m1 0h2m14 0h2m7 0h2m2 0h2m-36 1h2m13 0h2m15 0h2m-36 1h2m11 0h2m1 0h2m2 0h2m1 0h2m16 0h2m-31 1h2m10 0h2m-25 1h2m10 0h2m0 0h2m-1 0h2m1 0h2m0 0h2m-10 1h2m2 0h2m0 0h2m8 0h2m-37 1h2m8 0h2m-1 0h2m2 0h2m1 0h2m-1 0h2m0 0h2m-1 0h2m6 0h2m-1 0h2m-20 1h2m8 0h2m6 0h2m4 0h2m-40 1h2m11 0h2m1 0h2m-1 0h2m-1 0h2m2 0h2m2 0h2m-1 0h2m3 0h2m-27 1h2m7 0h2m2 0h2m-1 0h2m-1 0h2m-1 0h2m2 0h2m2 0h2m-29 1h2m7 0h2m3 0h2m1 0h2m-1 0h2m-1 0h2m11 0h2m-40 1h2m9 0h2m8 0h2m-1 0h2m1 0h2m0 0h2m7 0h2m-24 1h2m6 0h2m0 0h2m0 0h2m1 0h2m0 0h2m10 0h2m-46 1h2m5 0h2m1 0h2m0 0h2m-1 0h2m1 0h2m0 0h2m0 0h2m0 0h2m2 0h2m-1 0h2m-21 1h2m3 0h2m1 0h2m6 0h2m2 0h2m5 0h2m-29 1h2m0 0h2m0 0h2m-1 0h2m1 0h2m1 0h2m-1 0h2m-1 0h2m-1 0h2m1 0h2m6 0h2m-1 0h2m1 0h2m1 0h2m-39 1h2m2 0h2m0 0h2m2 0h2m2 0h2m-1 0h2m0 0h2m4 0h2m0 0h2m-1 0h2m-1 0h2m-1 0h2m4 0h2m8 0h2m-57 1h2m11 0h2m2 0h2m-1 0h2m-1 0h2m2 0h2m2 0h2m1 0h2m6 0h2m2 0h2m3 0h2m-1 0h2m-48 1h2m8 0h2m3 0h2m2 0h2m4 0h2m-1 0h2m0 0h2m2 0h2m-1 0h2m3 0h2m1 0h2m6 0h2m-48 1h2m2 0h2m0 0h2m-1 0h2m-1 0h2m0 0h2m1 0h2m-1 0h2m-1 0h2m-1 0h2m6 0h2m-1 0h2m5 0h2m-1 0h2m8 0h2m-45 1h2m6 0h2m-1 0h2m5 0h2m-1 0h2m7 0h2m1 0h2m-1 0h2m1 0h2m8 0h2m-34 1h2m-1 0h2m1 0h2m-1 0h2m9 0h2m-28 1h2m1 0h2m1 0h2m-1 0h2m-1 0h2m0 0h2m1 0h2m-1 0h2m9 0h2m-1 0h2m-1 0h2m0 0h2m-1 0h2m1 0h2m-38 1h2m0 0h2m11 0h2m-1 0h2m15 0h2m-1 0h2m1 0h2m-46 1h2m4 0h2m1 0h2m1 0h2m2 0h2m2 0h2m14 0h2m-1 0h2m-1 0h2m0 0h2m1 0h2m15 0h2m-44 1h2m-1 0h2m14 0h2m7 0h2m0 0h2m2 0h2m-1 0h2m-1 0h2m-38 1h2m2 0h2m13 0h2m0 0h2m3 0h2m-1 0h2m1 0h2m-33 1h2m-1 0h2m-1 0h2m22 0h2m-1 0h2m2 0h2m-32 1h2m1 0h2m-1 0h2m-1 0h2m11 0h2m5 0h2m1 0h2m-31 1h2m-1 0h2m1 0h2m13 0h2m1 0h2m1 0h2m-36 1h2m5 0h2m-1 0h2m22 0h2m1 0h2m5 0h2m-40 1h2m-1 0h2m31 0h2m-31 1h2m0 0h2m15 0h2m7 0h2m-39 1h2m1 0h2m-1 0h2m3 0h2m0 0h2m0 0h2m10 0h2m-1 0h2m7 0h2m-1 0h2m1 0h2m1 0h2m-42 1h2m21 0h2m0 0h2m0 0h2m-27 1h2m-1 0h2m-1 0h2m7 0h2m0 0h2m0 0h2m4 0h2m1 0h2m-24 1h2m-1 0h2m-1 0h2m0 0h2m0 0h2m0 0h2m3 0h2m0 0h2m0 0h2m0 0h2m-1 0h2m13 0h2m1 0h2m-44 1h2m8 0h2m0 0h2m-1 0h2m-1 0h2m-1 0h2m-1 0h2m1 0h2m-1 0h2m1 0h2m-1 0h2m-1 0h2m0 0h2m2 0h2m0 0h2m-1 0h2m1 0h2m-32 1h2m5 0h2m1 0h2m0 0h2m0 0h2m0 0h2m1 0h2m15 0h2m-64 1h2m13 0h2m5 0h2m1 0h2m2 0h2m1 0h2m-1 0h2m1 0h2m5 0h2m2 0h2m7 0h2m2 0h2m-41 1h2m4 0h2m-1 0h2m-1 0h2m2 0h2m-1 0h2m1 0h2m-1 0h2m4 0h2m3 0h2m-36 1h2m6 0h2m-1 0h2m3 0h2m-1 0h2m4 0h2m3 0h2m1 0h2m0 0h2m6 0h2m2 0h2m-47 1h2m3 0h2m8 0h2m-1 0h2m1 0h2m3 0h2m1 0h2m7 0h2m4 0h2m-45 1h2m4 0h2m3 0h2m-1 0h2m-1 0h2m6 0h2m2 0h2m-1 0h2m1 0h2m11 0h2m4 0h2m-31 1h2m0 0h2m2 0h2m-1 0h2m3 0h2m8 0h2m-34 1h2m3 0h2m0 0h2m2 0h2m1 0h2m0 0h2m-21 1h2m5 0h2m-1 0h2m2 0h2m4 0h2m4 0h2m8 0h2m-39 1h2m-1 0h2m1 0h2m-1 0h2m-1 0h2m15 0h2m2 0h2m0 0h2m2 0h2m2 0h2m-50 1h2m10 0h2m4 0h2m4 0h2m0 0h2m-1 0h2m-1 0h2m1 0h2m-1 0h2m0 0h2m-1 0h2m-14 1h2m5 0h2m2 0h2m-1 0h2m-41 1h2m9 0h2m-1 0h2m8 0h2m0 0h2m1 0h2m5 0h2m-1 0h2m1 0h2m-20 1h2m4 0h2m-1 0h2m0 0h2m0 0h2m-1 0h2m2 0h2m0 0h2m0 0h2m2 0h2m-36 1h2m7 0h2m11 0h2m0 0h2m0 0h2m-12 1h2m12 0h2m10 0h2m-36 1h2m1 0h2m5 0h2m3 0h2m-13 1h2m8 0h2m0 0h2m0 0h2m-8 1h2m11 0h2m-34 1h2m14 1h2m4 0h2m4 0h2m-35 1h2m2 0h2m5 0h2m4 1h2m-1 0h2m-21 1h2m10 0h2m-1 0h2m1 0h2m8 0h2m6 1h2m-32 1h2m28 0h2m-37 1h2m21 0h2m6 3h2m-20 1h2m0 7h2" stroke="#333" stroke-width="1.8" fill="none"/>
<path transform="scale(0.5)" d="M357 320h2m12 5h2m-16 1h2m12 0h2m-5 2h2m-3 2h2m12 0h2m-27 2h2m1 4h2m19 3h2m-23 3h2m2 3h2m-1 4h2m-3 1h2m-5 1h2m-4 3h2m1 1h2m-2 3h2m9 1h2m-11 5h2m2 0h2m-11 9h2m5 0h2m-10 11h2m-3 1h2m7 2h2m-10 2h2m-1 4h2m0 1h2m3 2h2m-10 1h2m9 7h2m-10 8h2m-3 1h2m5 2h2m-4 10h2m3 2h2m-14 4h2m0 1h2" stroke="#333" stroke-width="1.8" fill="none"/>
<path transform="scale(0.5)" d="M874 334h2m19 0h2m-22 4h2m-3 7h2m8 1h2m-10 4h2m2 3h2m3 3h2m-7 1h2m-9 6h2m19 3h2m-17 2h2m3 7h2m-7 9h2m2 0h2m-4 5h2m-3 14h2m-3 6h2m-8 2h2m0 1h2m-1 7h2m7 3h2m-4 2h2m9 3h2m-23 5h2" stroke="#333" stroke-width="1.8" fill="none"/>
<path transform="scale(0.5)" d="M824 362h2m36 1h2m-1 3h2m-9 1h2m3 0h2m-2 1h2m-7 1h2m-2 1h2m-3 3h2m-43 1h2m47 2h2m-50 1h2m4 1h2m-2 2h2m-7 2h2m6 0h2m31 4h2m-4 1h2m5 1h2m-45 3h2m-7 2h2m4 0h2m33 0h2m-36 2h2m0 0h2m29 2h2m-40 2h2m-1 2h2m5 5h2m-4 6h2m1 0h2m-10 4h2m41 0h2m2 0h2m-9 2h2m6 0h2m-52 1h2m7 2h2m29 0h2m4 0h2m-6 2h2m-38 4h2m38 0h2m-40 1h2" stroke="#fff" stroke-width="1.6" fill="none"/>
<ellipse cx="417.5" cy="88.5" rx="2.6" ry="4.2" transform="rotate(30 417.5 88.5)" fill="#000"/><circle cx="418" cy="88" r="0.8" fill="#fff"/>
<path transform="scale(0.25)" d="M380 1944l-2 0-2 0-2 0-2 0-2 0-2 1-2 0-2 0-2 0-2 0-2 0-2 0-2 0-2 0-2 0-2 0-2 0-2 0-2 0-2 0-2 0-2 0-2 0-2 0-2 0-2 0-2 0-2 0-2 0-2 0-2 0-2 0-2 0-2 0-2 0-2 0-2 0-2 0-2 0-2 0-2 0-2 0-2 0-2 0-2 0-2 0-2 0-2 0-2 0-2 0-2 0-2 0-2 0-2 0-2 0-2-1-2 0-1 0 0-2 0-2 0-2 1-2 1-2 1-2 1-2 0-2-1-2-1-2-1-2-1-2 0-2 0-2 0-2 1-2 0-2 0-2-1-2-1-2 0-1 0-1-1-2 0-2 0-2 0-2 0-2 0-2 0-2-1-2 0-2 0-2 0-1 0-1-1-2 0-2-1-2 0-1 0-1 0-2-1-2 1-2 0-2 0-2 1-2 1-1 0-1 2-2 2-2 1-2 1-2 1-2 0-2 0-2 0-2 0-2-1-2 0-2 0-2-1-2 1-2 0-1 0-1 2-2 2-2 2-2 2-2 1 0 1-1 2-1 1 0 1 0 2-1 2 0 2-1 2-1 2 0 1-1 1 0 2-1 1-1 1 0 2-1 1-1 1 0 2-1 2 0 2 0 2 0 2 0 2 0 2 0 2 0 2-1 2 0 2 1 2 0 2 0 2 1 1 0 1 0 2 0 2 0 2 0 2 0 1 0 1 0 2 0 2 0 2 0 1 0 1 0 2 1 2 1 2 1 2 1 2 1 2 1 2 1 1 1 1 1 1 1 1 1 1 1 1 1 1 1 1 1 1 1 1 1 1 1 1 1 1 1 1 2 1 2 0 2 1 2 0 2 0 1 0 1 1 2 0 2 1 2 0 1 0 1 1 2 0 2 0 2 0 2 0 2 0 2 0 2 0 2 0 2 0 2 0 2 0 2 0 2 0 2 0 2 0 2 0 2 0 2 0 2 0 2 0 2 0 2 0 2 0 2 0 2 0 2 0 2 0 2-1 2-1 2-1 2-1 2-1 2 0 2-1 2 0 2 0 2 1 2 1 2 1 1 1 1 1 2 1 2 0 2 0 2-1 2 0 1 0 1-1 2-1 0z" fill="#1a1a1a"/>
<path transform="scale(0.5)" d="M122 606h2m79 5h2m-12 3h2m12 12h2m-10 22h2m137 1h2m-191 16h2m42 26h2m-15 8h2m140 2h2m-36 1h2m5 0h2m-100 4h2m161 0h2m10 5h2m32 0h2m-87 3h2m7 0h2m37 1h2m-179 3h2m22 0h2m134 0h2m8 0h2m-173 1h2m64 1h2m-69 1h2m112 0h2m15 0h2m10 0h2m2 0h2m2 0h2m1 0h2m11 0h2m-30 1h2m22 0h2m-119 1h2m59 0h2m41 0h2m-177 1h2m82 0h2m-1 0h2m31 0h2m23 0h2m13 0h2m1 0h2m28 0h2m-142 1h2m121 0h2m-81 1h2m6 0h2m15 0h2m25 0h2m24 0h2m-128 1h2m63 0h2m47 0h2m-157 1h2m18 0h2m34 0h2m12 0h2m27 0h2m38 0h2m1 0h2m0 0h2m5 0h2m12 0h2m0 0h2m-169 1h2m0 0h2m86 0h2m13 0h2m-59 1h2m5 0h2m0 0h2m71 0h2m13 0h2m6 0h2m-1 0h2m3 0h2m6 0h2m-189 1h2m-1 0h2m51 0h2m51 0h2m61 0h2m6 0h2m-1 0h2m26 0h2m4 0h2m-181 1h2m57 0h2m43 0h2m32 0h2m5 0h2m11 0h2m3 0h2m-169 1h2m107 0h2m5 0h2m-127 1h2m4 0h2m4 0h2m56 0h2m27 0h2m16 0h2m32 0h2m48 0h2m-224 1h2m69 0h2m47 0h2m25 0h2m13 0h2m24 0h2m44 0h2m-210 1h2m32 0h2m81 0h2m4 0h2m43 0h2m21 0h2m-148 1h2m27 0h2m1 0h2m11 0h2m11 0h2m4 0h2m7 0h2m1 0h2m9 0h2m2 0h2m22 0h2m7 0h2m-157 1h2m28 0h2m32 0h2m15 0h2m19 0h2m8 0h2m6 0h2m16 0h2m-192 1h2m13 0h2m3 0h2m0 0h2m39 0h2m9 0h2m53 0h2m4 0h2m27 0h2m5 0h2m9 0h2m11 0h2m11 0h2m2 0h2m-199 1h2m19 0h2m16 0h2m5 0h2m10 0h2m24 0h2m8 0h2m19 0h2m16 0h2m4 0h2m43 0h2m4 0h2m10 0h2m1 0h2m-1 0h2m15 0h2m-174 1h2m27 0h2m17 0h2m33 0h2m13 0h2m15 0h2m-1 0h2m1 0h2m-1 0h2m0 0h2m-1 0h2m9 0h2m20 0h2m-201 1h2m38 0h2m67 0h2m8 0h2m23 0h2m5 0h2m11 0h2m-1 0h2m14 0h2m6 0h2m9 0h2m-1 0h2m1 0h2m-204 1h2m0 0h2m4 0h2m44 0h2m41 0h2m12 0h2m32 0h2m9 0h2m5 0h2m6 0h2m45 0h2m-241 1h2m67 0h2m97 0h2m20 0h2m0 0h2m7 0h2m1 0h2m4 0h2m13 0h2m13 0h2m-249 1h2m24 0h2m27 0h2m-1 0h2m0 0h2m9 0h2m2 0h2m48 0h2m10 0h2m6 0h2m33 0h2m3 0h2m12 0h2m2 0h2m2 0h2m14 0h2m5 0h2m-151 1h2m7 0h2m13 0h2m4 0h2m1 0h2m2 0h2m30 0h2m5 0h2m24 0h2m5 0h2m-178 1h2m0 0h2m5 0h2m8 0h2m2 0h2m0 0h2m12 0h2m24 0h2m32 0h2m41 0h2m10 0h2m0 0h2m0 0h2m10 0h2m7 0h2m9 0h2m0 0h2m-1 0h2m3 0h2m27 0h2m2 0h2m13 0h2m-232 1h2m0 0h2m-1 0h2m17 0h2m9 0h2m12 0h2m0 0h2m5 0h2m51 0h2m28 0h2m4 0h2m-1 0h2m0 0h2m-1 0h2m9 0h2m18 0h2m16 0h2m16 0h2m-225 1h2m-1 0h2m4 0h2m4 0h2m1 0h2m14 0h2m56 0h2m5 0h2m49 0h2m0 0h2m2 0h2m11 0h2m12 0h2m1 0h2m4 0h2m5 0h2m27 0h2m-202 1h2m18 0h2m62 0h2m22 0h2m3 0h2m13 0h2m18 0h2m6 0h2m-1 0h2m-194 1h2m5 0h2m20 0h2m21 0h2m21 0h2m20 0h2m1 0h2m27 0h2m14 0h2m0 0h2m11 0h2m14 0h2m3 0h2m6 0h2m17 0h2m0 0h2m14 0h2m-230 1h2m6 0h2m2 0h2m-1 0h2m3 0h2m70 0h2m9 0h2m23 0h2m11 0h2m6 0h2m2 0h2m8 0h2m5 0h2m1 0h2m10 0h2m5 0h2m0 0h2m2 0h2m0 0h2m19 0h2m-220 1h2m1 0h2m3 0h2m29 0h2m11 0h2m57 0h2m20 0h2m4 0h2m20 0h2m-1 0h2m3 0h2m4 0h2m23 0h2m-1 0h2m6 0h2m7 0h2m-1 0h2m-199 1h2m9 0h2m0 0h2m0 0h2m0 0h2m36 0h2m20 0h2m5 0h2m-1 0h2m6 0h2m66 0h2m2 0h2m0 0h2m-1 0h2m6 0h2m0 0h2m20 0h2m3 0h2m-229 1h2m5 0h2m6 0h2m34 0h2m33 0h2m53 0h2m9 0h2m3 0h2m9 0h2m-1 0h2m3 0h2m-1 0h2m-1 0h2m3 0h2m0 0h2m30 0h2m-1 0h2m19 0h2m-231 1h2m8 0h2m7 0h2m9 0h2m14 0h2m17 0h2m87 0h2m1 0h2m-1 0h2m0 0h2m15 0h2m31 0h2m-239 1h2m23 0h2m0 0h2m3 0h2m13 0h2m0 0h2m0 0h2m19 0h2m25 0h2m46 0h2m9 0h2m6 0h2m7 0h2m0 0h2m2 0h2m-1 0h2m3 0h2m26 0h2m-192 1h2m35 0h2m53 0h2m35 0h2m4 0h2m17 0h2m3 0h2m2 0h2m0 0h2m-1 0h2m13 0h2m9 0h2m0 0h2m-220 1h2m-1 0h2m4 0h2m12 0h2m42 0h2m11 0h2m0 0h2m28 0h2m12 0h2m28 0h2m15 0h2m-1 0h2m7 0h2m3 0h2m7 0h2m0 0h2m6 0h2m-203 1h2m15 0h2m8 0h2m-1 0h2m28 0h2m24 0h2m-1 0h2m73 0h2m7 0h2m23 0h2m11 0h2m9 0h2m7 0h2m5 0h2m-214 1h2m33 0h2m5 0h2m2 0h2m34 0h2m54 0h2m12 0h2m0 0h2m5 0h2m0 0h2m3 0h2m21 0h2m-223 1h2m35 0h2m10 0h2m2 0h2m25 0h2m6 0h2m75 0h2m25 0h2m11 0h2m42 0h2m-211 1h2m2 0h2m4 0h2m8 0h2m6 0h2m58 0h2m21 0h2m-1 0h2m9 0h2m9 0h2m1 0h2m0 0h2m8 0h2m2 0h2m13 0h2m-1 0h2m-1 0h2m3 0h2m3 0h2m6 0h2m-172 1h2m20 0h2m29 0h2m24 0h2m12 0h2m9 0h2m-1 0h2m9 0h2m5 0h2m2 0h2m2 0h2m0 0h2m8 0h2m6 0h2m-1 0h2m0 0h2m19 0h2m3 0h2m-236 1h2m9 0h2m32 0h2m12 0h2m-1 0h2m16 0h2m25 0h2m42 0h2m19 0h2m2 0h2m4 0h2m0 0h2m16 0h2m6 0h2m5 0h2m-183 1h2m3 0h2m18 0h2m-1 0h2m17 0h2m77 0h2m9 0h2m7 0h2m3 0h2m14 0h2m-1 0h2m-1 0h2m2 0h2m2 0h2m9 0h2m16 0h2m33 0h2m-272 1h2m31 0h2m20 0h2m11 0h2m-1 0h2m15 0h2m2 0h2m28 0h2m-1 0h2m8 0h2m42 0h2m29 0h2m5 0h2m10 0h2m5 0h2m-221 1h2m4 0h2m1 0h2m38 0h2m11 0h2m1 0h2m10 0h2m1 0h2m2 0h2m1 0h2m32 0h2m26 0h2m7 0h2m11 0h2m1 0h2m12 0h2m37 0h2m-168 1h2m35 0h2m14 0h2m34 0h2m14 0h2m6 0h2m2 0h2m4 0h2m17 0h2m1 0h2m2 0h2m-230 1h2m35 0h2m7 0h2m9 0h2m10 0h2m61 0h2m0 0h2m23 0h2m34 0h2m-1 0h2m2 0h2m5 0h2m3 0h2m10 0h2m-197 1h2m8 0h2m131 0h2m0 0h2m1 0h2m1 0h2m11 0h2m1 0h2m-176 1h2m14 0h2m9 0h2m8 0h2m1 0h2m64 0h2m37 0h2m10 0h2m8 0h2m5 0h2m10 0h2m-1 0h2m1 0h2m-189 1h2m48 0h2m39 0h2m77 0h2m4 0h2m-198 1h2m10 0h2m14 0h2m0 0h2m19 0h2m7 0h2m15 0h2m70 0h2m13 0h2m8 0h2m13 0h2m-134 1h2m-1 0h2m104 0h2m35 0h2m26 0h2m16 0h2m0 0h2m7 0h2m-240 1h2m1 0h2m2 0h2m6 0h2m32 0h2m12 0h2m1 0h2m29 0h2m17 0h2m-1 0h2m60 0h2m14 0h2m-196 1h2m37 0h2m0 0h2m48 0h2m45 0h2m28 0h2m0 0h2m8 0h2m4 0h2m49 0h2m-264 1h2m23 0h2m11 0h2m102 0h2m19 0h2m31 0h2m18 0h2m20 0h2m-221 1h2m27 0h2m3 0h2m50 0h2m45 0h2m29 0h2m31 0h2m24 0h2m-233 1h2m17 0h2m37 0h2m21 0h2m80 0h2m23 0h2m3 0h2m10 0h2m2 0h2m-167 1h2m-1 0h2m41 0h2m-1 0h2m72 0h2m30 0h2m5 0h2m1 0h2m-187 1h2m7 0h2m0 0h2m36 0h2m46 0h2m0 0h2m14 0h2m9 0h2m56 0h2m2 0h2m-184 1h2m3 0h2m29 0h2m4 0h2m-29 1h2m33 0h2m6 0h2m26 0h2m3 0h2m27 0h2m6 0h2m11 0h2m38 0h2m1 0h2m15 0h2m-237 1h2m34 0h2m119 0h2m51 0h2m3 0h2m-192 1h2m1 0h2m26 0h2m7 0h2m4 0h2m18 0h2m83 0h2m8 0h2m-101 1h2m16 0h2m26 0h2m31 0h2m21 0h2m10 0h2m-125 1h2m8 0h2m8 0h2m27 0h2m52 0h2m15 0h2m24 0h2m19 0h2m-192 1h2m5 0h2m19 0h2m20 0h2m37 0h2m-1 0h2m8 0h2m2 0h2m32 0h2m58 0h2m16 0h2m-183 1h2m1 0h2m46 0h2m37 0h2m23 0h2m-177 1h2m149 0h2m-188 1h2m163 0h2m-51 1h2m39 0h2m7 0h2m46 0h2m29 0h2m-233 1h2m41 0h2m174 0h2m-113 1h2m43 0h2m73 0h2m5 0h2m-109 1h2m7 0h2m18 0h2m10 0h2m10 0h2m72 0h2m-176 1h2m28 0h2m-30 2h2m205 0h2m-138 1h2m24 0h2m5 0h2m6 0h2m14 0h2m23 0h2m-208 1h2m29 0h2m5 0h2m98 0h2m1 0h2m-74 1h2m-6 1h2m14 0h2m-21 1h2m195 0h2m-253 1h2m78 0h2m67 1h2m-175 1h2m260 0h2m-196 1h2m86 0h2m-14 1h2m48 0h2m-131 1h2m21 1h2m109 2h2m-213 1h2m156 0h2m15 0h2m32 1h2m-152 3h2m-44 3h2m170 0h2m47 2h2m-177 2h2m-29 1h2m115 1h2m-41 2h2m-66 2h2m75 0h2m16 2h2m6 4h2m54 0h2m-181 1h2m93 1h2m-126 2h2m146 0h2m-99 3h2m-30 1h2m38 0h2m130 0h2m-229 2h2m33 1h2m6 0h2m-41 1h2m-4 2h2m29 0h2m14 1h2m85 0h2m-87 1h2m-60 3h2m16 0h2m25 0h2m59 0h2m-86 1h2m7 0h2m-12 1h2m56 0h2m-41 1h2m6 0h2m-1 0h2m15 0h2m-68 2h2m60 1h2m-20 1h2m43 0h2m-8 1h2m-67 1h2m20 0h2m10 0h2m4 0h2m20 0h2m23 0h2m-93 1h2m34 0h2m2 0h2m155 0h2m-176 1h2m32 0h2m9 0h2m-59 1h2m19 0h2m40 0h2m-66 1h2m28 0h2m29 0h2m-20 1h2m4 0h2m34 0h2m-60 1h2m15 0h2m-58 1h2m4 0h2m27 0h2m2 0h2m9 0h2m7 0h2m3 0h2m15 0h2m-65 1h2m19 0h2m13 0h2m5 0h2m13 0h2m-20 1h2m-63 1h2m28 0h2m6 0h2m9 0h2m9 0h2m-31 1h2m1 0h2m8 0h2m2 0h2m2 0h2m2 0h2m-1 0h2m-27 1h2m26 0h2m11 0h2m6 0h2m-58 1h2m12 0h2m9 0h2m0 0h2m3 0h2m12 0h2m4 0h2m11 0h2m-90 1h2m1 0h2m24 0h2m-1 0h2m10 0h2m2 0h2m-1 0h2m2 0h2m1 0h2m-1 0h2m5 0h2m3 0h2m0 0h2m5 0h2m13 0h2m-30 1h2m-60 1h2m25 0h2m7 0h2m4 0h2m2 0h2m1 0h2m1 0h2m0 0h2m225 0h2m-282 1h2m21 0h2m-1 0h2m2 0h2m17 0h2m23 0h2m1 0h2m-94 1h2m25 0h2m5 0h2m6 0h2m24 0h2m10 0h2m2 0h2m-69 1h2m28 0h2m-1 0h2m19 0h2m0 0h2m5 0h2m-1 0h2m-76 1h2m24 0h2m13 0h2m-1 0h2m0 0h2m7 0h2m12 0h2m26 0h2m-1 0h2m-72 1h2m2 0h2m3 0h2m2 0h2m4 0h2m1 0h2m2 0h2m6 0h2m6 0h2m3 0h2m2 0h2m190 0h2m-249 1h2m15 0h2m7 0h2m7 0h2m5 0h2m3 0h2m0 0h2m8 0h2m-64 1h2m-1 0h2m3 0h2m0 0h2m2 0h2m4 0h2m0 0h2m2 0h2m2 0h2m2 0h2m5 0h2m4 0h2m9 0h2m2 0h2m-1 0h2m8 0h2m-69 1h2m2 0h2m0 0h2m0 0h2m15 0h2m0 0h2m18 0h2m7 0h2m3 0h2m1 0h2m109 0h2m-190 1h2m12 0h2m16 0h2m2 0h2m8 0h2m-1 0h2m2 0h2m-1 0h2m6 0h2m-1 0h2m31 0h2m-83 1h2m4 0h2m4 0h2m18 0h2m-1 0h2m3 0h2m1 0h2m-48 1h2m0 0h2m9 0h2m-1 0h2m-1 0h2m5 0h2m-1 0h2m2 0h2m0 0h2m1 0h2m3 0h2m0 0h2m-1 0h2m18 0h2m5 0h2m9 0h2m-74 1h2m-1 0h2m4 0h2m6 0h2m1 0h2m-1 0h2m0 0h2m4 0h2m4 0h2m-1 0h2m0 0h2m8 0h2m-1 0h2m5 0h2m4 0h2m3 0h2m0 0h2m-68 1h2m10 0h2m13 0h2m4 0h2m1 0h2m1 0h2m1 0h2m1 0h2m-1 0h2m2 0h2m3 0h2m-56 1h2m6 0h2m2 0h2m-1 0h2m7 0h2m-1 0h2m-1 0h2m-1 0h2m5 0h2m2 0h2m0 0h2m0 0h2m5 0h2m-1 0h2m179 0h2m-261 1h2m10 0h2m3 0h2m9 0h2m11 0h2m2 0h2m0 0h2m6 0h2m-1 0h2m3 0h2m-1 0h2m-1 0h2m-1 0h2m0 0h2m0 0h2m-1 0h2m1 0h2m-1 0h2m8 0h2m14 0h2m-88 1h2m1 0h2m21 0h2m0 0h2m1 0h2m0 0h2m3 0h2m-1 0h2m1 0h2m-1 0h2m1 0h2m0 0h2m-1 0h2m1 0h2m3 0h2m-1 0h2m6 0h2m-1 0h2m-1 0h2m0 0h2m-1 0h2m3 0h2m-77 1h2m2 0h2m2 0h2m4 0h2m0 0h2m2 0h2m0 0h2m0 0h2m-1 0h2m0 0h2m-1 0h2m1 0h2m-1 0h2m0 0h2m0 0h2m3 0h2m-1 0h2m3 0h2m3 0h2m5 0h2m4 0h2m4 0h2m10 0h2m-94 1h2m5 0h2m1 0h2m12 0h2m2 0h2m3 0h2m0 0h2m-1 0h2m0 0h2m2 0h2m-1 0h2m0 0h2m-1 0h2m0 0h2m1 0h2m2 0h2m-1 0h2m8 0h2m3 0h2m0 0h2m1 0h2m0 0h2m-1 0h2m0 0h2m0 0h2m5 0h2m11 0h2m-100 1h2m8 0h2m6 0h2m1 0h2m-1 0h2m4 0h2m-1 0h2m-1 0h2m-1 0h2m0 0h2m1 0h2m3 0h2m0 0h2m2 0h2m5 0h2m4 0h2m0 0h2m4 0h2m0 0h2m0 0h2m2 0h2m10 0h2m-77 1h2m5 0h2m3 0h2m1 0h2m0 0h2m1 0h2m6 0h2m2 0h2m0 0h2m-1 0h2m4 0h2m-1 0h2m1 0h2m1 0h2m-1 0h2m5 0h2m3 0h2m-1 0h2m-1 0h2m-1 0h2m-1 0h2m14 0h2m7 0h2m9 0h2m-108 1h2m8 0h2m1 0h2m1 0h2m0 0h2m3 0h2m3 0h2m0 0h2m0 0h2m1 0h2m-1 0h2m1 0h2m-1 0h2m-1 0h2m2 0h2m2 0h2m1 0h2m3 0h2m0 0h2m7 0h2m10 0h2m5 0h2m85 0h2m-179 1h2m3 0h2m5 0h2m6 0h2m0 0h2m-1 0h2m-1 0h2m1 0h2m1 0h2m-1 0h2m1 0h2m-1 0h2m0 0h2m1 0h2m-1 0h2m-1 0h2m-1 0h2m-1 0h2m0 0h2m1 0h2m1 0h2m-1 0h2m0 0h2m-1 0h2m7 0h2m1 0h2m0 0h2m6 0h2m1 0h2m-86 1h2m6 0h2m2 0h2m0 0h2m-1 0h2m0 0h2m-1 0h2m1 0h2m0 0h2m1 0h2m2 0h2m-1 0h2m0 0h2m0 0h2m-1 0h2m-1 0h2m0 0h2m1 0h2m0 0h2m-1 0h2m0 0h2m-1 0h2m4 0h2m4 0h2m-1 0h2m-1 0h2m3 0h2m0 0h2m2 0h2m2 0h2m0 0h2m4 0h2m-96 1h2m7 0h2m10 0h2m0 0h2m-1 0h2m1 0h2m2 0h2m1 0h2m-1 0h2m-1 0h2m-1 0h2m-1 0h2m-1 0h2m0 0h2m0 0h2m-1 0h2m-1 0h2m0 0h2m-1 0h2m-1 0h2m-1 0h2m-1 0h2m-1 0h2m0 0h2m1 0h2m0 0h2m0 0h2m-1 0h2m-1 0h2m-1 0h2m-1 0h2m1 0h2m-1 0h2m0 0h2m1 0h2m6 0h2m0 0h2m-1 0h2m6 0h2m2 0h2m0 0h2m27 0h2m144 0h2m-277 1h2m14 0h2m6 0h2m8 0h2m1 0h2m0 0h2m1 0h2m-1 0h2m-1 0h2m-1 0h2m0 0h2m-1 0h2m-1 0h2m-1 0h2m0 0h2m-1 0h2m-1 0h2m-1 0h2m0 0h2m-1 0h2m0 0h2m2 0h2m0 0h2m-1 0h2m-1 0h2m-1 0h2m0 0h2m0 0h2m2 0h2m0 0h2m3 0h2m18 0h2m-106 1h2m15 0h2m-1 0h2m3 0h2m0 0h2m6 0h2m-1 0h2m0 0h2m1 0h2m0 0h2m-1 0h2m-1 0h2m-1 0h2m-1 0h2m-1 0h2m-1 0h2m-1 0h2m-1 0h2m-1 0h2m-1 0h2m-1 0h2m0 0h2m1 0h2m-1 0h2m-1 0h2m-1 0h2m-1 0h2m-1 0h2m-1 0h2m-1 0h2m-1 0h2m0 0h2m-1 0h2m0 0h2m0 0h2m0 0h2m0 0h2m1 0h2m-1 0h2m0 0h2m0 0h2m-78 1h2m1 0h2m2 0h2m3 0h2m0 0h2m-1 0h2m-1 0h2m-1 0h2m1 0h2m0 0h2m1 0h2m0 0h2m0 0h2m-1 0h2m-1 0h2m1 0h2m2 0h2m21 0h2m2 0h2m-1 0h2m-1 0h2m0 0h2m-1 0h2m0 0h2m3 0h2m-1 0h2m8 0h2m5 0h2m163 0h2m-255 1h2m-1 0h2m3 0h2m1 0h2m0 0h2m-1 0h2m1 0h2m1 0h2m-1 0h2m1 0h2m-1 0h2m0 0h2m-1 0h2m-1 0h2m-1 0h2m25 0h2m-1 0h2m0 0h2m0 0h2m-1 0h2m-1 0h2m0 0h2m-1 0h2m-1 0h2m2 0h2m6 0h2m-1 0h2m-94 1h2m15 0h2m2 0h2m4 0h2m0 0h2m-1 0h2m-1 0h2m-1 0h2m0 0h2m-1 0h2m-1 0h2m0 0h2m-1 0h2m28 0h2m-1 0h2m-1 0h2m-1 0h2m-1 0h2m-1 0h2m-1 0h2m0 0h2m-1 0h2m-1 0h2m-1 0h2m-1 0h2m-1 0h2m1 0h2m-1 0h2m-84 1h2m14 0h2m-1 0h2m-1 0h2m4 0h2m0 0h2m-1 0h2m-1 0h2m-1 0h2m-1 0h2m0 0h2m33 0h2m-1 0h2m-1 0h2m2 0h2m0 0h2m-1 0h2m0 0h2m0 0h2m-1 0h2m-89 1h2m10 0h2m9 0h2m0 0h2m-1 0h2m0 0h2m0 0h2m0 0h2m-1 0h2m1 0h2m37 0h2m1 0h2m0 0h2m1 0h2m0 0h2m0 0h2m-1 0h2m-1 0h2m-1 0h2m-89 1h2m7 0h2m8 0h2m3 0h2m-1 0h2m-1 0h2m-1 0h2m-1 0h2m0 0h2m-1 0h2m39 0h2m-1 0h2m2 0h2m2 0h2m-1 0h2m-1 0h2m1 0h2m1 0h2m4 0h2m7 0h2m-96 1h2m7 0h2m2 0h2m-1 0h2m-1 0h2m0 0h2m0 0h2m-1 0h2m42 0h2m-1 0h2m-1 0h2m-1 0h2m0 0h2m0 0h2m-1 0h2m0 0h2m-1 0h2m5 0h2m-72 1h2m-1 0h2m0 0h2m-1 0h2m-1 0h2m0 0h2m44 0h2m-1 0h2m0 0h2m0 0h2m0 0h2m2 0h2m-1 0h2m-92 1h2m1 0h2m6 0h2m-1 0h2m0 0h2m4 0h2m0 0h2m-1 0h2m0 0h2m1 0h2m-1 0h2m-1 0h2m-1 0h2m46 0h2m-1 0h2m-1 0h2m0 0h2m-1 0h2m-1 0h2m2 0h2m0 0h2m4 0h2m-85 1h2m-1 0h2m0 0h2m-1 0h2m-1 0h2m3 0h2m0 0h2m1 0h2m-1 0h2m-1 0h2m46 0h2m-1 0h2m-1 0h2m0 0h2m-1 0h2m-1 0h2m5 0h2m0 0h2m-90 1h2m9 0h2m-1 0h2m0 0h2m3 0h2m1 0h2m0 0h2m-1 0h2m48 0h2m-1 0h2m0 0h2m-1 0h2m1 0h2m2 0h2m4 0h2m5 0h2m-101 1h2m9 0h2m6 0h2m-1 0h2m-1 0h2m-1 0h2m-1 0h2m-1 0h2m-1 0h2m47 0h2m-1 0h2m0 0h2m-1 0h2m-1 0h2m4 0h2m3 0h2m3 0h2m7 0h2m-100 1h2m2 0h2m3 0h2m0 0h2m-1 0h2m0 0h2m-1 0h2m52 0h2m2 0h2m-1 0h2m16 0h2m-107 1h2m11 0h2m-1 0h2m2 0h2m1 0h2m-1 0h2m0 0h2m0 0h2m-1 0h2m2 0h2m-1 0h2m48 0h2m0 0h2m-1 0h2m-1 0h2m-1 0h2m-1 0h2m1 0h2m61 0h2m-158 1h2m11 0h2m13 0h2m-1 0h2m0 0h2m1 0h2m49 0h2m0 0h2m0 0h2m1 0h2m0 0h2m-1 0h2m0 0h2m-99 1h2m4 0h2m2 0h2m6 0h2m3 0h2m1 0h2m2 0h2m-1 0h2m-1 0h2m-1 0h2m50 0h2m1 0h2m1 0h2m0 0h2m-1 0h2m3 0h2m-1 0h2m7 0h2m3 0h2m-104 1h2m-1 0h2m4 0h2m-1 0h2m0 0h2m0 0h2m-1 0h2m4 0h2m-1 0h2m52 0h2m-1 0h2m0 0h2m-1 0h2m0 0h2m1 0h2m-1 0h2m0 0h2m3 0h2m-99 1h2m13 0h2m0 0h2m0 0h2m-1 0h2m4 0h2m52 0h2m-1 0h2m-1 0h2m2 0h2m1 0h2m0 0h2m3 0h2m-1 0h2m76 0h2m-182 1h2m10 0h2m13 0h2m-1 0h2m-1 0h2m-1 0h2m54 0h2m-1 0h2m-1 0h2m0 0h2m3 0h2m4 0h2m-89 1h2m10 0h2m1 0h2m55 0h2m-1 0h2m-1 0h2m-1 0h2m-1 0h2m3 0h2m-1 0h2m-1 0h2m5 0h2m-96 1h2m4 0h2m3 0h2m0 0h2m-1 0h2m-1 0h2m1 0h2m-1 0h2m-1 0h2m54 0h2m-1 0h2m0 0h2m2 0h2m0 0h2m202 0h2m-280 1h2m-1 0h2m-1 0h2m0 0h2m-1 0h2m-1 0h2m0 0h2m-1 0h2m53 0h2m-1 0h2m0 0h2m2 0h2m4 0h2m2 0h2m0 0h2m-106 1h2m4 0h2m6 0h2m4 0h2m0 0h2m-1 0h2m0 0h2m-1 0h2m-1 0h2m-1 0h2m-1 0h2m54 0h2m-1 0h2m-1 0h2m-1 0h2m-1 0h2m0 0h2m0 0h2m-1 0h2m1 0h2m1 0h2m7 0h2m5 0h2m-103 1h2m1 0h2m3 0h2m0 0h2m-1 0h2m0 0h2m-1 0h2m56 0h2m-1 0h2m0 0h2m-1 0h2m-1 0h2m-1 0h2m0 0h2m2 0h2m-98 1h2m-1 0h2m8 0h2m-1 0h2m5 0h2m0 0h2m60 0h2m0 0h2m-1 0h2m0 0h2m-1 0h2m-1 0h2m204 0h2m-302 1h2m2 0h2m-1 0h2m-1 0h2m7 0h2m-1 0h2m1 0h2m2 0h2m1 0h2m-1 0h2m-1 0h2m-1 0h2m57 0h2m0 0h2m3 0h2m1 0h2m-1 0h2m1 0h2m-100 1h2m0 0h2m12 0h2m3 0h2m-1 0h2m0 0h2m-1 0h2m56 0h2m0 0h2m-1 0h2m-1 0h2m0 0h2m4 0h2m-85 1h2m4 0h2m-1 0h2m0 0h2m-1 0h2m-1 0h2m-1 0h2m-1 0h2m56 0h2m-1 0h2m1 0h2m0 0h2m-1 0h2m-1 0h2m3 0h2m24 0h2m-119 1h2m6 0h2m1 0h2m0 0h2m1 0h2m-1 0h2m-1 0h2m-1 0h2m-1 0h2m56 0h2m-1 0h2m-1 0h2m-1 0h2m3 0h2m0 0h2m6 0h2m3 0h2m11 0h2m-125 1h2m2 0h2m5 0h2m4 0h2m5 0h2m61 0h2m-1 0h2m0 0h2m-1 0h2m3 0h2m1 0h2m10 0h2m0 0h2m38 0h2m-155 1h2m9 0h2m0 0h2m3 0h2m4 0h2m0 0h2m-1 0h2m0 0h2m-1 0h2m56 0h2m6 0h2m-1 0h2m-1 0h2m3 0h2m-105 1h2m18 0h2m1 0h2m1 0h2m-1 0h2m-1 0h2m0 0h2m57 0h2m-1 0h2m-1 0h2m0 0h2m-1 0h2m6 0h2m-1 0h2m-86 1h2m1 0h2m5 0h2m-1 0h2m55 0h2m0 0h2m0 0h2m-1 0h2m-1 0h2m-1 0h2m1 0h2m0 0h2m-93 1h2m9 0h2m3 0h2m-1 0h2m-1 0h2m-1 0h2m-1 0h2m0 0h2m-1 0h2m53 0h2m1 0h2m0 0h2m-1 0h2m1 0h2m4 0h2m-87 1h2m3 0h2m-1 0h2m0 0h2m0 0h2m-1 0h2m1 0h2m55 0h2m0 0h2m1 0h2m2 0h2m0 0h2m9 0h2m-1 0h2m185 0h2m-282 1h2m3 0h2m1 0h2m1 0h2m-1 0h2m0 0h2m54 0h2m-1 0h2m-1 0h2m10 0h2m3 0h2m0 0h2m131 0h2m-225 1h2m0 0h2m-1 0h2m-1 0h2m0 0h2m-1 0h2m0 0h2m-1 0h2m-1 0h2m-1 0h2m56 0h2m-1 0h2m1 0h2m-1 0h2m0 0h2m1 0h2m1 0h2m7 0h2m5 0h2m-105 1h2m0 0h2m2 0h2m-1 0h2m3 0h2m2 0h2m55 0h2m0 0h2m-1 0h2m-1 0h2m-1 0h2m-1 0h2m8 0h2m-93 1h2m3 0h2m-1 0h2m0 0h2m4 0h2m1 0h2m-1 0h2m55 0h2m-1 0h2m2 0h2m-1 0h2m0 0h2m-1 0h2m2 0h2m-94 1h2m9 0h2m1 0h2m-1 0h2m0 0h2m3 0h2m55 0h2m0 0h2m3 0h2m-1 0h2m0 0h2m1 0h2m15 0h2m-112 1h2m0 0h2m0 0h2m2 0h2m-1 0h2m1 0h2m2 0h2m-1 0h2m2 0h2m-1 0h2m-1 0h2m55 0h2m-1 0h2m-1 0h2m-1 0h2m1 0h2m-1 0h2m0 0h2m-1 0h2m5 0h2m-97 1h2m8 0h2m-1 0h2m-1 0h2m1 0h2m-1 0h2m0 0h2m-1 0h2m-1 0h2m-1 0h2m-1 0h2m62 0h2m-1 0h2m-84 1h2m5 0h2m0 0h2m-1 0h2m0 0h2m2 0h2m54 0h2m1 0h2m2 0h2m2 0h2m19 0h2m-100 1h2m-1 0h2m-1 0h2m4 0h2m-1 0h2m-1 0h2m-1 0h2m-1 0h2m52 0h2m-1 0h2m-1 0h2m-1 0h2m-1 0h2m0 0h2m-1 0h2m1 0h2m0 0h2m-96 1h2m5 0h2m1 0h2m7 0h2m2 0h2m-1 0h2m-1 0h2m-1 0h2m55 0h2m0 0h2m-1 0h2m1 0h2m-1 0h2m-1 0h2m-78 1h2m-1 0h2m0 0h2m0 0h2m1 0h2m0 0h2m-1 0h2m0 0h2m51 0h2m0 0h2m0 0h2m-1 0h2m0 0h2m-1 0h2m-1 0h2m-1 0h2m3 0h2m1 0h2m-87 1h2m1 0h2m2 0h2m0 0h2m-1 0h2m0 0h2m-1 0h2m-1 0h2m51 0h2m-1 0h2m0 0h2m-1 0h2m0 0h2m1 0h2m1 0h2m0 0h2m-101 1h2m18 0h2m4 0h2m2 0h2m-1 0h2m51 0h2m-1 0h2m-1 0h2m-1 0h2m1 0h2m0 0h2m0 0h2m19 0h2m-111 1h2m7 0h2m4 0h2m1 0h2m-1 0h2m1 0h2m-1 0h2m-1 0h2m0 0h2m50 0h2m-1 0h2m-1 0h2m-1 0h2m-1 0h2m-1 0h2m1 0h2m-1 0h2m0 0h2m9 0h2m-96 1h2m10 0h2m-1 0h2m0 0h2m3 0h2m-1 0h2m51 0h2m-1 0h2m2 0h2m-93 1h2m20 0h2m2 0h2m-1 0h2m-1 0h2m-1 0h2m0 0h2m-1 0h2m50 0h2m2 0h2m-1 0h2m2 0h2m3 0h2m18 0h2m-117 1h2m16 0h2m2 0h2m0 0h2m-1 0h2m-1 0h2m0 0h2m-1 0h2m50 0h2m1 0h2m-1 0h2m0 0h2m0 0h2m-1 0h2m85 0h2m-170 1h2m1 0h2m6 0h2m-1 0h2m0 0h2m-1 0h2m1 0h2m-1 0h2m-1 0h2m49 0h2m-1 0h2m-1 0h2m-1 0h2m0 0h2m0 0h2m0 0h2m-1 0h2m0 0h2m-1 0h2m-1 0h2m1 0h2m6 0h2m-95 1h2m0 0h2m-1 0h2m4 0h2m0 0h2m0 0h2m-1 0h2m-1 0h2m-1 0h2m0 0h2m49 0h2m0 0h2m2 0h2m-74 1h2m-1 0h2m3 0h2m0 0h2m0 0h2m0 0h2m-1 0h2m0 0h2m48 0h2m0 0h2m2 0h2m0 0h2m1 0h2m-1 0h2m-87 1h2m5 0h2m1 0h2m1 0h2m0 0h2m0 0h2m0 0h2m0 0h2m0 0h2m49 0h2m-1 0h2m-1 0h2m0 0h2m-1 0h2m13 0h2m4 0h2m-105 1h2m15 0h2m3 0h2m2 0h2m48 0h2m2 0h2m-1 0h2m0 0h2m3 0h2m13 0h2m-88 1h2m-1 0h2m-1 0h2m0 0h2m-1 0h2m-1 0h2m52 0h2m-1 0h2m-1 0h2m-1 0h2m-1 0h2m4 0h2m2 0h2m-76 1h2m-1 0h2m-1 0h2m0 0h2m2 0h2m51 0h2m-1 0h2m-1 0h2m-1 0h2m2 0h2m0 0h2m2 0h2m-79 1h2m1 0h2m0 0h2m3 0h2m-1 0h2m54 0h2m1 0h2m0 0h2m-1 0h2m7 0h2m-76 1h2m0 0h2m54 0h2m-1 0h2m6 0h2m-79 1h2m9 0h2m-1 0h2m53 0h2m-1 0h2m-1 0h2m-1 0h2m-1 0h2m-1 0h2m0 0h2m2 0h2m37 0h2m-137 1h2m4 0h2m4 0h2m0 0h2m0 0h2m-1 0h2m0 0h2m0 0h2m-1 0h2m-1 0h2m1 0h2m-1 0h2m-1 0h2m-1 0h2m-1 0h2m52 0h2m-1 0h2m-1 0h2m-1 0h2m0 0h2m-1 0h2m1 0h2m-1 0h2m0 0h2m-1 0h2m2 0h2m-1 0h2m0 0h2m12 0h2m41 0h2" stroke="#1a1a1a" stroke-width="1.9" fill="none"/>
<path transform="scale(0.5)" d="M164 914h2m-7 2h2m7 0h2m8 3h2m3 3h2m-15 2h2m1 0h2m-5 2h2m9 5h2m-18 1h2m-18 1h2m19 0h2m-29 1h2m-4 5h2m-3 1h2m-3 3h2m36 1h2m-28 3h2m-5 4h2m-6 8h2m-4 3h2m0 0h2m7 0h2m-11 4h2m5 2h2" stroke="#bbb" stroke-width="1.6" fill="none"/>
<path transform="scale(0.25)" d="M1443 1948l-2 1-2 0-2 0-2 0-2 0-2 0-2 0-2 0-2 0-2 0-2 0-2 0-2 0-2 1-2 0-2 0-2 0-2 0-2 0-2 0-2 0-2 0-2 0-2 0-2 0-2 0-2-1-2 0-2 0-2 0-2 0-2 0-2 0-2 0-2 0-2 0-2 0-2 0-2 0-2 0-2 0-2 0-2 0-2 0-2 0-2 0-2-1-2 0-2 0-2 0-1 0 1-1 0-1 1-2 1-1 1-1 1-2 1-2 0-2 0-2-1-2-1-2-1-2 0-1 0-1-1-2 0-2 1-2 0-2-1-2 0-2 0-2-1-2 0-1-1-1 0-2 0-2 0-2 0-2 0-2 0-2 0-2 0-2 0-2-1-2 0-2 0-2-1-2-1-2 0-2 0-2-1-2 1-2 0-2 0-2 1-2 0-2 1-2 0-2 0-2 1-2 0-2 0-2 1-2 0-1 0-1 0-2 0-2 1-2 0-2 0-2 1-2 0-2 1-2 1-1 0-1 2-2 1-2 1-1 1-1 1-1 1-1 1-1 1-1 1-1 1-1 1-1 1-1 1-2 0-2 2-2 2-2 2-2 2-2 2-2 2-1 2-1 2 0 1 0 1 0 2 1 2 1 2 1 1 1 1 0 2 1 2 0 2 1 2 0 2 1 2 0 2 0 2 1 2 0 2 0 2 1 2 0 2 0 2 1 2 0 2 0 2 0 2 1 2 1 2 1 1 1 1 1 1 1 1 1 1 1 1 1 1 1 1 1 1 1 1 1 1 1 1 1 0 1 2 2 1 2 1 2 1 2 1 2 0 1 0 1 1 2 0 2 1 2 0 2 0 1 0 1 0 2 0 2 1 2 0 2 0 2 1 2 0 2 0 2 0 2-1 2 0 2 0 2 0 2 0 2 1 2 1 2 0 2 1 2 0 1 0 1 0 2 0 2 0 2 1 2 0 2 1 2 0 1 0 1 0 2 0 1 0 1-1 2-1 2-1 2 0 2 0 2 0 2 0 2 0 2-1 2 0 1-1 1-1 2-2 2 0 1-1 1-1 2 0 1 0 1-1 2 1 2 0 1 0 1 1 2 0 2 0 2 1 2-2 0z" fill="#1a1a1a"/>
<path transform="scale(0.5)" d="M753 651h2m-9 6h2m28 21h2m-12 8h2m-65 1h2m9 9h2m61 0h2m14 2h2m-107 1h2m19 2h2m162 1h2m-181 1h2m47 0h2m102 0h2m-146 2h2m4 0h2m101 0h2m52 0h2m-175 1h2m98 0h2m-72 2h2m18 0h2m126 0h2m-157 1h2m81 0h2m-115 1h2m2 0h2m1 0h2m-2 1h2m4 0h2m26 0h2m14 0h2m8 0h2m1 0h2m29 0h2m-95 1h2m41 0h2m120 0h2m20 0h2m-221 1h2m17 0h2m11 0h2m0 0h2m9 0h2m86 0h2m47 0h2m11 0h2m-177 1h2m18 0h2m9 0h2m72 0h2m29 0h2m-150 1h2m36 0h2m9 0h2m2 0h2m8 0h2m76 0h2m46 0h2m53 0h2m-238 1h2m26 0h2m7 0h2m60 0h2m2 0h2m-86 1h2m23 0h2m29 0h2m4 0h2m45 0h2m29 0h2m-153 1h2m23 0h2m0 0h2m17 0h2m48 0h2m-93 1h2m9 0h2m-16 1h2m8 0h2m12 0h2m32 0h2m39 0h2m-117 1h2m17 0h2m20 0h2m46 0h2m24 0h2m18 0h2m27 0h2m4 0h2m-153 1h2m5 0h2m1 0h2m9 0h2m100 0h2m8 0h2m23 0h2m-166 1h2m4 0h2m0 0h2m12 0h2m-1 0h2m69 0h2m73 0h2m-180 1h2m1 0h2m16 0h2m1 0h2m0 0h2m0 0h2m0 0h2m1 0h2m5 0h2m71 0h2m66 0h2m8 0h2m-165 1h2m0 0h2m2 0h2m55 0h2m32 0h2m-110 1h2m1 0h2m9 0h2m9 0h2m4 0h2m-1 0h2m13 0h2m27 0h2m28 0h2m12 0h2m18 0h2m93 0h2m-250 1h2m14 0h2m4 0h2m59 0h2m0 0h2m24 0h2m64 0h2m-1 0h2m-171 1h2m0 0h2m-1 0h2m-1 0h2m1 0h2m9 0h2m2 0h2m-1 0h2m2 0h2m31 0h2m36 0h2m9 0h2m27 0h2m11 0h2m26 0h2m4 0h2m-183 1h2m9 0h2m6 0h2m0 0h2m2 0h2m81 0h2m57 0h2m33 0h2m-210 1h2m0 0h2m6 0h2m1 0h2m-1 0h2m-1 0h2m5 0h2m5 0h2m0 0h2m66 0h2m10 0h2m22 0h2m21 0h2m15 0h2m-194 1h2m14 0h2m-1 0h2m3 0h2m1 0h2m3 0h2m3 0h2m2 0h2m-1 0h2m4 0h2m4 0h2m57 0h2m18 0h2m27 0h2m-133 1h2m2 0h2m1 0h2m2 0h2m25 0h2m45 0h2m51 0h2m63 0h2m-235 1h2m15 0h2m0 0h2m4 0h2m9 0h2m5 0h2m-1 0h2m5 0h2m-1 0h2m14 0h2m15 0h2m29 0h2m23 0h2m-137 1h2m1 0h2m10 0h2m-1 0h2m1 0h2m-1 0h2m-1 0h2m0 0h2m3 0h2m2 0h2m2 0h2m17 0h2m8 0h2m2 0h2m33 0h2m35 0h2m10 0h2m30 0h2m-195 1h2m15 0h2m3 0h2m5 0h2m2 0h2m1 0h2m2 0h2m0 0h2m2 0h2m-1 0h2m0 0h2m6 0h2m0 0h2m5 0h2m25 0h2m19 0h2m67 0h2m92 0h2m-259 1h2m12 0h2m8 0h2m-1 0h2m0 0h2m5 0h2m-1 0h2m63 0h2m19 0h2m16 0h2m0 0h2m-1 0h2m-152 1h2m0 0h2m8 0h2m5 0h2m2 0h2m10 0h2m43 0h2m18 0h2m83 0h2m-187 1h2m0 0h2m-1 0h2m1 0h2m8 0h2m-1 0h2m0 0h2m-1 0h2m8 0h2m7 0h2m2 0h2m7 0h2m2 0h2m96 0h2m31 0h2m7 0h2m-203 1h2m9 0h2m3 0h2m4 0h2m2 0h2m8 0h2m6 0h2m-1 0h2m3 0h2m13 0h2m11 0h2m21 0h2m65 0h2m35 0h2m-209 1h2m17 0h2m-1 0h2m8 0h2m-1 0h2m2 0h2m4 0h2m1 0h2m-1 0h2m28 0h2m7 0h2m49 0h2m8 0h2m31 0h2m28 0h2m-201 1h2m1 0h2m-1 0h2m1 0h2m7 0h2m-1 0h2m-1 0h2m1 0h2m-1 0h2m2 0h2m1 0h2m1 0h2m11 0h2m16 0h2m26 0h2m44 0h2m2 0h2m8 0h2m25 0h2m-163 1h2m5 0h2m0 0h2m1 0h2m7 0h2m-1 0h2m8 0h2m15 0h2m9 0h2m7 0h2m19 0h2m-125 1h2m9 0h2m5 0h2m2 0h2m1 0h2m4 0h2m0 0h2m6 0h2m24 0h2m6 0h2m14 0h2m24 0h2m23 0h2m17 0h2m9 0h2m6 0h2m5 0h2m48 0h2m-212 1h2m5 0h2m-1 0h2m1 0h2m4 0h2m-1 0h2m0 0h2m0 0h2m12 0h2m43 0h2m7 0h2m38 0h2m16 0h2m18 0h2m12 0h2m7 0h2m49 0h2m-267 1h2m6 0h2m3 0h2m0 0h2m2 0h2m10 0h2m13 0h2m32 0h2m28 0h2m9 0h2m-1 0h2m29 0h2m18 0h2m1 0h2m25 0h2m-193 1h2m-1 0h2m7 0h2m4 0h2m0 0h2m4 0h2m0 0h2m2 0h2m3 0h2m-1 0h2m5 0h2m9 0h2m3 0h2m8 0h2m34 0h2m12 0h2m5 0h2m30 0h2m5 0h2m3 0h2m-166 1h2m0 0h2m4 0h2m2 0h2m5 0h2m7 0h2m-1 0h2m28 0h2m66 0h2m-134 1h2m1 0h2m2 0h2m5 0h2m2 0h2m6 0h2m14 0h2m3 0h2m1 0h2m72 0h2m20 0h2m-166 1h2m21 0h2m21 0h2m59 0h2m12 0h2m48 0h2m14 0h2m-169 1h2m9 0h2m7 0h2m13 0h2m7 0h2m-1 0h2m3 0h2m34 0h2m17 0h2m50 0h2m7 0h2m8 0h2m-190 1h2m12 0h2m0 0h2m2 0h2m17 0h2m13 0h2m17 0h2m18 0h2m76 0h2m-1 0h2m20 0h2m3 0h2m19 0h2m-211 1h2m3 0h2m1 0h2m1 0h2m0 0h2m7 0h2m2 0h2m-1 0h2m1 0h2m6 0h2m3 0h2m174 0h2m-239 1h2m17 0h2m-1 0h2m16 0h2m9 0h2m1 0h2m9 0h2m32 0h2m136 0h2m19 0h2m-242 1h2m10 0h2m-1 0h2m2 0h2m2 0h2m-1 0h2m54 0h2m34 0h2m1 0h2m3 0h2m-148 1h2m21 0h2m9 0h2m3 0h2m2 0h2m3 0h2m0 0h2m-2 1h2m16 0h2m35 0h2m9 0h2m27 0h2m41 0h2m-180 1h2m13 0h2m14 0h2m0 0h2m0 0h2m6 0h2m19 0h2m20 0h2m0 0h2m42 0h2m11 0h2m37 0h2m-1 0h2m2 0h2m-171 1h2m9 0h2m1 0h2m10 0h2m0 0h2m-1 0h2m2 0h2m94 0h2m0 0h2m36 0h2m-184 1h2m11 0h2m5 0h2m7 0h2m4 0h2m-1 0h2m7 0h2m3 0h2m2 0h2m1 0h2m1 0h2m13 0h2m18 0h2m52 0h2m42 0h2m-1 0h2m82 0h2m-290 1h2m37 0h2m44 0h2m5 0h2m36 0h2m32 0h2m-154 1h2m17 0h2m2 0h2m3 0h2m0 0h2m1 0h2m6 0h2m1 0h2m48 0h2m97 0h2m76 0h2m-272 1h2m10 0h2m11 0h2m-1 0h2m4 0h2m140 0h2m34 0h2m-200 1h2m-1 0h2m7 0h2m-1 0h2m2 0h2m6 0h2m136 0h2m-160 1h2m-1 0h2m1 0h2m2 0h2m0 0h2m-1 0h2m-1 0h2m0 0h2m-1 0h2m0 0h2m27 0h2m78 0h2m16 0h2m11 0h2m0 0h2m-165 1h2m9 0h2m1 0h2m7 0h2m16 0h2m42 0h2m39 0h2m-133 1h2m23 0h2m6 0h2m100 0h2m13 0h2m72 0h2m-205 1h2m18 0h2m5 0h2m26 0h2m33 0h2m-130 1h2m6 0h2m17 0h2m5 0h2m13 0h2m61 0h2m11 0h2m-103 1h2m5 0h2m18 0h2m4 0h2m-1 0h2m51 0h2m25 0h2m8 0h2m-145 1h2m28 0h2m12 0h2m63 0h2m66 0h2m-151 1h2m11 0h2m2 0h2m-22 1h2m14 0h2m6 0h2m116 0h2m63 0h2m-195 1h2m35 0h2m1 0h2m7 0h2m5 0h2m5 0h2m28 0h2m-74 1h2m157 0h2m-190 2h2m3 0h2m26 0h2m33 0h2m16 0h2m-79 1h2m12 0h2m-39 1h2m10 0h2m14 0h2m72 0h2m15 0h2m-129 1h2m6 0h2m5 0h2m9 0h2m13 0h2m-22 1h2m40 1h2m5 0h2m3 0h2m60 0h2m-37 1h2m7 0h2m7 0h2m16 0h2m-132 1h2m114 0h2m80 0h2m-182 1h2m39 0h2m29 1h2m-129 1h2m143 1h2m-119 2h2m26 3h2m16 0h2m78 1h2m-70 1h2m90 0h2m-148 1h2m38 0h2m-74 2h2m40 1h2m7 4h2m142 0h2m-137 1h2m-6 2h2m32 3h2m169 3h2m-172 3h2m-14 1h2m70 1h2m-93 1h2m234 6h2m-267 4h2m91 12h2m-58 3h2m72 0h2m-112 3h2m26 2h2m-25 3h2m31 0h2m157 1h2m-234 1h2m39 0h2m4 0h2m0 2h2m-10 1h2m45 0h2m109 0h2m-197 1h2m-4 1h2m8 0h2m44 0h2m-18 1h2m15 0h2m1 0h2m12 0h2m-74 1h2m53 1h2m9 0h2m6 0h2m102 0h2m-145 1h2m-52 1h2m24 0h2m2 0h2m20 1h2m-1 0h2m27 0h2m-38 1h2m8 0h2m-45 1h2m45 0h2m1 1h2m67 0h2m-107 1h2m9 0h2m27 0h2m-47 1h2m15 0h2m14 0h2m7 0h2m2 0h2m8 0h2m161 0h2m-216 1h2m7 0h2m16 0h2m14 0h2m-56 1h2m-1 0h2m9 0h2m36 0h2m56 0h2m-89 1h2m6 0h2m9 0h2m0 0h2m5 0h2m22 0h2m1 0h2m-76 1h2m11 0h2m41 0h2m0 0h2m2 0h2m21 0h2m-80 1h2m6 0h2m36 0h2m6 0h2m-39 1h2m2 0h2m9 0h2m21 0h2m-40 1h2m2 0h2m7 0h2m-1 0h2m1 0h2m4 0h2m-31 1h2m-1 0h2m1 0h2m22 0h2m1 0h2m1 0h2m11 0h2m-73 1h2m6 0h2m9 0h2m2 0h2m15 0h2m17 0h2m0 0h2m18 0h2m-1 0h2m-65 1h2m3 0h2m8 0h2m7 0h2m10 0h2m0 0h2m-1 0h2m7 0h2m2 0h2m-56 1h2m22 0h2m1 0h2m1 0h2m0 0h2m1 0h2m2 0h2m-26 1h2m2 0h2m53 0h2m-96 1h2m18 0h2m12 0h2m2 0h2m1 0h2m9 0h2m13 0h2m1 0h2m8 0h2m24 0h2m-107 1h2m-1 0h2m15 0h2m10 0h2m4 0h2m9 0h2m3 0h2m0 0h2m6 0h2m26 0h2m-67 1h2m13 0h2m5 0h2m18 0h2m2 0h2m-75 1h2m28 0h2m-1 0h2m2 0h2m1 0h2m-1 0h2m-1 0h2m1 0h2m-1 0h2m-1 0h2m0 0h2m-1 0h2m1 0h2m-1 0h2m7 0h2m8 0h2m-57 1h2m4 0h2m10 0h2m4 0h2m2 0h2m1 0h2m8 0h2m3 0h2m6 0h2m-85 1h2m28 0h2m2 0h2m-1 0h2m15 0h2m2 0h2m5 0h2m13 0h2m0 0h2m4 0h2m18 0h2m151 0h2m-237 1h2m27 0h2m-1 0h2m0 0h2m17 0h2m-1 0h2m6 0h2m0 0h2m5 0h2m3 0h2m-65 1h2m1 0h2m8 0h2m-1 0h2m2 0h2m3 0h2m3 0h2m0 0h2m6 0h2m3 0h2m4 0h2m-87 1h2m22 0h2m0 0h2m9 0h2m0 0h2m2 0h2m2 0h2m18 0h2m12 0h2m0 0h2m12 0h2m-1 0h2m89 0h2m-187 1h2m13 0h2m17 0h2m11 0h2m1 0h2m0 0h2m2 0h2m2 0h2m1 0h2m6 0h2m6 0h2m-1 0h2m1 0h2m-53 1h2m13 0h2m9 0h2m-1 0h2m-1 0h2m-1 0h2m1 0h2m4 0h2m-1 0h2m-1 0h2m9 0h2m22 0h2m-96 1h2m6 0h2m0 0h2m2 0h2m1 0h2m5 0h2m6 0h2m2 0h2m8 0h2m10 0h2m0 0h2m0 0h2m-1 0h2m3 0h2m5 0h2m-70 1h2m12 0h2m4 0h2m2 0h2m3 0h2m0 0h2m2 0h2m-1 0h2m0 0h2m4 0h2m8 0h2m1 0h2m2 0h2m-1 0h2m8 0h2m-95 1h2m3 0h2m3 0h2m21 0h2m1 0h2m2 0h2m3 0h2m-1 0h2m0 0h2m-1 0h2m3 0h2m7 0h2m-1 0h2m-1 0h2m-1 0h2m0 0h2m0 0h2m0 0h2m5 0h2m-1 0h2m2 0h2m-58 1h2m5 0h2m11 0h2m-1 0h2m2 0h2m0 0h2m1 0h2m-1 0h2m3 0h2m0 0h2m1 0h2m-1 0h2m0 0h2m12 0h2m4 0h2m-76 1h2m3 0h2m4 0h2m0 0h2m-1 0h2m4 0h2m0 0h2m0 0h2m0 0h2m2 0h2m0 0h2m-1 0h2m0 0h2m0 0h2m6 0h2m2 0h2m3 0h2m0 0h2m0 0h2m-1 0h2m17 0h2m-61 1h2m-1 0h2m13 0h2m-1 0h2m-1 0h2m3 0h2m-1 0h2m-1 0h2m0 0h2m-1 0h2m0 0h2m4 0h2m-1 0h2m2 0h2m-1 0h2m3 0h2m9 0h2m-91 1h2m12 0h2m4 0h2m9 0h2m0 0h2m6 0h2m0 0h2m-1 0h2m0 0h2m-1 0h2m0 0h2m-1 0h2m-1 0h2m4 0h2m-1 0h2m5 0h2m6 0h2m3 0h2m-81 1h2m18 0h2m0 0h2m12 0h2m3 0h2m1 0h2m-1 0h2m-1 0h2m-1 0h2m-1 0h2m1 0h2m0 0h2m0 0h2m3 0h2m4 0h2m0 0h2m4 0h2m1 0h2m1 0h2m161 0h2m-239 1h2m15 0h2m1 0h2m-1 0h2m1 0h2m-1 0h2m-1 0h2m-1 0h2m-1 0h2m1 0h2m3 0h2m-1 0h2m0 0h2m0 0h2m-1 0h2m1 0h2m2 0h2m0 0h2m2 0h2m-1 0h2m-1 0h2m1 0h2m-1 0h2m6 0h2m0 0h2m-1 0h2m1 0h2m0 0h2m6 0h2m-88 1h2m18 0h2m0 0h2m5 0h2m-1 0h2m1 0h2m1 0h2m0 0h2m0 0h2m-1 0h2m-1 0h2m-1 0h2m-1 0h2m-1 0h2m-1 0h2m-1 0h2m-1 0h2m-1 0h2m-1 0h2m0 0h2m1 0h2m-1 0h2m0 0h2m0 0h2m-1 0h2m0 0h2m-1 0h2m-1 0h2m16 0h2m-80 1h2m4 0h2m15 0h2m1 0h2m5 0h2m-1 0h2m-1 0h2m-1 0h2m0 0h2m0 0h2m0 0h2m2 0h2m0 0h2m1 0h2m1 0h2m2 0h2m1 0h2m1 0h2m-1 0h2m1 0h2m1 0h2m-1 0h2m2 0h2m-1 0h2m-1 0h2m3 0h2m-94 1h2m11 0h2m14 0h2m-1 0h2m1 0h2m1 0h2m-1 0h2m0 0h2m0 0h2m-1 0h2m-1 0h2m1 0h2m-1 0h2m0 0h2m-1 0h2m-1 0h2m-1 0h2m-1 0h2m1 0h2m0 0h2m-1 0h2m0 0h2m2 0h2m-1 0h2m1 0h2m0 0h2m-1 0h2m-1 0h2m-1 0h2m0 0h2m3 0h2m6 0h2m-94 1h2m7 0h2m-1 0h2m11 0h2m0 0h2m0 0h2m4 0h2m2 0h2m1 0h2m-1 0h2m-1 0h2m-1 0h2m-1 0h2m0 0h2m0 0h2m4 0h2m0 0h2m0 0h2m-1 0h2m0 0h2m-1 0h2m0 0h2m-1 0h2m0 0h2m1 0h2m0 0h2m-1 0h2m-1 0h2m0 0h2m0 0h2m0 0h2m-1 0h2m0 0h2m-1 0h2m1 0h2m7 0h2m1 0h2m4 0h2m-102 1h2m4 0h2m6 0h2m1 0h2m3 0h2m9 0h2m0 0h2m-1 0h2m-1 0h2m0 0h2m0 0h2m0 0h2m6 0h2m-1 0h2m-1 0h2m0 0h2m1 0h2m0 0h2m0 0h2m-1 0h2m0 0h2m-1 0h2m0 0h2m-1 0h2m-1 0h2m-1 0h2m-1 0h2m-1 0h2m1 0h2m-1 0h2m3 0h2m8 0h2m1 0h2m-82 1h2m2 0h2m-1 0h2m3 0h2m-1 0h2m2 0h2m1 0h2m0 0h2m-1 0h2m-1 0h2m-1 0h2m0 0h2m-1 0h2m-1 0h2m-1 0h2m-1 0h2m11 0h2m0 0h2m-1 0h2m-1 0h2m-1 0h2m-1 0h2m-1 0h2m-1 0h2m-1 0h2m0 0h2m-1 0h2m1 0h2m0 0h2m-1 0h2m-1 0h2m-1 0h2m-1 0h2m-1 0h2m4 0h2m1 0h2m16 0h2m-108 1h2m0 0h2m9 0h2m7 0h2m-1 0h2m-1 0h2m4 0h2m-1 0h2m-1 0h2m2 0h2m-1 0h2m-1 0h2m2 0h2m19 0h2m1 0h2m-1 0h2m0 0h2m-1 0h2m2 0h2m-1 0h2m0 0h2m2 0h2m-1 0h2m4 0h2m1 0h2m1 0h2m-75 1h2m2 0h2m0 0h2m-1 0h2m-1 0h2m0 0h2m-1 0h2m1 0h2m-1 0h2m-1 0h2m0 0h2m0 0h2m-1 0h2m-1 0h2m24 0h2m2 0h2m0 0h2m0 0h2m6 0h2m-91 1h2m12 0h2m3 0h2m0 0h2m-1 0h2m2 0h2m0 0h2m0 0h2m-1 0h2m1 0h2m-1 0h2m0 0h2m-1 0h2m-1 0h2m-1 0h2m-1 0h2m2 0h2m-1 0h2m25 0h2m0 0h2m-1 0h2m-1 0h2m1 0h2m1 0h2m-1 0h2m20 0h2m-99 1h2m11 0h2m6 0h2m1 0h2m3 0h2m2 0h2m34 0h2m-1 0h2m-1 0h2m0 0h2m1 0h2m1 0h2m-1 0h2m-91 1h2m-1 0h2m5 0h2m11 0h2m6 0h2m4 0h2m0 0h2m-1 0h2m0 0h2m0 0h2m-1 0h2m31 0h2m-1 0h2m-1 0h2m-1 0h2m-1 0h2m-1 0h2m1 0h2m-1 0h2m4 0h2m-1 0h2m9 0h2m3 0h2m-85 1h2m-1 0h2m1 0h2m3 0h2m-1 0h2m-1 0h2m0 0h2m-1 0h2m-1 0h2m-1 0h2m-1 0h2m34 0h2m-1 0h2m-1 0h2m0 0h2m11 0h2m-96 1h2m22 0h2m6 0h2m-1 0h2m0 0h2m-1 0h2m0 0h2m-1 0h2m40 0h2m-1 0h2m0 0h2m-1 0h2m-1 0h2m13 0h2m0 0h2m-101 1h2m15 0h2m1 0h2m0 0h2m0 0h2m2 0h2m-1 0h2m-1 0h2m-1 0h2m-1 0h2m-1 0h2m39 0h2m-1 0h2m-1 0h2m-1 0h2m-1 0h2m0 0h2m-1 0h2m9 0h2m-102 1h2m28 0h2m1 0h2m4 0h2m-1 0h2m41 0h2m-1 0h2m0 0h2m3 0h2m-1 0h2m2 0h2m10 0h2m-102 1h2m11 0h2m4 0h2m1 0h2m-1 0h2m0 0h2m1 0h2m-1 0h2m-1 0h2m-1 0h2m41 0h2m-1 0h2m-1 0h2m-1 0h2m-1 0h2m-1 0h2m0 0h2m0 0h2m3 0h2m3 0h2m-88 1h2m-1 0h2m0 0h2m4 0h2m8 0h2m-1 0h2m-1 0h2m46 0h2m-1 0h2m0 0h2m-1 0h2m-1 0h2m2 0h2m1 0h2m3 0h2m-87 1h2m3 0h2m-1 0h2m5 0h2m0 0h2m0 0h2m-1 0h2m-1 0h2m0 0h2m0 0h2m47 0h2m13 0h2m-104 1h2m24 0h2m3 0h2m-1 0h2m2 0h2m-1 0h2m-1 0h2m43 0h2m-1 0h2m0 0h2m-1 0h2m0 0h2m6 0h2m-82 1h2m0 0h2m4 0h2m2 0h2m3 0h2m-1 0h2m-1 0h2m45 0h2m0 0h2m-1 0h2m0 0h2m-1 0h2m-1 0h2m2 0h2m-85 1h2m1 0h2m9 0h2m3 0h2m0 0h2m-1 0h2m49 0h2m-1 0h2m1 0h2m-1 0h2m-1 0h2m2 0h2m-74 1h2m1 0h2m2 0h2m3 0h2m-1 0h2m-1 0h2m-1 0h2m46 0h2m-1 0h2m0 0h2m-1 0h2m3 0h2m0 0h2m0 0h2m-1 0h2m-99 1h2m29 0h2m1 0h2m51 0h2m-1 0h2m0 0h2m1 0h2m23 0h2m-106 1h2m10 0h2m0 0h2m0 0h2m1 0h2m0 0h2m48 0h2m-1 0h2m1 0h2m8 0h2m-83 1h2m4 0h2m0 0h2m0 0h2m1 0h2m-1 0h2m50 0h2m1 0h2m1 0h2m2 0h2m-86 1h2m5 0h2m6 0h2m0 0h2m3 0h2m-1 0h2m49 0h2m-1 0h2m-1 0h2m-1 0h2m0 0h2m-102 1h2m18 0h2m14 0h2m-1 0h2m-1 0h2m1 0h2m0 0h2m-1 0h2m-1 0h2m48 0h2m0 0h2m0 0h2m1 0h2m-1 0h2m-1 0h2m-1 0h2m10 0h2m-100 1h2m0 0h2m9 0h2m0 0h2m0 0h2m-1 0h2m-1 0h2m3 0h2m-1 0h2m-1 0h2m47 0h2m-1 0h2m-1 0h2m-1 0h2m1 0h2m0 0h2m4 0h2m-102 1h2m6 0h2m3 0h2m0 0h2m6 0h2m0 0h2m2 0h2m-1 0h2m0 0h2m-1 0h2m1 0h2m50 0h2m-1 0h2m0 0h2m0 0h2m-1 0h2m17 0h2m-94 1h2m-1 0h2m-1 0h2m7 0h2m0 0h2m0 0h2m-1 0h2m49 0h2m0 0h2m1 0h2m1 0h2m-1 0h2m1 0h2m-91 1h2m0 0h2m-1 0h2m14 0h2m2 0h2m-1 0h2m0 0h2m48 0h2m-1 0h2m-1 0h2m-1 0h2m2 0h2m11 0h2m-98 1h2m7 0h2m6 0h2m0 0h2m0 0h2m-1 0h2m-1 0h2m-1 0h2m-1 0h2m-1 0h2m49 0h2m-1 0h2m-1 0h2m1 0h2m-1 0h2m5 0h2m4 0h2m-97 1h2m-1 0h2m-1 0h2m2 0h2m1 0h2m2 0h2m2 0h2m3 0h2m-1 0h2m-1 0h2m-1 0h2m48 0h2m-1 0h2m-1 0h2m7 0h2m-99 1h2m11 0h2m10 0h2m4 0h2m-1 0h2m0 0h2m-1 0h2m-1 0h2m47 0h2m0 0h2m-1 0h2m4 0h2m3 0h2m-80 1h2m-1 0h2m2 0h2m-1 0h2m2 0h2m-1 0h2m-1 0h2m0 0h2m-1 0h2m47 0h2m0 0h2m0 0h2m0 0h2m-1 0h2m-87 1h2m7 0h2m6 0h2m-1 0h2m0 0h2m-1 0h2m-1 0h2m2 0h2m-1 0h2m-1 0h2m50 0h2m-1 0h2m-1 0h2m0 0h2m1 0h2m5 0h2m12 0h2m77 0h2m-190 1h2m8 0h2m0 0h2m0 0h2m3 0h2m0 0h2m0 0h2m1 0h2m-1 0h2m-1 0h2m-1 0h2m49 0h2m-1 0h2m0 0h2m-1 0h2m0 0h2m17 0h2m-114 1h2m8 0h2m1 0h2m8 0h2m8 0h2m-1 0h2m51 0h2m-1 0h2m7 0h2m-80 1h2m6 0h2m0 0h2m1 0h2m-1 0h2m0 0h2m-1 0h2m50 0h2m-1 0h2m0 0h2m11 0h2m6 0h2m-123 1h2m20 0h2m2 0h2m4 0h2m-1 0h2m2 0h2m0 0h2m1 0h2m-1 0h2m-1 0h2m-1 0h2m49 0h2m0 0h2m1 0h2m-1 0h2m0 0h2m6 0h2m3 0h2m0 0h2m-92 1h2m7 0h2m1 0h2m0 0h2m1 0h2m49 0h2m-1 0h2m-1 0h2m-1 0h2m-1 0h2m2 0h2m-1 0h2m0 0h2m0 0h2m2 0h2m0 0h2m-118 1h2m36 0h2m0 0h2m-1 0h2m0 0h2m0 0h2m51 0h2m-1 0h2m0 0h2m3 0h2m-75 1h2m-1 0h2m-1 0h2m2 0h2m-1 0h2m2 0h2m50 0h2m-1 0h2m-1 0h2m0 0h2m-1 0h2m-1 0h2m1 0h2m-1 0h2m1 0h2m1 0h2m0 0h2m-84 1h2m1 0h2m7 0h2m-1 0h2m-1 0h2m49 0h2m0 0h2m1 0h2m-83 1h2m10 0h2m0 0h2m2 0h2m-1 0h2m-1 0h2m-1 0h2m1 0h2m50 0h2m0 0h2m-1 0h2m5 0h2m3 0h2m-75 1h2m-1 0h2m-1 0h2m0 0h2m-1 0h2m-1 0h2m-1 0h2m52 0h2m-1 0h2m-1 0h2m0 0h2m-83 1h2m-1 0h2m3 0h2m13 0h2m56 0h2m3 0h2m16 0h2m-96 1h2m-1 0h2m2 0h2m-1 0h2m1 0h2m-1 0h2m-1 0h2m54 0h2m-1 0h2m0 0h2m-90 1h2m16 0h2m-1 0h2m9 0h2m1 0h2m52 0h2m-1 0h2m0 0h2m-1 0h2m2 0h2m12 0h2m-105 1h2m21 0h2m-1 0h2m-1 0h2m53 0h2m0 0h2m-1 0h2m-80 1h2m1 0h2m11 0h2m1 0h2m1 0h2m50 0h2m-1 0h2m-1 0h2m0 0h2m7 0h2m-102 1h2m30 0h2m-1 0h2m-1 0h2m-1 0h2m50 0h2m-1 0h2m-1 0h2m-1 0h2m9 0h2m-100 1h2m11 0h2m6 0h2m1 0h2m1 0h2m-1 0h2m-1 0h2m0 0h2m-1 0h2m50 0h2m-1 0h2m0 0h2m1 0h2m9 0h2m-85 1h2m5 0h2m0 0h2m-1 0h2m0 0h2m0 0h2m-1 0h2m50 0h2m1 0h2m0 0h2m-90 1h2m20 0h2m-1 0h2m-1 0h2m-1 0h2m1 0h2m-1 0h2m52 0h2m-1 0h2m-1 0h2m-1 0h2m1 0h2m4 0h2m-73 1h2m-1 0h2m0 0h2m-1 0h2m-1 0h2m-1 0h2m49 0h2m-1 0h2m-1 0h2m0 0h2m-72 1h2m2 0h2m8 0h2m-1 0h2m-1 0h2m47 0h2m1 0h2m-83 1h2m9 0h2m12 0h2m-1 0h2m-1 0h2m-1 0h2m-1 0h2m47 0h2m0 0h2m4 0h2m2 0h2m-87 1h2m4 0h2m0 0h2m7 0h2m3 0h2m-1 0h2m49 0h2m-1 0h2m0 0h2m0 0h2m-1 0h2m0 0h2m0 0h2m-68 1h2m0 0h2m-1 0h2m0 0h2m-1 0h2m48 0h2m-1 0h2m1 0h2m-73 1h2m0 0h2m5 0h2m2 0h2m-1 0h2m-1 0h2m0 0h2m46 0h2m0 0h2m-1 0h2m-1 0h2m-1 0h2m5 0h2m-76 1h2m0 0h2m6 0h2m-1 0h2m-1 0h2m0 0h2m47 0h2m-1 0h2m-1 0h2m-1 0h2m-1 0h2m-1 0h2m-1 0h2m1 0h2m-1 0h2m-1 0h2m-1 0h2m0 0h2m-80 1h2m2 0h2m5 0h2m0 0h2m-1 0h2m-1 0h2m-1 0h2m48 0h2m6 0h2m-70 1h2m1 0h2m1 0h2m-1 0h2m-1 0h2m-1 0h2m-1 0h2m-1 0h2m43 0h2m-1 0h2m0 0h2m1 0h2m2 0h2m7 0h2m-69 1h2m0 0h2m44 0h2m-1 0h2m-1 0h2m-1 0h2m1 0h2m-72 1h2m9 0h2m0 0h2m-1 0h2m1 0h2m-1 0h2m-1 0h2m-1 0h2m43 0h2m0 0h2m-1 0h2m-1 0h2m2 0h2m1 0h2m-81 1h2m4 0h2m-1 0h2m-1 0h2m-1 0h2m3 0h2m2 0h2m-1 0h2m-1 0h2m45 0h2m-1 0h2m0 0h2m4 0h2m0 0h2m-68 1h2m2 0h2m1 0h2m-1 0h2m43 0h2m-1 0h2m1 0h2m1 0h2m-1 0h2m2 0h2m-85 1h2m11 0h2m8 0h2m-1 0h2m-1 0h2m-1 0h2m0 0h2m42 0h2m4 0h2m16 0h2m-85 1h2m5 0h2m-1 0h2m1 0h2m0 0h2m-1 0h2m43 0h2m-1 0h2m1 0h2m-1 0h2m3 0h2m0 0h2m-60 1h2m46 0h2m-1 0h2m-1 0h2m1 0h2m-75 1h2m-1 0h2m-1 0h2m10 0h2m0 0h2m0 0h2m48 0h2m0 0h2m3 0h2m5 0h2m-92 1h2m2 0h2m1 0h2m5 0h2m0 0h2m-1 0h2m0 0h2m0 0h2m-1 0h2m-1 0h2m-1 0h2m-1 0h2m0 0h2m-1 0h2m-1 0h2m44 0h2m-1 0h2m-1 0h2m1 0h2m-1 0h2m0 0h2m-1 0h2m6 0h2m3 0h2m-1 0h2m1 0h2m0 0h2m9 0h2" stroke="#1a1a1a" stroke-width="1.9" fill="none"/>
<path transform="scale(0.5)" d="M686 913h2m-3 5h2m-2 3h2m-6 7h2m14 1h2m-11 5h2m3 1h2m7 2h2m-20 2h2m-9 1h2m10 3h2m-13 2h2m6 0h2m8 0h2m-20 4h2m31 2h2m-3 3h2m-16 1h2m8 3h2m5 0h2m-38 4h2m36 2h2m-23 1h2m-1 1h2m-6 1h2" stroke="#bbb" stroke-width="1.6" fill="none"/>
<path transform="scale(0.25)" d="M864 2947l-2 0-2-1-2-1-2-2-2-2-2-2-1 0-1-1-2 0-2-1-2 0-2-1-2 0-2-1-1 0-1 0-2-1-2-1-2-1-2-1-2-1-2-1-2 0-2-1-2 0-2 1-2 0-2 2-1 0-1 2 0 2-2 0-1-2-1-2-2-2-2-2-2-2-2-1-1-1-1 0-2-1-2 0-2-1-2-1-1-1-1-1-1-1-1-1-1-1 0-2-1-2-1-2 0-2 0-2 0-2 1-2 1-2 1-1 0-1 2-2 1-2 1-1 0-1 0-1-1-1-1-1-1-1-1 0-2 0-2 1-2 1-1 0-1 1-2 0-2 0-2 0-2 0-1-1-1-1-1-1 0-2 0-2 0-2 0-2-1-2 0-2 0-1-1-1-1-2-2-2 0-1-1-1-1-1-1-1-1-1-1-1-1-1-1-1-1-2-1-2-1-2-1-2-1-1-1-1-1-1-1-1-1-1-2-1-2-1-2 0-1-1-1 0-2-2-1 0-1-1-1-1-1-1-1-1-1-2-2-2-2-2-2-1-2 0 0-1-1-2 0-2 0-2 0-2 0-2 0-2 0-2 0-2 0-2 1-2 2-2 0-2 0-2 0-1-1-1-1-1 0-1-1-2 0-2 0-2 0-2 0-2 0-2 0-2 0-2 0-2 0-2 0-2 0-2 0-2 0-2 0-2 0-2 0-2 0-2 1-2 0-1 2 0 1-1 1-1 0-1 1-2 1 0 0-2 1-2 1-1 0-1 2-1 0-1 2-1 0-1 2-2 1-2 1-1 0-1 1-2 1 0 0-2 1-2 1 0 1-2 1-1 0-1 2-1 0-1 2-1 1-1 1 0 2-1 2 0 1-1 1 0 2 0 2-1 1-1 1 0 2-2 2-1 1-1 1 0 2-2 2-1 1-1 1 0 2-1 2-1 2 0 2-1 2 0 1-1 1 0 2 0 2-1 2 0 2 0 2 0 2 0 2 0 2 0 2 0 2 0 2 0 2 0 2 1 2 0 2 0 2 0 2 0 2 1 2 0 2 0 2 0 2 1 2 0 2 0 2 0 2-1 2 0 1-1 1 0 2-1 2-1 2-1 2 0 2-1 2 0 2 0 1 0 1 0 2 0 2 1 2 0 2 1 2 0 1 0 1 0 2 1 2 0 2 0 2 0 2 0 2 0 2 0 2 0 2 0 2 0 2 0 2 0 2 1 1 0 1 0 2 1 2 1 1 0 1 1 2 0 1 1 1 0 2 1 2 1 2 1 2 1 2 1 2 1 1 0 1 0 2 1 2 1 1 0 1 0 2 1 2 1 2 1 1 1 1 0 2 2 2 1 1 1 1 1 1 1 1 1 0 1 1 2 1 0 0 2 1 2 1 1 0 1 1 2 0 2 0 2 0 2 0 2 0 2-1 2 0 2 0 1-1 1 0 2 0 2 0 2 1 2 0 2 1 2 1 1 0 1 1 2 1 1 0 1 1 2 0 2 0 2 0 2-1 2 0 2-1 0 0 2-1 2-1 2-1 2 0 1-1 1 0 2 0 2 0 2 0 2 0 2 0 2 1 2 0 1 0 1 0 2 0 2 0 2 0 2 1 2 0 2 0 2 0 2 0 2 0 2-1 2 0 2 0 1-1 1-1 2 0 1-1 1-1 2-2 2 0 2-1 2-1 2 0 2-1 0 0 2-1 2-1 0-1 2 0 1-1 1-1 2-1 2-1 2 0 2 1 2 0 2 1 1 0 1 1 2 1 2 0 2 0 2 0 2 0 2 0 1-1 1-1 2-2 2-2 2-1 0-1 1-1 1-1 1-1 1-1 2-1 0-1 2 0 1-1 1-1 2 0 1-1 1-1 2-2 2 0 1-1 1-1 2-1 0-1 2-1 0-1 1-2 1-2 1-2 1-2 0-2 0-2 1-2 1-1 0-1 1-2 1 0 1-2 1-1 0-1 1-2 1-2 1-2 1 0 1-2 1-1 0-1 1-2 1 0 1-2 1-1 0-1 1-2 1-2 0-1 0-1 0z" fill="#000"/>
<path transform="scale(0.5)" d="M695 1287h3m-51 1h3m15 0h3m40 1h3m-197 1h3m31 0h3m141 1h3m4 0h3m5 0h3m-16 4h3m-129 1h3m85 1h3m31 1h3m-64 2h3m-125 1h3m63 0h3m45 0h3m-77 1h3m11 0h3m42 1h3m39 0h3m8 0h3m-40 2h3m64 0h3m-106 1h3m95 0h3m-31 1h3m33 0h3m-182 1h3m162 0h3m-83 1h3m22 0h3m3 0h3m54 0h3m-149 1h3m51 0h3m59 0h3m16 0h3m-46 1h3m-2 0h3m31 0h3m16 0h3m16 0h3m-176 1h3m110 0h3m34 0h3m17 0h3m-90 1h3m33 0h3m7 0h3m4 0h3m3 0h3m19 0h3m1 0h3m-119 1h3m62 0h3m12 0h3m6 0h3m6 0h3m-1 0h3m3 0h3m1 0h3m-150 1h3m88 0h3m25 0h3m21 0h3m8 0h3m-322 1h3m178 0h3m111 0h3m14 0h3m-264 1h3m148 0h3m21 0h3m35 0h3m39 0h3m-113 1h3m10 0h3m3 0h3m79 0h3m19 0h3m-296 1h3m226 0h3m-114 1h3m71 0h3m48 0h3m5 0h3m2 0h3m-225 1h3m158 0h3m47 0h3m-2 0h3m4 0h3m0 0h3m17 0h3m7 0h3m-326 1h3m25 0h3m13 0h3m111 0h3m21 0h3m3 0h3m56 0h3m15 0h3m-241 1h3m37 0h3m134 0h3m39 0h3m4 0h3m12 0h3m13 0h3m6 0h3m3 0h3m20 0h3m5 0h3m-306 1h3m34 0h3m17 0h3m1 0h3m142 0h3m16 0h3m62 0h3m25 0h3m-221 1h3m68 0h3m5 0h3m10 0h3m41 0h3m7 0h3m6 0h3m4 0h3m0 0h3m-2 0h3m21 0h3m2 0h3m2 0h3m-274 1h3m18 0h3m91 0h3m0 0h3m34 0h3m1 0h3m48 0h3m10 0h3m12 0h3m10 0h3m-1 0h3m8 0h3m6 0h3m-304 1h3m10 0h3m183 0h3m53 0h3m9 0h3m-2 0h3m-2 0h3m-1 0h3m4 0h3m1 0h3m8 0h3m-321 1h3m178 0h3m10 0h3m9 0h3m23 0h3m18 0h3m11 0h3m23 0h3m-1 0h3m2 0h3m1 0h3m-1 0h3m11 0h3m-302 1h3m5 0h3m9 0h3m151 0h3m32 0h3m12 0h3m7 0h3m17 0h3m10 0h3m-270 1h3m46 0h3m42 0h3m113 0h3m91 0h3m-2 0h3m0 0h3m-322 1h3m11 0h3m134 0h3m12 0h3m56 0h3m30 0h3m1 0h3m2 0h3m2 0h3m-1 0h3m1 0h3m0 0h3m13 0h3m22 0h3m-326 1h3m7 0h3m2 0h3m43 0h3m-1 0h3m1 0h3m1 0h3m14 0h3m124 0h3m39 0h3m17 0h3m3 0h3m0 0h3m11 0h3m-1 0h3m-1 0h3m4 0h3m-309 1h3m-1 0h3m13 0h3m2 0h3m12 0h3m-2 0h3m0 0h3m44 0h3m85 0h3m67 0h3m11 0h3m-1 0h3m18 0h3m15 0h3m16 0h3m-352 1h3m18 0h3m51 0h3m9 0h3m22 0h3m53 0h3m5 0h3m79 0h3m24 0h3m21 0h3m10 0h3m0 0h3m6 0h3m8 0h3m1 0h3m-326 1h3m-1 0h3m12 0h3m4 0h3m0 0h3m4 0h3m11 0h3m5 0h3m47 0h3m79 0h3m2 0h3m0 0h3m18 0h3m44 0h3m7 0h3m6 0h3m5 0h3m3 0h3m11 0h3m1 0h3m-324 1h3m15 0h3m3 0h3m31 0h3m9 0h3m43 0h3m65 0h3m21 0h3m22 0h3m1 0h3m32 0h3m-1 0h3m2 0h3m12 0h3m19 0h3m-320 1h3m19 0h3m16 0h3m9 0h3m6 0h3m121 0h3m25 0h3m22 0h3m-1 0h3m25 0h3m8 0h3m0 0h3m2 0h3m-1 0h3m2 0h3m25 0h3m-301 1h3m14 0h3m-1 0h3m0 0h3m7 0h3m81 0h3m34 0h3m38 0h3m38 0h3m6 0h3m6 0h3m4 0h3m8 0h3m0 0h3m7 0h3m0 0h3m7 0h3m-343 1h3m22 0h3m-2 0h3m-2 0h3m2 0h3m-1 0h3m15 0h3m57 0h3m63 0h3m19 0h3m9 0h3m54 0h3m9 0h3m4 0h3m12 0h3m8 0h3m-1 0h3m12 0h3m-1 0h3m14 0h3m-343 1h3m-2 0h3m7 0h3m7 0h3m-2 0h3m1 0h3m25 0h3m17 0h3m27 0h3m1 0h3m38 0h3m48 0h3m33 0h3m28 0h3m6 0h3m18 0h3m6 0h3m8 0h3m6 0h3m-338 1h3m20 0h3m24 0h3m10 0h3m6 0h3m67 0h3m9 0h3m82 0h3m33 0h3m31 0h3m5 0h3m1 0h3m13 0h3m0 0h3m-345 1h3m19 0h3m2 0h3m-1 0h3m4 0h3m0 0h3m25 0h3m0 0h3m31 0h3m39 0h3m56 0h3m12 0h3m56 0h3m-2 0h3m27 0h3m-313 1h3m8 0h3m5 0h3m14 0h3m23 0h3m6 0h3m10 0h3m1 0h3m5 0h3m41 0h3m4 0h3m14 0h3m30 0h3m61 0h3m8 0h3m22 0h3m6 0h3m3 0h3m-1 0h3m-1 0h3m0 0h3m2 0h3m8 0h3m-320 1h3m-2 0h3m7 0h3m3 0h3m2 0h3m12 0h3m16 0h3m22 0h3m61 0h3m1 0h3m21 0h3m56 0h3m25 0h3m14 0h3m6 0h3m0 0h3m1 0h3m-2 0h3m-1 0h3m-1 0h3m3 0h3m1 0h3m-325 1h3m3 0h3m6 0h3m29 0h3m0 0h3m2 0h3m45 0h3m3 0h3m11 0h3m80 0h3m18 0h3m27 0h3m17 0h3m5 0h3m2 0h3m3 0h3m8 0h3m5 0h3m-1 0h3m0 0h3m6 0h3m9 0h3m-332 1h3m13 0h3m8 0h3m3 0h3m11 0h3m34 0h3m27 0h3m87 0h3m29 0h3m15 0h3m11 0h3m4 0h3m-2 0h3m9 0h3m2 0h3m0 0h3m2 0h3m6 0h3m2 0h3m4 0h3m-341 1h3m8 0h3m11 0h3m15 0h3m-2 0h3m2 0h3m1 0h3m2 0h3m-2 0h3m10 0h3m5 0h3m2 0h3m0 0h3m6 0h3m-1 0h3m49 0h3m6 0h3m19 0h3m0 0h3m59 0h3m38 0h3m12 0h3m2 0h3m3 0h3m-1 0h3m5 0h3m0 0h3m2 0h3m1 0h3m-335 1h3m1 0h3m6 0h3m-2 0h3m-2 0h3m3 0h3m12 0h3m14 0h3m0 0h3m1 0h3m18 0h3m1 0h3m2 0h3m8 0h3m-2 0h3m6 0h3m70 0h3m13 0h3m26 0h3m12 0h3m10 0h3m0 0h3m14 0h3m4 0h3m-1 0h3m4 0h3m3 0h3m0 0h3m2 0h3m10 0h3m2 0h3m-317 1h3m11 0h3m7 0h3m-2 0h3m0 0h3m-2 0h3m7 0h3m0 0h3m-2 0h3m0 0h3m0 0h3m-1 0h3m-2 0h3m30 0h3m1 0h3m1 0h3m14 0h3m48 0h3m0 0h3m9 0h3m44 0h3m1 0h3m13 0h3m3 0h3m0 0h3m8 0h3m0 0h3m16 0h3m-2 0h3m-2 0h3m0 0h3m3 0h3m7 0h3m-1 0h3m-2 0h3m4 0h3m7 0h3m-344 1h3m20 0h3m8 0h3m4 0h3m2 0h3m0 0h3m16 0h3m-1 0h3m6 0h3m7 0h3m4 0h3m0 0h3m3 0h3m4 0h3m6 0h3m13 0h3m7 0h3m25 0h3m2 0h3m7 0h3m10 0h3m10 0h3m17 0h3m44 0h3m16 0h3m0 0h3m24 0h3m5 0h3m-338 1h3m2 0h3m8 0h3m4 0h3m2 0h3m6 0h3m4 0h3m-2 0h3m-1 0h3m7 0h3m-1 0h3m5 0h3m-1 0h3m3 0h3m-2 0h3m0 0h3m1 0h3m1 0h3m-1 0h3m3 0h3m3 0h3m7 0h3m-1 0h3m37 0h3m20 0h3m10 0h3m36 0h3m26 0h3m26 0h3m9 0h3m1 0h3m1 0h3m-2 0h3m-2 0h3m-1 0h3m5 0h3m15 0h3m-344 1h3m4 0h3m12 0h3m19 0h3m0 0h3m1 0h3m0 0h3m3 0h3m0 0h3m9 0h3m0 0h3m0 0h3m9 0h3m0 0h3m3 0h3m0 0h3m44 0h3m28 0h3m7 0h3m4 0h3m33 0h3m18 0h3m8 0h3m23 0h3m13 0h3m-2 0h3m3 0h3m10 0h3m0 0h3m7 0h3m3 0h3m-340 1h3m2 0h3m6 0h3m-1 0h3m0 0h3m4 0h3m0 0h3m3 0h3m10 0h3m1 0h3m-2 0h3m2 0h3m1 0h3m-1 0h3m0 0h3m-1 0h3m3 0h3m3 0h3m5 0h3m33 0h3m128 0h3m8 0h3m12 0h3m0 0h3m5 0h3m3 0h3m1 0h3m-2 0h3m15 0h3m-337 1h3m16 0h3m-1 0h3m-2 0h3m3 0h3m-2 0h3m3 0h3m-2 0h3m-1 0h3m0 0h3m4 0h3m1 0h3m5 0h3m3 0h3m-1 0h3m5 0h3m-2 0h3m-1 0h3m2 0h3m-1 0h3m-2 0h3m1 0h3m51 0h3m-1 0h3m85 0h3m-2 0h3m27 0h3m10 0h3m-1 0h3m0 0h3m0 0h3m-2 0h3m-1 0h3m-2 0h3m20 0h3m-317 1h3m11 0h3m0 0h3m11 0h3m-1 0h3m-1 0h3m-1 0h3m4 0h3m0 0h3m1 0h3m1 0h3m-1 0h3m1 0h3m-2 0h3m-2 0h3m2 0h3m-2 0h3m-2 0h3m1 0h3m12 0h3m2 0h3m-2 0h3m4 0h3m2 0h3m-2 0h3m0 0h3m-1 0h3m10 0h3m22 0h3m13 0h3m34 0h3m7 0h3m4 0h3m0 0h3m14 0h3m18 0h3m-2 0h3m35 0h3m4 0h3m25 0h3m0 0h3m-334 1h3m-1 0h3m10 0h3m2 0h3m0 0h3m-1 0h3m3 0h3m-1 0h3m-1 0h3m-2 0h3m0 0h3m-2 0h3m-2 0h3m6 0h3m-1 0h3m-2 0h3m-1 0h3m-1 0h3m-2 0h3m-2 0h3m2 0h3m0 0h3m1 0h3m0 0h3m5 0h3m2 0h3m9 0h3m-1 0h3m11 0h3m73 0h3m8 0h3m50 0h3m19 0h3m7 0h3m0 0h3m13 0h3m7 0h3m-2 0h3m0 0h3m13 0h3m-347 1h3m3 0h3m-2 0h3m-2 0h3m0 0h3m7 0h3m-1 0h3m-1 0h3m2 0h3m-1 0h3m-2 0h3m1 0h3m-2 0h3m-1 0h3m4 0h3m-1 0h3m2 0h3m-1 0h3m0 0h3m-2 0h3m-2 0h3m11 0h3m3 0h3m-2 0h3m-1 0h3m-1 0h3m-2 0h3m10 0h3m-2 0h3m-2 0h3m15 0h3m1 0h3m90 0h3m27 0h3m13 0h3m24 0h3m0 0h3m-2 0h3m17 0h3m10 0h3m10 0h3m-338 1h3m2 0h3m-1 0h3m0 0h3m3 0h3m0 0h3m5 0h3m-1 0h3m47 0h3m3 0h3m8 0h3m-2 0h3m-1 0h3m1 0h3m-2 0h3m8 0h3m6 0h3m5 0h3m136 0h3m11 0h3m46 0h3m-336 1h3m2 0h3m0 0h3m-1 0h3m4 0h3m-1 0h3m-1 0h3m-1 0h3m20 0h3m0 0h3m31 0h3m-2 0h3m-1 0h3m0 0h3m0 0h3m2 0h3m5 0h3m36 0h3m43 0h3m71 0h3m1 0h3m0 0h3m11 0h3m-1 0h3m-1 0h3m6 0h3m2 0h3m-1 0h3m3 0h3m-319 1h3m8 0h3m1 0h3m4 0h3m-2 0h3m65 0h3m-1 0h3m1 0h3m1 0h3m32 0h3m6 0h3m-1 0h3m70 0h3m15 0h3m5 0h3m1 0h3m13 0h3m22 0h3m3 0h3m9 0h3m-2 0h3m1 0h3m4 0h3m2 0h3m-330 1h3m-2 0h3m7 0h3m-1 0h3m3 0h3m71 0h3m-2 0h3m5 0h3m0 0h3m-2 0h3m0 0h3m4 0h3m-1 0h3m6 0h3m-2 0h3m94 0h3m-2 0h3m4 0h3m50 0h3m9 0h3m4 0h3m7 0h3m0 0h3m-1 0h3m6 0h3m-2 0h3m-2 0h3m-1 0h3m-2 0h3m19 0h3m-359 1h3m0 0h3m1 0h3m2 0h3m3 0h3m-2 0h3m73 0h3m-2 0h3m2 0h3m1 0h3m-2 0h3m31 0h3m52 0h3m8 0h3m91 0h3m9 0h3m3 0h3m7 0h3m3 0h3m-337 1h3m8 0h3m-2 0h3m2 0h3m-1 0h3m76 0h3m-1 0h3m3 0h3m3 0h3m4 0h3m72 0h3m35 0h3m50 0h3m2 0h3m6 0h3m-2 0h3m-1 0h3m0 0h3m2 0h3m8 0h3m1 0h3m3 0h3m-334 1h3m4 0h3m0 0h3m-1 0h3m85 0h3m-2 0h3m2 0h3m9 0h3m80 0h3m16 0h3m57 0h3m11 0h3m3 0h3m10 0h3m-2 0h3m11 0h3m-331 1h3m3 0h3m-2 0h3m2 0h3m0 0h3m83 0h3m2 0h3m0 0h3m-2 0h3m-2 0h3m-2 0h3m12 0h3m57 0h3m96 0h3m-2 0h3m0 0h3m4 0h3m-2 0h3m2 0h3m1 0h3m11 0h3m-2 0h3m-2 0h3m15 0h3m8 0h3m-351 1h3m4 0h3m-2 0h3m-1 0h3m85 0h3m-2 0h3m-2 0h3m1 0h3m-1 0h3m-2 0h3m87 0h3m55 0h3m13 0h3m16 0h3m-2 0h3m-2 0h3m4 0h3m8 0h3m1 0h3m0 0h3m9 0h3m7 0h3m-346 1h3m-1 0h3m-2 0h3m4 0h3m-2 0h3m90 0h3m3 0h3m-1 0h3m2 0h3m54 0h3m4 0h3m23 0h3m2 0h3m11 0h3m43 0h3m-2 0h3m6 0h3m14 0h3m1 0h3m1 0h3m7 0h3m1 0h3m13 0h3m-333 1h3m1 0h3m89 0h3m-2 0h3m-1 0h3m0 0h3m-1 0h3m-2 0h3m-2 0h3m1 0h3m2 0h3m-2 0h3m48 0h3m8 0h3m15 0h3m16 0h3m46 0h3m5 0h3m3 0h3m8 0h3m0 0h3m2 0h3m-1 0h3m1 0h3m8 0h3m-1 0h3m15 0h3m-341 1h3m-2 0h3m-2 0h3m0 0h3m-2 0h3m-2 0h3m95 0h3m5 0h3m5 0h3m59 0h3m110 0h3m3 0h3m-2 0h3m32 0h3m-344 1h3m104 0h3m2 0h3m102 0h3m10 0h3m-1 0h3m-1 0h3m22 0h3m0 0h3m9 0h3m7 0h3m4 0h3m12 0h3m-1 0h3m1 0h3m42 0h3m-255 1h3m-1 0h3m-1 0h3m2 0h3m12 0h3m-1 0h3m92 0h3m33 0h3m13 0h3m4 0h3m11 0h3m10 0h3m10 0h3m-328 1h3m-2 0h3m5 0h3m96 0h3m1 0h3m5 0h3m-1 0h3m35 0h3m5 0h3m41 0h3m44 0h3m45 0h3m3 0h3m0 0h3m3 0h3m-321 1h3m1 0h3m97 0h3m-1 0h3m-2 0h3m-1 0h3m-1 0h3m1 0h3m-2 0h3m-1 0h3m62 0h3m5 0h3m55 0h3m23 0h3m10 0h3m-1 0h3m17 0h3m3 0h3m-1 0h3m4 0h3m-332 1h3m0 0h3m-2 0h3m-1 0h3m100 0h3m0 0h3m1 0h3m0 0h3m33 0h3m75 0h3m-1 0h3m30 0h3m32 0h3m7 0h3m-1 0h3m8 0h3m-1 0h3m-331 1h3m-1 0h3m0 0h3m99 0h3m-1 0h3m-2 0h3m1 0h3m1 0h3m6 0h3m0 0h3m71 0h3m77 0h3m-2 0h3m0 0h3m18 0h3m3 0h3m2 0h3m-323 1h3m0 0h3m0 0h3m100 0h3m4 0h3m87 0h3m14 0h3m37 0h3m-2 0h3m11 0h3m19 0h3m17 0h3m11 0h3m2 0h3m2 0h3m-347 1h3m0 0h3m0 0h3m98 0h3m-1 0h3m-1 0h3m-2 0h3m-2 0h3m0 0h3m38 0h3m10 0h3m13 0h3m7 0h3m15 0h3m3 0h3m14 0h3m9 0h3m13 0h3m7 0h3m-2 0h3m27 0h3m-2 0h3m3 0h3m7 0h3m1 0h3m8 0h3m-341 1h3m-1 0h3m0 0h3m99 0h3m0 0h3m1 0h3m89 0h3m23 0h3m19 0h3m47 0h3m0 0h3m14 0h3m-327 1h3m2 0h3m100 0h3m0 0h3m1 0h3m61 0h3m27 0h3m16 0h3m6 0h3m13 0h3m14 0h3m6 0h3m2 0h3m30 0h3m2 0h3m8 0h3m-335 1h3m-2 0h3m103 0h3m0 0h3m-1 0h3m3 0h3m109 0h3m46 0h3m7 0h3m21 0h3m15 0h3m1 0h3m-338 1h3m1 0h3m102 0h3m20 0h3m80 0h3m8 0h3m8 0h3m17 0h3m71 0h3m-335 1h3m107 0h3m2 0h3m-2 0h3m3 0h3m14 0h3m64 0h3m17 0h3m18 0h3m36 0h3m2 0h3m-187 1h3m2 0h3m92 0h3m78 0h3m0 0h3m28 0h3m0 0h3m12 0h3m-343 1h3m-1 0h3m104 0h3m-1 0h3m6 0h3m7 0h3m53 0h3m107 0h3m14 0h3m6 0h3m30 0h3m-249 1h3m-1 0h3m1 0h3m8 0h3m2 0h3m84 0h3m37 0h3m55 0h3m-2 0h3m26 0h3m-349 1h3m107 0h3m22 0h3m18 0h3m1 0h3m18 0h3m14 0h3m23 0h3m42 0h3m13 0h3m10 0h3m17 0h3m-212 1h3m2 0h3m81 0h3m33 0h3m34 0h3m20 0h3m8 0h3m-197 1h3m-2 0h3m-1 0h3m-1 0h3m11 0h3m57 0h3m66 0h3m14 0h3m56 0h3m-1 0h3m-228 1h3m-2 0h3m-2 0h3m-1 0h3m-1 0h3m-1 0h3m79 0h3m103 0h3m1 0h3m-204 1h3m0 0h3m1 0h3m1 0h3m-2 0h3m51 0h3m2 0h3m34 0h3m17 0h3m-2 0h3m-2 0h3m16 0h3m16 0h3m41 0h3m-212 1h3m161 0h3m61 0h3m-234 1h3m127 0h3m34 0h3m-1 0h3m-172 1h3m0 0h3m-2 0h3m1 0h3m-1 0h3m172 0h3m1 0h3m4 0h3m-198 1h3m2 0h3m116 0h3m31 0h3m4 0h3m-166 1h3m25 0h3m39 0h3m-69 1h3m77 0h3m-201 1h3m108 0h3m-2 0h3m-2 0h3m2 0h3m-1 0h3m14 0h3m20 0h3m85 0h3m14 0h3m0 0h3m13 0h3m23 0h3m-312 1h3m105 0h3m-1 0h3m7 0h3m-2 0h3m115 0h3m27 0h3m-273 1h3m113 0h3m4 0h3m11 0h3m156 0h3m-299 1h3m105 0h3m-1 0h3m0 0h3m79 0h3m15 0h3m8 0h3m61 0h3m24 0h3m-318 1h3m-2 0h3m105 0h3m-2 0h3m2 0h3m-118 1h3m-2 0h3m-2 0h3m-2 0h3m109 0h3m-1 0h3m3 0h3m111 0h3m-239 1h3m-1 0h3m104 0h3m-2 0h3m-1 0h3m-1 0h3m9 0h3m98 0h3m72 0h3m14 0h3m-215 1h3m-2 0h3m3 0h3m1 0h3m74 0h3m-199 1h3m108 0h3m-114 1h3m116 0h3m-2 0h3m-1 0h3m114 0h3m22 0h3m36 0h3m-306 1h3m108 0h3m-113 1h3m105 0h3m-2 0h3m0 0h3m1 0h3m0 0h3m176 0h3m7 0h3m-311 1h3m108 0h3m0 0h3m169 0h3m6 0h3m42 0h3m-344 1h3m107 0h3m210 0h3m-326 1h3m-2 0h3m107 0h3m-2 0h3m8 0h3m-2 0h3m-127 1h3m106 0h3m4 0h3m-2 0h3m9 0h3m-132 1h3m-1 0h3m106 0h3m5 0h3m2 0h3m34 0h3m98 0h3m63 0h3m-331 1h3m111 0h3m164 0h3m-284 1h3m108 0h3m-2 0h3m0 0h3m137 0h3m-258 1h3m109 0h3m5 0h3m4 0h3m29 0h3m-162 1h3m0 0h3m104 0h3m-113 1h3m1 0h3m-2 0h3m105 0h3m-111 1h3m102 0h3m0 0h3m3 0h3m-1 0h3m116 0h3m49 0h3m-288 1h3m100 0h3m-1 0h3m-2 0h3m0 0h3m-119 1h3m0 0h3m-1 0h3m0 0h3m98 0h3m-2 0h3m-113 1h3m-1 0h3m4 0h3m-2 0h3m-2 0h3m96 0h3m0 0h3m0 0h3m-113 1h3m-1 0h3m2 0h3m-2 0h3m94 0h3m-2 0h3m0 0h3m142 0h3m-263 1h3m2 0h3m-2 0h3m-1 0h3m4 0h3m94 0h3m-115 1h3m-1 0h3m6 0h3m102 0h3m-2 0h3m58 0h3m-181 1h3m10 0h3m92 0h3m-2 0h3m-2 0h3m-1 0h3m129 0h3m-244 1h3m0 0h3m0 0h3m3 0h3m87 0h3m-108 1h3m3 0h3m1 0h3m1 0h3m-1 0h3m86 0h3m3 0h3m-2 0h3m-115 1h3m11 0h3m-2 0h3m-1 0h3m85 0h3m8 0h3m0 0h3m-2 0h3m3 0h3m-128 1h3m8 0h3m94 0h3m-2 0h3m0 0h3m1 0h3m8 0h3m-131 1h3m3 0h3m-2 0h3m-1 0h3m-2 0h3m1 0h3m-2 0h3m0 0h3m82 0h3m-1 0h3m1 0h3m-2 0h3m7 0h3m-1 0h3m48 0h3m-173 1h3m1 0h3m2 0h3m0 0h3m2 0h3m81 0h3m2 0h3m9 0h3m-124 1h3m6 0h3m7 0h3m-1 0h3m-2 0h3m2 0h3m83 0h3m-116 1h3m0 0h3m3 0h3m-1 0h3m1 0h3m2 0h3m-1 0h3m-2 0h3m0 0h3m72 0h3m-1 0h3m-2 0h3m-1 0h3m-2 0h3m9 0h3m140 0h3m-256 1h3m3 0h3m2 0h3m-2 0h3m0 0h3m0 0h3m1 0h3m68 0h3m12 0h3m-120 1h3m-1 0h3m9 0h3m2 0h3m-2 0h3m0 0h3m2 0h3m71 0h3m-2 0h3m3 0h3m0 0h3m0 0h3m-107 1h3m1 0h3m3 0h3m0 0h3m0 0h3m-1 0h3m69 0h3m1 0h3m10 0h3m-106 1h3m2 0h3m0 0h3m0 0h3m0 0h3m-2 0h3m-2 0h3m0 0h3m63 0h3m5 0h3m-1 0h3m-1 0h3m175 0h3m-269 1h3m-1 0h3m-2 0h3m-2 0h3m1 0h3m-2 0h3m72 0h3m-2 0h3m0 0h3m-1 0h3m11 0h3m-127 1h3m3 0h3m0 0h3m5 0h3m2 0h3m5 0h3m-2 0h3m63 0h3m2 0h3m-2 0h3m4 0h3m-115 1h3m7 0h3m0 0h3m-1 0h3m-2 0h3m-1 0h3m-2 0h3m4 0h3m-2 0h3m69 0h3m-1 0h3m2 0h3m-2 0h3m2 0h3m9 0h3m20 0h3m-152 1h3m0 0h3m10 0h3m-1 0h3m1 0h3m0 0h3m-1 0h3m-2 0h3m4 0h3m62 0h3m0 0h3m0 0h3m-1 0h3m4 0h3m-118 1h3m-2 0h3m5 0h3m5 0h3m1 0h3m2 0h3m2 0h3m2 0h3m61 0h3m0 0h3m0 0h3m4 0h3m2 0h3m151 0h3m-275 1h3m2 0h3m0 0h3m-1 0h3m0 0h3m0 0h3m1 0h3m-2 0h3m0 0h3m-2 0h3m-1 0h3m-1 0h3m-1 0h3m0 0h3m63 0h3m-1 0h3m-2 0h3m6 0h3m-115 1h3m1 0h3m13 0h3m0 0h3m-1 0h3m1 0h3m5 0h3m59 0h3m-2 0h3m-1 0h3m0 0h3m2 0h3m2 0h3m-1 0h3m-120 1h3m0 0h3m-1 0h3m-2 0h3m9 0h3m1 0h3m5 0h3m2 0h3m67 0h3m0 0h3m-111 1h3m2 0h3m0 0h3m5 0h3m2 0h3m-2 0h3m-1 0h3m0 0h3m1 0h3m-2 0h3m2 0h3m-2 0h3m56 0h3m-2 0h3m2 0h3m0 0h3m-2 0h3m-2 0h3m1 0h3m-115 1h3m1 0h3m-2 0h3m5 0h3m2 0h3m-2 0h3m2 0h3m5 0h3m0 0h3m69 0h3m-1 0h3m-107 1h3m-1 0h3m-2 0h3m-2 0h3m0 0h3m1 0h3m-2 0h3m4 0h3m3 0h3m1 0h3m60 0h3m0 0h3m-1 0h3m-2 0h3m-2 0h3m4 0h3m-107 1h3m5 0h3m0 0h3m5 0h3m5 0h3m-2 0h3m64 0h3m4 0h3m0 0h3m-1 0h3m9 0h3m-129 1h3m-1 0h3m0 0h3m1 0h3m-1 0h3m3 0h3m3 0h3m-1 0h3m1 0h3m-2 0h3m-2 0h3m0 0h3m59 0h3m-2 0h3m0 0h3m15 0h3m-117 1h3m3 0h3m-2 0h3m-1 0h3m-2 0h3m2 0h3m5 0h3m-2 0h3m-1 0h3m-2 0h3m62 0h3m2 0h3m-2 0h3m-1 0h3m-1 0h3m0 0h3m-111 1h3m9 0h3m11 0h3m0 0h3m-2 0h3m-2 0h3m-2 0h3m69 0h3m1 0h3m23 0h3m-138 1h3m-1 0h3m7 0h3m3 0h3m1 0h3m0 0h3m-1 0h3m0 0h3m-1 0h3m-2 0h3m60 0h3m0 0h3m1 0h3m-2 0h3m-2 0h3m9 0h3m4 0h3m-127 1h3m2 0h3m5 0h3m-2 0h3m13 0h3m0 0h3m-2 0h3m58 0h3m11 0h3m5 0h3m-116 1h3m3 0h3m-2 0h3m5 0h3m9 0h3m-1 0h3m-1 0h3m-2 0h3m56 0h3m0 0h3m-2 0h3m3 0h3m9 0h3m3 0h3m-126 1h3m8 0h3m-2 0h3m2 0h3m1 0h3m0 0h3m0 0h3m0 0h3m0 0h3m-2 0h3m0 0h3m-2 0h3m58 0h3m12 0h3m2 0h3m-119 1h3m13 0h3m8 0h3m0 0h3m-1 0h3m1 0h3m0 0h3m48 0h3m-2 0h3m2 0h3m-2 0h3m2 0h3m5 0h3m-1 0h3m0 0h3m-2 0h3m2 0h3m-1 0h3m-126 1h3m2 0h3m5 0h3m5 0h3m0 0h3m2 0h3m4 0h3m-2 0h3m-1 0h3m-1 0h3m0 0h3m42 0h3m0 0h3m-1 0h3m0 0h3m0 0h3m38 0h3m-147 1h3m-2 0h3m1 0h3m0 0h3m7 0h3m2 0h3m1 0h3m-1 0h3m3 0h3m1 0h3m-1 0h3m0 0h3m0 0h3m-2 0h3m35 0h3m8 0h3m3 0h3m-2 0h3m-2 0h3m2 0h3m-100 1h3m4 0h3m4 0h3m0 0h3m-2 0h3m1 0h3m0 0h3m3 0h3m-2 0h3m5 0h3m1 0h3m21 0h3m0 0h3m-1 0h3m-1 0h3m0 0h3m-1 0h3m-92 1h3m-1 0h3m0 0h3m3 0h3m2 0h3m1 0h3m-2 0h3m2 0h3m1 0h3m0 0h3m-1 0h3m3 0h3m1 0h3m-2 0h3m-2 0h3m-1 0h3m25 0h3m-2 0h3m3 0h3m3 0h3m-1 0h3m8 0h3m3 0h3m-2 0h3m-117 1h3m1 0h3m16 0h3m5 0h3m3 0h3m3 0h3m-2 0h3m-2 0h3m4 0h3m2 0h3m-2 0h3m-2 0h3m26 0h3m0 0h3m-2 0h3m6 0h3m1 0h3m4 0h3m-108 1h3m6 0h3m13 0h3m3 0h3m-1 0h3m-2 0h3m-2 0h3m-1 0h3m4 0h3m-2 0h3m-2 0h3m26 0h3m-2 0h3m3 0h3m4 0h3m8 0h3m-2 0h3m-2 0h3m-112 1h3m7 0h3m-2 0h3m5 0h3m-1 0h3m3 0h3m0 0h3m0 0h3m5 0h3m7 0h3m0 0h3m-1 0h3m0 0h3m-1 0h3m0 0h3m11 0h3m1 0h3m-2 0h3m-2 0h3m4 0h3m-2 0h3m-2 0h3m-2 0h3m-1 0h3m8 0h3m-110 1h3m-2 0h3m-1 0h3m8 0h3m-1 0h3m-2 0h3m1 0h3m-1 0h3m-1 0h3m2 0h3m-2 0h3m-2 0h3m-2 0h3m-2 0h3m4 0h3m-1 0h3m7 0h3m0 0h3m1 0h3m-1 0h3m-1 0h3m9 0h3m-2 0h3m0 0h3m2 0h3m-2 0h3m-2 0h3m-1 0h3m10 0h3m1 0h3m-109 1h3m4 0h3m2 0h3m1 0h3m-2 0h3m-1 0h3m5 0h3m-2 0h3m-2 0h3m-1 0h3m-1 0h3m0 0h3m4 0h3m-1 0h3m6 0h3m-2 0h3m-2 0h3m0 0h3m1 0h3m-1 0h3m16 0h3m-1 0h3m2 0h3m-2 0h3m0 0h3m-2 0h3m18 0h3m-1 0h3m-122 1h3m3 0h3m5 0h3m-2 0h3m3 0h3m3 0h3m-2 0h3m1 0h3m-2 0h3m1 0h3m-2 0h3m0 0h3m0 0h3m3 0h3m-2 0h3m4 0h3m-2 0h3m-2 0h3m11 0h3m-2 0h3m-2 0h3m1 0h3m3 0h3m2 0h3m0 0h3m5 0h3m-2 0h3m8 0h3m7 0h3m7 0h3m-137 1h3m9 0h3m-2 0h3m-2 0h3m7 0h3m-1 0h3m-1 0h3m9 0h3m-1 0h3m-2 0h3m1 0h3m-2 0h3m-1 0h3m-1 0h3m-1 0h3m6 0h3m1 0h3m-2 0h3m0 0h3m7 0h3m-2 0h3m0 0h3m2 0h3m-2 0h3m-2 0h3m2 0h3m33 0h3m-135 1h3m-1 0h3m2 0h3m2 0h3m-2 0h3m0 0h3m-2 0h3m0 0h3m2 0h3m2 0h3m4 0h3m1 0h3m-2 0h3m7 0h3m3 0h3m9 0h3m-2 0h3m-2 0h3m-2 0h3m0 0h3m1 0h3m-1 0h3m12 0h3m4 0h3m-108 1h3m-1 0h3m12 0h3m11 0h3m-1 0h3m6 0h3m0 0h3m-2 0h3m-1 0h3m-2 0h3m7 0h3m-1 0h3m3 0h3m-2 0h3m-1 0h3m-1 0h3m-2 0h3m-1 0h3m3 0h3m3 0h3m2 0h3m-2 0h3m1 0h3m-2 0h3m-101 1h3m0 0h3m-1 0h3m-2 0h3m-2 0h3m5 0h3m4 0h3m0 0h3m-2 0h3m1 0h3m2 0h3m-1 0h3m-2 0h3m0 0h3m-1 0h3m4 0h3m3 0h3m-2 0h3m1 0h3m1 0h3m3 0h3m1 0h3m-1 0h3m3 0h3m-2 0h3m11 0h3m11 0h3m1 0h3m-119 1h3m1 0h3m5 0h3m8 0h3m-1 0h3m17 0h3m1 0h3m4 0h3m-1 0h3m0 0h3m3 0h3m-1 0h3m-2 0h3m-2 0h3m-2 0h3m5 0h3m-2 0h3m0 0h3m14 0h3m18 0h3m6 0h3m-131 1h3m19 0h3m-1 0h3m1 0h3m5 0h3m0 0h3m-1 0h3m-1 0h3m-2 0h3m7 0h3m3 0h3m-2 0h3m0 0h3m3 0h3m22 0h3m7 0h3m-105 1h3m2 0h3m4 0h3m4 0h3m-1 0h3m0 0h3m-1 0h3m3 0h3m0 0h3m4 0h3m2 0h3m-2 0h3m7 0h3m-1 0h3m1 0h3m8 0h3m0 0h3m36 0h3m-126 1h3m5 0h3m0 0h3m8 0h3m-1 0h3m-2 0h3m14 0h3m2 0h3m4 0h3m12 0h3m7 0h3m38 0h3m-116 1h3m13 0h3m9 0h3m1 0h3m-1 0h3m7 0h3m3 0h3m0 0h3m3 0h3m8 0h3m2 0h3m4 0h3m0 0h3m-80 1h3m11 0h3m0 0h3m1 0h3m7 0h3m3 0h3m2 0h3m7 0h3m-2 0h3m-2 0h3m28 0h3m24 0h3m-130 1h3m-1 0h3m5 0h3m1 0h3m17 0h3m7 0h3m-1 0h3m9 0h3m5 0h3m3 0h3m-1 0h3m-2 0h3m17 0h3m2 0h3m2 0h3m12 0h3m-113 1h3m-1 0h3m-2 0h3m2 0h3m-2 0h3m1 0h3m0 0h3m1 0h3m18 0h3m0 0h3m2 0h3m4 0h3m12 0h3m0 0h3m0 0h3m5 0h3m1 0h3m14 0h3m-119 1h3m15 0h3m8 0h3m4 0h3m3 0h3m15 0h3m1 0h3m-2 0h3m2 0h3m-2 0h3m10 0h3m-1 0h3m-81 1h3m2 0h3m5 0h3m16 0h3m13 0h3m0 0h3m-1 0h3m1 0h3m-60 1h3m5 0h3m4 0h3m-2 0h3m-2 0h3m-1 0h3m0 0h3m1 0h3m7 0h3m1 0h3m11 0h3m-2 0h3m8 0h3m16 0h3m23 0h3m-119 1h3m39 0h3m-1 0h3m-2 0h3m3 0h3m2 0h3m3 0h3m0 0h3m1 0h3m6 0h3m-2 0h3m2 0h3m-90 1h3m7 0h3m11 0h3m8 0h3m5 0h3m1 0h3m13 0h3m2 0h3m23 0h3m-88 1h3m11 0h3m19 0h3m11 0h3m2 0h3m21 0h3m17 0h3m-111 1h3m0 0h3m0 0h3m6 0h3m-1 0h3m3 0h3m1 0h3m-1 0h3m2 0h3m-1 0h3m0 0h3m3 0h3m-1 0h3m1 0h3m-1 0h3m-1 0h3m-2 0h3m1 0h3m-2 0h3m-1 0h3m-2 0h3m-1 0h3m-1 0h3m-1 0h3m-2 0h3m-2 0h3m0 0h3m-1 0h3m6 0h3m6 0h3m2 0h3m2 0h3m23 0h3" stroke="#000" stroke-width="3.4" fill="none"/>
</svg></body></html>
